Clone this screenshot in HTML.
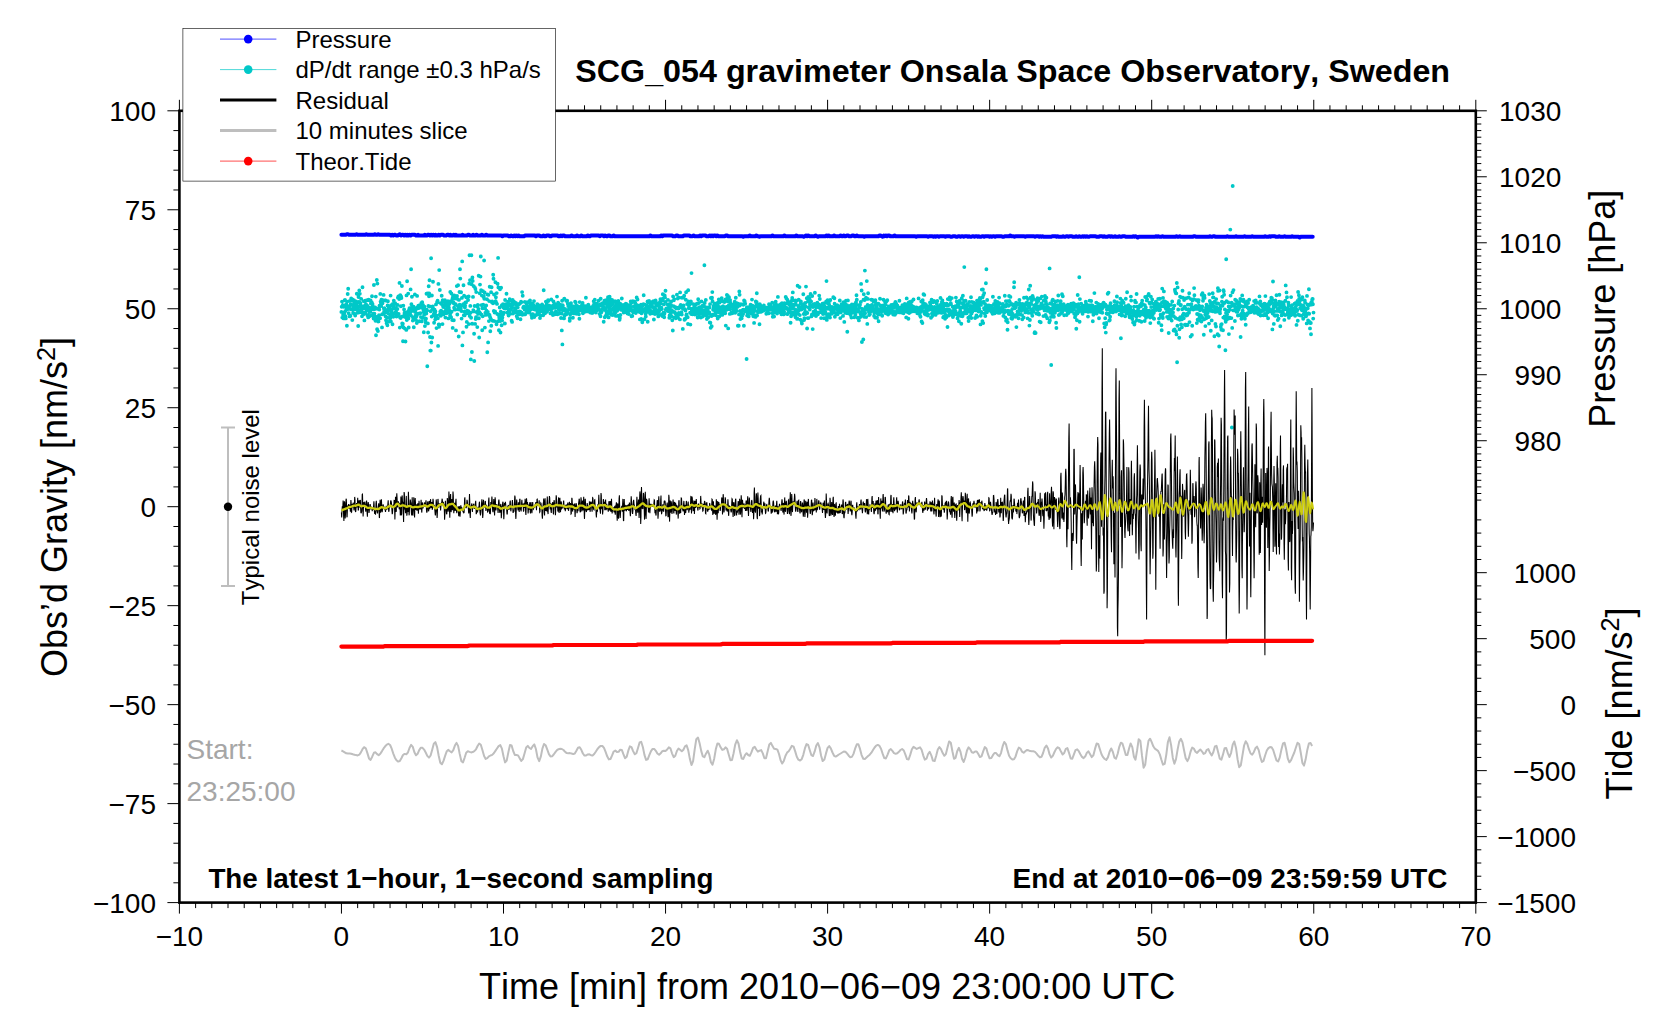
<!DOCTYPE html>
<html lang="en"><head><meta charset="utf-8">
<title>SCG_054 gravimeter Onsala Space Observatory, Sweden</title>
<style>
html,body{margin:0;padding:0;background:#fff;}
body{width:1676px;height:1020px;overflow:hidden;}
svg{display:block;}
text{font-family:"Liberation Sans", Arial, Helvetica, sans-serif;fill:#000;font-kerning:none;}
.an{font-size:28px;}
.lb{font-size:36px;}
.lg{font-size:24px;}
.b{font-weight:bold;}
.tk{stroke:#000;stroke-width:1;fill:none;}
</style></head><body>
<svg width="1676" height="1020" viewBox="0 0 1676 1020">
<rect x="0" y="0" width="1676" height="1020" fill="#fff"/>
<g id="data" fill="none" stroke-linejoin="round">
<path d="M341.4 311.9h0M341.7 306.8h0M342 301.6h0M342.3 317.6h0M342.5 306.5h0M342.8 305.1h0M343.1 315h0M343.3 306.8h0M343.6 318.4h0M343.9 312.9h0M344.2 313.5h0M344.4 317.3h0M344.7 300.2h0M345 299.9h0M345.2 311.3h0M345.5 316.1h0M345.8 318.4h0M346 307.3h0M346.3 304.1h0M346.6 308.9h0M346.9 325.8h0M347.1 301.6h0M347.4 309.3h0M347.7 294h0M347.9 307.7h0M348.2 288.7h0M348.5 308.9h0M348.7 313.3h0M349 306.2h0M349.3 306.1h0M349.6 316.4h0M349.8 300.9h0M350.1 308.7h0M350.4 315.9h0M350.6 304.5h0M350.9 309.2h0M351.2 298.5h0M351.4 308.9h0M351.7 300.6h0M352 309.5h0M352.3 320.1h0M352.5 299.4h0M352.8 305.6h0M353.1 313.1h0M353.3 309.6h0M353.6 309.1h0M353.9 300.2h0M354.1 303.3h0M354.4 313.7h0M354.7 306.6h0M355 302.5h0M355.2 315.6h0M355.5 304.5h0M355.8 309.4h0M356 301.5h0M356.3 307.2h0M356.6 304.3h0M356.8 293.8h0M357.1 305.7h0M357.4 309h0M357.7 312.7h0M357.9 308.7h0M358.2 326h0M358.5 297h0M358.7 302h0M359 311h0M359.3 290.4h0M359.5 312.2h0M359.8 293.7h0M360.1 306.9h0M360.4 302.9h0M360.6 305.3h0M360.9 311.1h0M361.2 298.9h0M361.4 311.2h0M361.7 309.4h0M362 316.3h0M362.2 312.2h0M362.5 287.2h0M362.8 313.2h0M363.1 307.1h0M363.3 314.5h0M363.6 306.3h0M363.9 301.2h0M364.1 308.4h0M364.4 320.4h0M364.7 306.6h0M364.9 312.8h0M365.2 300.8h0M365.5 313.4h0M365.8 307.6h0M366 304.2h0M366.3 309.3h0M366.6 310.5h0M366.8 307h0M367.1 300.1h0M367.4 315.2h0M367.6 305.9h0M367.9 315h0M368.2 317.4h0M368.5 307.5h0M368.7 299.7h0M369 300.2h0M369.3 311h0M369.5 312.1h0M369.8 308.1h0M370.1 316h0M370.3 311.3h0M370.6 300.5h0M370.9 303.6h0M371.2 308.7h0M371.4 307.8h0M371.7 302.2h0M372 296.2h0M372.2 315h0M372.5 303.9h0M372.8 306h0M373 309.2h0M373.3 313.7h0M373.6 318.5h0M373.9 285h0M374.1 308.3h0M374.4 313.7h0M374.7 316.5h0M374.9 309h0M375.2 307.5h0M375.5 320.7h0M375.8 296.6h0M376 335.3h0M376.3 316.9h0M376.6 320.4h0M376.8 280h0M377.1 329.3h0M377.4 283.6h0M377.6 308.7h0M377.9 331.1h0M378.2 321.5h0M378.5 321.4h0M378.7 318.1h0M379 315.3h0M379.3 309.6h0M379.5 305.7h0M379.8 306.6h0M380.1 318.2h0M380.3 293.9h0M380.6 301.6h0M380.9 303.7h0M381.2 306.1h0M381.4 299.8h0M381.7 300h0M382 327.4h0M382.2 314.2h0M382.5 303.3h0M382.8 300.2h0M383 300.3h0M383.3 313.9h0M383.6 294.9h0M383.9 308.4h0M384.1 311.3h0M384.4 308.2h0M384.7 312.3h0M384.9 312.6h0M385.2 300.4h0M385.5 316.2h0M385.7 300.5h0M386 320.2h0M386.3 312h0M386.6 323.3h0M386.8 310.1h0M387.1 317.8h0M387.4 325.3h0M387.6 305.4h0M387.9 301.2h0M388.2 310.6h0M388.4 308.4h0M388.7 313.8h0M389 306.4h0M389.3 321.6h0M389.5 309.3h0M389.8 308.5h0M390.1 318.5h0M390.3 316.6h0M390.6 295.6h0M390.9 321.4h0M391.1 305.2h0M391.4 314.8h0M391.7 311.7h0M392 315.6h0M392.2 309.1h0M392.5 324.2h0M392.8 303.9h0M393 316.3h0M393.3 316.8h0M393.6 307.9h0M393.8 300.6h0M394.1 304.5h0M394.4 308h0M394.7 313.4h0M394.9 304h0M395.2 303.2h0M395.5 308.2h0M395.7 311.8h0M396 307.9h0M396.3 312.5h0M396.5 316.6h0M396.8 308.6h0M397.1 315h0M397.4 309h0M397.6 304.9h0M397.9 297.7h0M398.2 297.1h0M398.4 296.4h0M398.7 314h0M399 296.8h0M399.2 299.1h0M399.5 282.9h0M399.8 327.6h0M400.1 317.4h0M400.3 295.1h0M400.6 318h0M400.9 306.2h0M401.1 296.4h0M401.4 298h0M401.7 316.7h0M401.9 286h0M402.2 323.4h0M402.5 325.4h0M402.8 323.8h0M403 341.2h0M403.3 305.6h0M403.6 327.5h0M403.8 316.3h0M404.1 309.4h0M404.4 314.1h0M404.6 312.5h0M404.9 328.6h0M405.2 317h0M405.5 341.5h0M405.7 316.7h0M406 317h0M406.3 329.9h0M406.5 295.4h0M406.8 320.1h0M407.1 281.2h0M407.4 317.7h0M407.6 312h0M407.9 314.7h0M408.2 293.6h0M408.4 318.5h0M408.7 327.5h0M409 309.9h0M409.2 312.1h0M409.5 308.3h0M409.8 310.9h0M410.1 312h0M410.3 312.5h0M410.6 289.4h0M410.9 315.5h0M411.1 269.2h0M411.4 304.3h0M411.7 307.6h0M411.9 296.7h0M412.2 306.3h0M412.5 310.9h0M412.8 320.6h0M413 317.5h0M413.3 307.5h0M413.6 306.8h0M413.8 327.2h0M414.1 308.4h0M414.4 310.6h0M414.6 317.3h0M414.9 294.4h0M415.2 312h0M415.5 315.6h0M415.7 309.6h0M416 320h0M416.3 308.2h0M416.5 316.2h0M416.8 323.1h0M417.1 295.9h0M417.3 313.8h0M417.6 307.3h0M417.9 308.3h0M418.2 313.9h0M418.4 305.6h0M418.7 313.6h0M419 308.1h0M419.2 307.6h0M419.5 321.3h0M419.8 306.2h0M420 305.1h0M420.3 313.3h0M420.6 307.3h0M420.9 317.1h0M421.1 306.3h0M421.4 303h0M421.7 321.4h0M421.9 307.2h0M422.2 302.2h0M422.5 317.7h0M422.7 305.6h0M423 305h0M423.3 309.5h0M423.6 311.7h0M423.8 332.2h0M424.1 314.9h0M424.4 306.7h0M424.6 310.3h0M424.9 326.1h0M425.2 318.8h0M425.4 320.1h0M425.7 322.4h0M426 318.8h0M426.3 313.5h0M426.5 293.8h0M426.8 309.6h0M427.1 310.5h0M427.3 366.2h0M427.6 293.4h0M427.9 323.4h0M428.1 332.5h0M428.4 306h0M428.7 286.2h0M429 296.3h0M429.2 293.5h0M429.5 280.3h0M429.8 306.5h0M430 337h0M430.3 350.6h0M430.6 311.2h0M430.8 350.6h0M431.1 258.2h0M431.4 342.5h0M431.7 316.6h0M431.9 295.5h0M432.2 337.5h0M432.5 309.6h0M432.7 306.4h0M433 281.7h0M433.3 308.6h0M433.5 315.2h0M433.8 314.1h0M434.1 322.7h0M434.4 313h0M434.6 309.8h0M434.9 313h0M435.2 319.6h0M435.4 311.5h0M435.7 316.9h0M436 304.4h0M436.2 317.7h0M436.5 328.1h0M436.8 315.8h0M437.1 302h0M437.3 302.5h0M437.6 300.8h0M437.9 318.3h0M438.1 345.9h0M438.4 283.9h0M438.7 324.4h0M439 326.7h0M439.2 270.1h0M439.5 324.8h0M439.8 290h0M440 314.1h0M440.3 311.6h0M440.6 303.1h0M440.8 315.8h0M441.1 310.6h0M441.4 303.9h0M441.7 295.7h0M441.9 311.7h0M442.2 302.2h0M442.5 324.1h0M442.7 300.3h0M443 306h0M443.3 307.1h0M443.5 314.4h0M443.8 312.8h0M444.1 305.4h0M444.4 300.7h0M444.6 305.2h0M444.9 300.2h0M445.2 311.3h0M445.4 317.6h0M445.7 303.2h0M446 309.1h0M446.2 304.6h0M446.5 313.3h0M446.8 311.5h0M447.1 307h0M447.3 303h0M447.6 312.2h0M447.9 301.2h0M448.1 307h0M448.4 318.4h0M448.7 305.2h0M448.9 307.8h0M449.2 310.1h0M449.5 303.6h0M449.8 312.5h0M450 314.9h0M450.3 291.9h0M450.6 312.7h0M450.8 301.1h0M451.1 317.3h0M451.4 293.5h0M451.6 311.7h0M451.9 300.7h0M452.2 320.1h0M452.5 298.5h0M452.7 327.9h0M453 296.3h0M453.3 303h0M453.5 302.5h0M453.8 320.2h0M454.1 307.7h0M454.3 295.4h0M454.6 309.5h0M454.9 298.5h0M455.2 304.7h0M455.4 309.6h0M455.7 304.2h0M456 330.4h0M456.2 297.6h0M456.5 297.6h0M456.8 286.1h0M457 296h0M457.3 314.5h0M457.6 299.1h0M457.9 306.3h0M458.1 285.2h0M458.4 309.4h0M458.7 336.5h0M458.9 299.9h0M459.2 306.2h0M459.5 292h0M459.7 304.6h0M460 269.2h0M460.3 278.6h0M460.6 306.9h0M460.8 308.7h0M461.1 292.2h0M461.4 311.1h0M461.6 318.6h0M461.9 297.9h0M462.2 261.4h0M462.4 345.4h0M462.7 305.5h0M463 332.4h0M463.3 304.1h0M463.5 285.2h0M463.8 315.2h0M464.1 295.6h0M464.3 311.6h0M464.6 315.4h0M464.9 307.5h0M465.1 305.7h0M465.4 302.4h0M465.7 302.6h0M466 302.4h0M466.2 297.2h0M466.5 326.7h0M466.8 321.9h0M467 313.3h0M467.3 310.6h0M467.6 313.1h0M467.8 297.3h0M468.1 300h0M468.4 311.3h0M468.7 296.5h0M468.9 324.1h0M469.2 283.5h0M469.5 255.3h0M469.7 316.1h0M470 280.1h0M470.3 305.9h0M470.5 312.8h0M470.8 359.4h0M471.1 317.7h0M471.4 255.3h0M471.6 284.2h0M471.9 352h0M472.2 323.7h0M472.4 277.5h0M472.7 280.9h0M473 296.9h0M473.3 310.1h0M473.5 311.4h0M473.8 286.3h0M474.1 333.8h0M474.3 361h0M474.6 306h0M474.9 287.6h0M475.1 323.9h0M475.4 289.1h0M475.7 319h0M476 317.2h0M476.2 292.1h0M476.5 312h0M476.8 306h0M477 318.3h0M477.3 327.1h0M477.6 306.6h0M477.8 305h0M478.1 313.9h0M478.4 308.9h0M478.7 275.8h0M478.9 318.2h0M479.2 337.5h0M479.5 312.1h0M479.7 293.3h0M480 284.6h0M480.3 313.5h0M480.5 276.6h0M480.8 256.5h0M481.1 290.1h0M481.4 305.1h0M481.6 314.8h0M481.9 295.6h0M482.2 330.3h0M482.4 308.3h0M482.7 316.3h0M483 291.3h0M483.2 304.7h0M483.5 296.8h0M483.8 296h0M484.1 260.5h0M484.3 298.7h0M484.6 292.4h0M484.9 327.6h0M485.1 308.2h0M485.4 312.8h0M485.7 305.7h0M485.9 314.9h0M486.2 305.4h0M486.5 310.7h0M486.8 313.3h0M487 299.2h0M487.3 352.3h0M487.6 294.4h0M487.8 312h0M488.1 342.4h0M488.4 294.9h0M488.6 314.7h0M488.9 321.1h0M489.2 301.1h0M489.5 314.9h0M489.7 286.7h0M490 317h0M490.3 331.3h0M490.5 318.2h0M490.8 319.1h0M491.1 292.2h0M491.3 325.8h0M491.6 287.3h0M491.9 302.3h0M492.2 301.4h0M492.4 302.6h0M492.7 320.7h0M493 303.3h0M493.2 274.8h0M493.5 278.8h0M493.8 310.9h0M494 294.5h0M494.3 321.1h0M494.6 312.5h0M494.9 302.2h0M495.1 311.4h0M495.4 282.2h0M495.7 301.3h0M495.9 297.3h0M496.2 302.7h0M496.5 324.2h0M496.7 293.1h0M497 303.9h0M497.3 314h0M497.6 283.7h0M497.8 321.4h0M498.1 257.9h0M498.4 287.4h0M498.6 314.7h0M498.9 330.2h0M499.2 317h0M499.4 318.8h0M499.7 307.5h0M500 289.3h0M500.3 321.1h0M500.5 332.5h0M500.8 311.6h0M501.1 287.8h0M501.3 314.4h0M501.6 325.3h0M501.9 305.1h0M502.1 320.4h0M502.4 317.5h0M502.7 314.6h0M503 304.3h0M503.2 314.2h0M503.5 307.5h0M503.8 312.8h0M504 306.7h0M504.3 308.3h0M504.6 307.2h0M504.9 323.5h0M505.1 300h0M505.4 308.5h0M505.7 304.2h0M505.9 307.3h0M506.2 305.4h0M506.5 293.8h0M506.7 304.6h0M507 305.1h0M507.3 312.4h0M507.6 307.9h0M507.8 306h0M508.1 301.6h0M508.4 314.7h0M508.6 315.6h0M508.9 310.2h0M509.2 312.7h0M509.4 304h0M509.7 299.2h0M510 313.9h0M510.3 305.3h0M510.5 304.8h0M510.8 310h0M511.1 308.5h0M511.3 300.3h0M511.6 320.7h0M511.9 306.4h0M512.1 321.9h0M512.4 302.5h0M512.7 299.9h0M513 313.5h0M513.2 304.2h0M513.5 303.5h0M513.8 311.3h0M514 301.6h0M514.3 310.6h0M514.6 303.5h0M514.8 308h0M515.1 310.8h0M515.4 312.3h0M515.7 310.2h0M515.9 303h0M516.2 304.4h0M516.5 312.3h0M516.7 316.2h0M517 303.9h0M517.3 307.4h0M517.5 318.3h0M517.8 307.2h0M518.1 304.9h0M518.4 304.6h0M518.6 312.7h0M518.9 312.5h0M519.2 311.5h0M519.4 314.4h0M519.7 303.7h0M520 314h0M520.2 311.6h0M520.5 319.3h0M520.8 302.7h0M521.1 301.6h0M521.3 302.2h0M521.6 313.4h0M521.9 312.7h0M522.1 292.1h0M522.4 314.8h0M522.7 295.8h0M522.9 314.1h0M523.2 307.7h0M523.5 307h0M523.8 306.6h0M524 306.7h0M524.3 308.6h0M524.6 309.4h0M524.8 301.9h0M525.1 314.4h0M525.4 308.3h0M525.6 308.7h0M525.9 308.1h0M526.2 312.3h0M526.5 303.7h0M526.7 307.1h0M527 311h0M527.3 302.2h0M527.5 309.8h0M527.8 308.4h0M528.1 312.5h0M528.3 311.7h0M528.6 306.2h0M528.9 307.9h0M529.2 309.4h0M529.4 311.6h0M529.7 305.7h0M530 300.4h0M530.2 302.5h0M530.5 305.3h0M530.8 309.6h0M531 303.5h0M531.3 314.8h0M531.6 315.5h0M531.9 317.7h0M532.1 314.1h0M532.4 304.9h0M532.7 308.3h0M532.9 314.2h0M533.2 304.6h0M533.5 309.1h0M533.7 315.6h0M534 301.1h0M534.3 317h0M534.6 306.5h0M534.8 309.5h0M535.1 307.6h0M535.4 308h0M535.6 306.5h0M535.9 309.4h0M536.2 315h0M536.5 307h0M536.7 310.1h0M537 309.2h0M537.3 304.1h0M537.5 312.3h0M537.8 306.5h0M538.1 310.4h0M538.3 310.9h0M538.6 305.3h0M538.9 313h0M539.2 314.1h0M539.4 314.4h0M539.7 308.2h0M540 318h0M540.2 311.3h0M540.5 308.6h0M540.8 307.5h0M541 315.5h0M541.3 308.4h0M541.6 309.2h0M541.9 311.1h0M542.1 304.5h0M542.4 308.8h0M542.7 305.9h0M542.9 306.4h0M543.2 315.3h0M543.5 306.9h0M543.7 290.3h0M544 313.2h0M544.3 312.1h0M544.6 307.7h0M544.8 309.8h0M545.1 313.3h0M545.4 306.2h0M545.6 311.7h0M545.9 301.6h0M546.2 309.4h0M546.4 307.2h0M546.7 303.9h0M547 311.8h0M547.3 308.9h0M547.5 309.3h0M547.8 310h0M548.1 300.3h0M548.3 301h0M548.6 308h0M548.9 305.8h0M549.1 308.1h0M549.4 305.6h0M549.7 306.6h0M550 308.3h0M550.2 307.3h0M550.5 313.4h0M550.8 309.3h0M551 306.8h0M551.3 299.5h0M551.6 311.3h0M551.8 308.4h0M552.1 307.3h0M552.4 305.9h0M552.7 313.1h0M552.9 315h0M553.2 305.5h0M553.5 301.5h0M553.7 307.6h0M554 307.7h0M554.3 307.8h0M554.5 303.7h0M554.8 314.3h0M555.1 304.5h0M555.4 307.5h0M555.6 312.1h0M555.9 311.5h0M556.2 312h0M556.4 304.8h0M556.7 314h0M557 296.6h0M557.2 307.3h0M557.5 314.3h0M557.8 313.6h0M558.1 302.8h0M558.3 305.3h0M558.6 308.6h0M558.9 313.7h0M559.1 305.1h0M559.4 309.7h0M559.7 312.4h0M559.9 309.4h0M560.2 304.8h0M560.5 307.1h0M560.8 305.3h0M561 318h0M561.3 307.4h0M561.6 313.5h0M561.8 330.4h0M562.1 300.8h0M562.4 344.4h0M562.6 305.1h0M562.9 305.7h0M563.2 310.3h0M563.5 309.8h0M563.7 308.5h0M564 318.4h0M564.3 298.6h0M564.5 315.7h0M564.8 310.6h0M565.1 309h0M565.3 314.5h0M565.6 310.9h0M565.9 310h0M566.2 300.8h0M566.4 314.2h0M566.7 310.2h0M567 311.2h0M567.2 300.8h0M567.5 311.9h0M567.8 303.7h0M568 312.7h0M568.3 305.9h0M568.6 305.9h0M568.9 309.8h0M569.1 307.9h0M569.4 306h0M569.7 320.7h0M569.9 318.3h0M570.2 314.5h0M570.5 307.1h0M570.8 309.7h0M571 303.1h0M571.3 305.8h0M571.6 310.3h0M571.8 312.4h0M572.1 307.6h0M572.4 308.2h0M572.6 306.1h0M572.9 317.7h0M573.2 308.3h0M573.5 310.3h0M573.7 313.4h0M574 312.6h0M574.3 310.6h0M574.5 307.9h0M574.8 312.4h0M575.1 301.7h0M575.3 308.2h0M575.6 302.2h0M575.9 312.6h0M576.2 305.2h0M576.4 313.8h0M576.7 310.7h0M577 306.2h0M577.2 313h0M577.5 313.1h0M577.8 309.3h0M578 306.8h0M578.3 306.5h0M578.6 309.4h0M578.9 314.3h0M579.1 310.5h0M579.4 318.8h0M579.7 302.1h0M579.9 307.9h0M580.2 308.2h0M580.5 308.8h0M580.7 308.2h0M581 310.3h0M581.3 307.5h0M581.6 310.5h0M581.8 305.5h0M582.1 309.6h0M582.4 305.4h0M582.6 302.9h0M582.9 313.2h0M583.2 305.6h0M583.4 306.1h0M583.7 306.3h0M584 307.1h0M584.3 312h0M584.5 310.9h0M584.8 308.4h0M585.1 310.9h0M585.3 308.3h0M585.6 306.3h0M585.9 297.8h0M586.1 309.9h0M586.4 308.6h0M586.7 310.2h0M587 311.4h0M587.2 308.1h0M587.5 309.3h0M587.8 307.9h0M588 309.1h0M588.3 304.7h0M588.6 308.6h0M588.8 307.4h0M589.1 308.9h0M589.4 307.2h0M589.7 308.4h0M589.9 311.1h0M590.2 312.6h0M590.5 312h0M590.7 308.6h0M591 310.8h0M591.3 309.4h0M591.5 307.2h0M591.8 307.2h0M592.1 313.1h0M592.4 312.9h0M592.6 307.9h0M592.9 306.6h0M593.2 306h0M593.4 310.1h0M593.7 301.3h0M594 304.4h0M594.2 308.1h0M594.5 308.1h0M594.8 299.8h0M595.1 304.1h0M595.3 311.1h0M595.6 305.5h0M595.9 312.6h0M596.1 311.7h0M596.4 303.8h0M596.7 310.4h0M596.9 303.9h0M597.2 306.5h0M597.5 309h0M597.8 307.9h0M598 307h0M598.3 309.6h0M598.6 300.7h0M598.8 309.4h0M599.1 309.3h0M599.4 309.6h0M599.6 313.9h0M599.9 304.6h0M600.2 310.6h0M600.5 316.2h0M600.7 298.7h0M601 305.6h0M601.3 312.6h0M601.5 312.1h0M601.8 303.6h0M602.1 305.3h0M602.4 304.2h0M602.6 303.3h0M602.9 308.6h0M603.2 306.6h0M603.4 307.7h0M603.7 321.8h0M604 309.7h0M604.2 301.8h0M604.5 300.8h0M604.8 317.2h0M605.1 303.6h0M605.3 308.9h0M605.6 316h0M605.9 309h0M606.1 300.1h0M606.4 311.6h0M606.7 313.5h0M606.9 306.9h0M607.2 304.4h0M607.5 301.7h0M607.8 313.7h0M608 297.3h0M608.3 299.7h0M608.6 317.4h0M608.8 311h0M609.1 304h0M609.4 306.7h0M609.6 296.8h0M609.9 309.1h0M610.2 301.6h0M610.5 299.4h0M610.7 313.3h0M611 306h0M611.3 314.8h0M611.5 309.9h0M611.8 303h0M612.1 300h0M612.3 309.6h0M612.6 315h0M612.9 303.7h0M613.2 309.3h0M613.4 309.7h0M613.7 308.1h0M614 314.8h0M614.2 313.1h0M614.5 308.6h0M614.8 306.7h0M615 301.1h0M615.3 308.5h0M615.6 312.3h0M615.9 315.9h0M616.1 310.2h0M616.4 304.3h0M616.7 305.7h0M616.9 301.4h0M617.2 310.8h0M617.5 305.9h0M617.7 303.6h0M618 315.8h0M618.3 301h0M618.6 306.8h0M618.8 308.5h0M619.1 307h0M619.4 308.5h0M619.6 319.8h0M619.9 318.1h0M620.2 303.6h0M620.4 314.9h0M620.7 307.9h0M621 309.7h0M621.3 307.3h0M621.5 308.5h0M621.8 298.5h0M622.1 306h0M622.3 308.7h0M622.6 305.3h0M622.9 310.2h0M623.1 305h0M623.4 308.5h0M623.7 312.6h0M624 307h0M624.2 312.4h0M624.5 305.7h0M624.8 307h0M625 311.1h0M625.3 307.3h0M625.6 308.2h0M625.8 303.7h0M626.1 309.1h0M626.4 308.4h0M626.7 304.2h0M626.9 306h0M627.2 306.4h0M627.5 313.6h0M627.7 309.8h0M628 312.3h0M628.3 310.5h0M628.5 309.6h0M628.8 314.1h0M629.1 305.5h0M629.4 308.7h0M629.6 308.5h0M629.9 308.1h0M630.2 304.7h0M630.4 307.1h0M630.7 301.5h0M631 309.4h0M631.2 310.5h0M631.5 316.2h0M631.8 302.6h0M632.1 310.5h0M632.3 316h0M632.6 301.4h0M632.9 301.1h0M633.1 312.2h0M633.4 310.5h0M633.7 306.4h0M634 310.1h0M634.2 306.9h0M634.5 301.8h0M634.8 311.8h0M635 307.4h0M635.3 303h0M635.6 306.7h0M635.8 313.1h0M636.1 307h0M636.4 305.4h0M636.7 297.5h0M636.9 308.4h0M637.2 305.1h0M637.5 299.5h0M637.7 311.1h0M638 310.7h0M638.3 306.8h0M638.5 311.6h0M638.8 307.2h0M639.1 307.6h0M639.4 305.7h0M639.6 312.1h0M639.9 319.4h0M640.2 308.6h0M640.4 311.5h0M640.7 307.6h0M641 304.7h0M641.2 319h0M641.5 313.3h0M641.8 306.6h0M642.1 308.2h0M642.3 322.2h0M642.6 305.4h0M642.9 311.4h0M643.1 310.5h0M643.4 304.1h0M643.7 295.2h0M643.9 309.6h0M644.2 309.6h0M644.5 319.3h0M644.8 310h0M645 304.7h0M645.3 308.6h0M645.6 314h0M645.8 316.5h0M646.1 309.2h0M646.4 304.9h0M646.6 311.9h0M646.9 311.8h0M647.2 307.5h0M647.5 301.4h0M647.7 321.8h0M648 302.3h0M648.3 311.8h0M648.5 301.3h0M648.8 310.5h0M649.1 300.9h0M649.3 309.2h0M649.6 306.2h0M649.9 309.9h0M650.2 313.8h0M650.4 304.7h0M650.7 312.6h0M651 311h0M651.2 311.8h0M651.5 302.3h0M651.8 305h0M652 303h0M652.3 312h0M652.6 307.1h0M652.9 313.3h0M653.1 303.1h0M653.4 301.3h0M653.7 307.7h0M653.9 319.5h0M654.2 307.2h0M654.5 313.1h0M654.7 310.1h0M655 314.1h0M655.3 309.1h0M655.6 300.4h0M655.8 301.5h0M656.1 303.6h0M656.4 305.8h0M656.6 311h0M656.9 311.5h0M657.2 313.7h0M657.4 305h0M657.7 303.9h0M658 304.3h0M658.3 316.4h0M658.5 310h0M658.8 314.3h0M659.1 311.4h0M659.3 306.7h0M659.6 307.3h0M659.9 302h0M660.1 309.4h0M660.4 299.1h0M660.7 303.2h0M661 309h0M661.2 307.4h0M661.5 314.7h0M661.8 309h0M662 315.1h0M662.3 316.1h0M662.6 300.2h0M662.8 294.3h0M663.1 298.5h0M663.4 312.6h0M663.7 315.1h0M663.9 304.4h0M664.2 317.3h0M664.5 313.6h0M664.7 295.5h0M665 297.4h0M665.3 301.9h0M665.5 290.8h0M665.8 309.7h0M666.1 309h0M666.4 308.5h0M666.6 310.2h0M666.9 309h0M667.2 310.7h0M667.4 309.5h0M667.7 304.5h0M668 299.9h0M668.3 309.1h0M668.5 311.3h0M668.8 306.9h0M669.1 304.2h0M669.3 317.8h0M669.6 315.5h0M669.9 307.3h0M670.1 305.5h0M670.4 306.6h0M670.7 313.1h0M671 305h0M671.2 301.5h0M671.5 316.2h0M671.8 310.1h0M672 311.7h0M672.3 320.2h0M672.6 311.9h0M672.8 330.5h0M673.1 296.4h0M673.4 311.7h0M673.7 306.2h0M673.9 300.3h0M674.2 299.1h0M674.5 317.4h0M674.7 312.2h0M675 307.3h0M675.3 313.2h0M675.5 307.2h0M675.8 318.3h0M676.1 308.4h0M676.4 316.2h0M676.6 307.7h0M676.9 294.8h0M677.2 314.3h0M677.4 316.7h0M677.7 298.6h0M678 317.5h0M678.2 307.6h0M678.5 308.5h0M678.8 313h0M679.1 297.6h0M679.3 313.3h0M679.6 314.2h0M679.9 319.4h0M680.1 292.4h0M680.4 305.6h0M680.7 305h0M680.9 306.2h0M681.2 307.6h0M681.5 312.2h0M681.8 314.6h0M682 297.8h0M682.3 307.4h0M682.6 308.2h0M682.8 328.9h0M683.1 308.2h0M683.4 297.5h0M683.6 305.4h0M683.9 309h0M684.2 295.7h0M684.5 319.8h0M684.7 319h0M685 309.3h0M685.3 318.9h0M685.5 310.5h0M685.8 299.7h0M686.1 292.3h0M686.3 315.3h0M686.6 314.5h0M686.9 317.1h0M687.2 303.9h0M687.4 304.2h0M687.7 317.3h0M688 324h0M688.2 290.3h0M688.5 301.5h0M688.8 308.3h0M689 307.1h0M689.3 308.1h0M689.6 303h0M689.9 304.2h0M690.1 312.6h0M690.4 324.6h0M690.7 303.3h0M690.9 301.5h0M691.2 314.1h0M691.5 273.1h0M691.7 311.3h0M692 312.9h0M692.3 308.7h0M692.6 314.2h0M692.8 310.7h0M693.1 309h0M693.4 304.1h0M693.6 310.7h0M693.9 313.2h0M694.2 311.9h0M694.4 306.3h0M694.7 311.3h0M695 314.6h0M695.3 310.7h0M695.5 309h0M695.8 314h0M696.1 304.3h0M696.3 308.6h0M696.6 308.5h0M696.9 303.6h0M697.1 308.5h0M697.4 309.3h0M697.7 317.5h0M698 311.5h0M698.2 299.3h0M698.5 310.2h0M698.8 303h0M699 314.8h0M699.3 307.3h0M699.6 313.2h0M699.9 310.1h0M700.1 313.3h0M700.4 311.9h0M700.7 308.6h0M700.9 317.5h0M701.2 307.7h0M701.5 301.4h0M701.7 306.7h0M702 312.5h0M702.3 310h0M702.6 305.8h0M702.8 316.5h0M703.1 314.4h0M703.4 312.1h0M703.6 314.8h0M703.9 312.7h0M704.2 306.4h0M704.4 265.2h0M704.7 303h0M705 311.2h0M705.3 310.4h0M705.5 307.1h0M705.8 299.9h0M706.1 312.1h0M706.3 315.6h0M706.6 313.9h0M706.9 319h0M707.1 312.7h0M707.4 307.8h0M707.7 311.6h0M708 311.2h0M708.2 317.5h0M708.5 307.4h0M708.8 307.5h0M709 313.8h0M709.3 312.4h0M709.6 307.6h0M709.8 322.5h0M710.1 304.1h0M710.4 322.8h0M710.7 327.7h0M710.9 298h0M711.2 315h0M711.5 316h0M711.7 326.2h0M712 297.7h0M712.3 292.1h0M712.5 301.3h0M712.8 315.2h0M713.1 309.7h0M713.4 314.5h0M713.6 306.1h0M713.9 307.7h0M714.2 304.8h0M714.4 303.7h0M714.7 314.2h0M715 310.5h0M715.2 307.4h0M715.5 311.3h0M715.8 315.2h0M716.1 308.5h0M716.3 303.4h0M716.6 308.7h0M716.9 310.7h0M717.1 311.7h0M717.4 306h0M717.7 318.5h0M717.9 306h0M718.2 302.4h0M718.5 306.7h0M718.8 299.4h0M719 312.4h0M719.3 316.5h0M719.6 302.6h0M719.8 309.7h0M720.1 312.1h0M720.4 312.1h0M720.6 313.1h0M720.9 310.3h0M721.2 307.3h0M721.5 300.5h0M721.7 298.1h0M722 312.1h0M722.3 314.9h0M722.5 301.3h0M722.8 308.5h0M723.1 306.2h0M723.3 308.6h0M723.6 307.6h0M723.9 310.6h0M724.2 308.9h0M724.4 302.1h0M724.7 310.9h0M725 309h0M725.2 313.3h0M725.5 299.4h0M725.8 325.6h0M726 308.7h0M726.3 307h0M726.6 309.7h0M726.9 294.9h0M727.1 301.1h0M727.4 296.6h0M727.7 295.6h0M727.9 301.5h0M728.2 328.4h0M728.5 305.7h0M728.7 299.2h0M729 297.2h0M729.3 309.1h0M729.6 309.2h0M729.8 313.9h0M730.1 300.1h0M730.4 302.8h0M730.6 307h0M730.9 306.4h0M731.2 305.6h0M731.5 312.5h0M731.7 306.3h0M732 313.2h0M732.3 305.3h0M732.5 312.7h0M732.8 313.1h0M733.1 307.6h0M733.3 309.5h0M733.6 305.7h0M733.9 309.2h0M734.2 308.4h0M734.4 303.5h0M734.7 301.8h0M735 311.3h0M735.2 312.8h0M735.5 310.3h0M735.8 297.8h0M736 306.1h0M736.3 310.4h0M736.6 311.1h0M736.9 303.1h0M737.1 304.6h0M737.4 307h0M737.7 306.4h0M737.9 325.7h0M738.2 303.9h0M738.5 304h0M738.7 325.7h0M739 314.4h0M739.3 291.4h0M739.6 294.7h0M739.8 305.5h0M740.1 310.9h0M740.4 319h0M740.6 314.1h0M740.9 304.3h0M741.2 314.9h0M741.4 316.6h0M741.7 318.3h0M742 311.2h0M742.3 313.6h0M742.5 315.3h0M742.8 309.9h0M743.1 313.9h0M743.3 304.8h0M743.6 309.7h0M743.9 325.8h0M744.1 300.4h0M744.4 302.7h0M744.7 301.2h0M745 303.2h0M745.2 303.7h0M745.5 311.1h0M745.8 309.8h0M746 311.5h0M746.3 309.7h0M746.6 359h0M746.8 307.4h0M747.1 315.6h0M747.4 309.9h0M747.7 313.5h0M747.9 308.4h0M748.2 307.3h0M748.5 310h0M748.7 316.4h0M749 310h0M749.3 312.6h0M749.5 310.6h0M749.8 310.7h0M750.1 306.9h0M750.4 311.4h0M750.6 304.6h0M750.9 309.5h0M751.2 313.6h0M751.4 309.1h0M751.7 307.9h0M752 299.6h0M752.2 308.9h0M752.5 305.7h0M752.8 312.7h0M753.1 307.8h0M753.3 316.2h0M753.6 310h0M753.9 311.7h0M754.1 322.9h0M754.4 306.9h0M754.7 309.9h0M754.9 307.6h0M755.2 315.4h0M755.5 316.9h0M755.8 301.4h0M756 306.8h0M756.3 303.8h0M756.6 301.9h0M756.8 293.2h0M757.1 315.6h0M757.4 311.1h0M757.6 306.2h0M757.9 312.6h0M758.2 311.8h0M758.5 310.8h0M758.7 308.2h0M759 310.6h0M759.3 311.5h0M759.5 324.2h0M759.8 304.2h0M760.1 311.2h0M760.3 305.3h0M760.6 308.1h0M760.9 311.9h0M761.2 309.1h0M761.4 307h0M761.7 311.3h0M762 311.3h0M762.2 309.9h0M762.5 309.2h0M762.8 308.3h0M763.1 306.7h0M763.3 308.5h0M763.6 310.5h0M763.9 305.5h0M764.1 307h0M764.4 309.6h0M764.7 308.7h0M764.9 310h0M765.2 309.6h0M765.5 309.5h0M765.8 308.4h0M766 309.4h0M766.3 313.7h0M766.6 307.7h0M766.8 308.5h0M767.1 307.6h0M767.4 310.4h0M767.6 309.9h0M767.9 309.6h0M768.2 307.7h0M768.5 313.4h0M768.7 308.8h0M769 304.2h0M769.3 309.8h0M769.5 306.4h0M769.8 305.4h0M770.1 309.2h0M770.3 306.8h0M770.6 309.5h0M770.9 306h0M771.2 308.6h0M771.4 308.4h0M771.7 306.9h0M772 313.1h0M772.2 302.8h0M772.5 309.9h0M772.8 316.8h0M773 307.3h0M773.3 312.7h0M773.6 313.1h0M773.9 311.9h0M774.1 316.6h0M774.4 306.6h0M774.7 307.1h0M774.9 305h0M775.2 310.8h0M775.5 309h0M775.7 301.7h0M776 308.5h0M776.3 306.8h0M776.6 310.4h0M776.8 304.9h0M777.1 313.6h0M777.4 308.9h0M777.6 312.3h0M777.9 296.9h0M778.2 310.8h0M778.4 310.9h0M778.7 308.7h0M779 310.1h0M779.3 305.1h0M779.5 308.1h0M779.8 310.3h0M780.1 305.1h0M780.3 306.3h0M780.6 312.6h0M780.9 305.5h0M781.1 304h0M781.4 314.2h0M781.7 309.5h0M782 303.2h0M782.2 304h0M782.5 305.5h0M782.8 309.1h0M783 305.4h0M783.3 308.8h0M783.6 314.4h0M783.8 305.3h0M784.1 311.6h0M784.4 303.3h0M784.7 306.1h0M784.9 308.5h0M785.2 307.1h0M785.5 307.5h0M785.7 296.9h0M786 307.5h0M786.3 298.2h0M786.5 308.2h0M786.8 303.1h0M787.1 314h0M787.4 299.8h0M787.6 314h0M787.9 309.6h0M788.2 309.8h0M788.4 310.8h0M788.7 312.1h0M789 303.7h0M789.2 304.8h0M789.5 309.5h0M789.8 302.1h0M790.1 307.8h0M790.3 312.5h0M790.6 322.8h0M790.9 303.4h0M791.1 316.3h0M791.4 308.9h0M791.7 300.6h0M791.9 312.7h0M792.2 297.9h0M792.5 305.4h0M792.8 292.4h0M793 304.8h0M793.3 306h0M793.6 314.6h0M793.8 312.7h0M794.1 305.3h0M794.4 309.1h0M794.6 304.9h0M794.9 300.7h0M795.2 300.4h0M795.5 317.3h0M795.7 304h0M796 314.7h0M796.3 300.7h0M796.5 310h0M796.8 313.2h0M797.1 318.9h0M797.4 318.7h0M797.6 285.8h0M797.9 312.8h0M798.2 306h0M798.4 306.4h0M798.7 299.7h0M799 310.3h0M799.2 307.9h0M799.5 287.1h0M799.8 315.1h0M800.1 307.7h0M800.3 319.6h0M800.6 303.5h0M800.9 301.5h0M801.1 303.8h0M801.4 309.5h0M801.7 321.8h0M801.9 323.6h0M802.2 306.2h0M802.5 304.3h0M802.8 307.5h0M803 305.4h0M803.3 294.2h0M803.6 306h0M803.8 314h0M804.1 320h0M804.4 318.3h0M804.6 308.9h0M804.9 312.4h0M805.2 302.9h0M805.5 314h0M805.7 306.4h0M806 286.6h0M806.3 312.7h0M806.5 312.1h0M806.8 298.3h0M807.1 328.5h0M807.3 313h0M807.6 318.1h0M807.9 301.4h0M808.2 296.9h0M808.4 318.1h0M808.7 307.5h0M809 301.6h0M809.2 302h0M809.5 298.1h0M809.8 309.5h0M810 304.7h0M810.3 300.6h0M810.6 294h0M810.9 306.3h0M811.1 301.5h0M811.4 316.4h0M811.7 305.6h0M811.9 314.5h0M812.2 296h0M812.5 306.6h0M812.7 329.1h0M813 307.1h0M813.3 304.8h0M813.6 311.6h0M813.8 314.7h0M814.1 305.4h0M814.4 304h0M814.6 304.6h0M814.9 292.8h0M815.2 310.6h0M815.4 313.3h0M815.7 311.5h0M816 316.1h0M816.3 307.4h0M816.5 305.9h0M816.8 303.7h0M817.1 305.7h0M817.3 302.7h0M817.6 304.9h0M817.9 314.3h0M818.1 305.6h0M818.4 304.2h0M818.7 312.8h0M819 307.1h0M819.2 295.6h0M819.5 307.8h0M819.8 299h0M820 311.9h0M820.3 308.3h0M820.6 312.1h0M820.8 305.4h0M821.1 318.1h0M821.4 305h0M821.7 310.7h0M821.9 306h0M822.2 310.1h0M822.5 303.8h0M822.7 306.5h0M823 314h0M823.3 307.1h0M823.5 307h0M823.8 307.4h0M824.1 318.3h0M824.4 303.1h0M824.6 306.2h0M824.9 312.1h0M825.2 308.8h0M825.4 312.2h0M825.7 313.7h0M826 307.8h0M826.2 301.4h0M826.5 281.1h0M826.8 319.9h0M827.1 316.8h0M827.3 308.2h0M827.6 300.1h0M827.9 303.4h0M828.1 308.7h0M828.4 314.3h0M828.7 307.1h0M829 304.3h0M829.2 315.5h0M829.5 306h0M829.8 300.7h0M830 317.6h0M830.3 300h0M830.6 309.1h0M830.8 309.7h0M831.1 307.4h0M831.4 311.9h0M831.7 313.8h0M831.9 307h0M832.2 310.5h0M832.5 307.4h0M832.7 307.9h0M833 310.3h0M833.3 297.3h0M833.5 310.5h0M833.8 309.8h0M834.1 312.5h0M834.4 298.2h0M834.6 303.8h0M834.9 316.7h0M835.2 313h0M835.4 306.9h0M835.7 308.9h0M836 306.9h0M836.2 309.1h0M836.5 308h0M836.8 307.9h0M837.1 305.1h0M837.3 306.6h0M837.6 314.2h0M837.9 309h0M838.1 310.7h0M838.4 306.6h0M838.7 310.9h0M838.9 306.5h0M839.2 312h0M839.5 308h0M839.8 300.5h0M840 309.9h0M840.3 318.1h0M840.6 309.3h0M840.8 312.4h0M841.1 305.9h0M841.4 310.8h0M841.6 304.2h0M841.9 307h0M842.2 306.2h0M842.5 308.3h0M842.7 310.5h0M843 315.9h0M843.3 309.2h0M843.5 302.2h0M843.8 308.1h0M844.1 310.6h0M844.3 321.9h0M844.6 309.4h0M844.9 303.2h0M845.2 312.8h0M845.4 306.5h0M845.7 312.1h0M846 300.8h0M846.2 306.1h0M846.5 313.1h0M846.8 308.1h0M847 305.3h0M847.3 331.8h0M847.6 310.1h0M847.9 300.4h0M848.1 313.2h0M848.4 306.4h0M848.7 309.3h0M848.9 307.3h0M849.2 311.2h0M849.5 306.1h0M849.7 310.1h0M850 308.9h0M850.3 313h0M850.6 315.1h0M850.8 307.7h0M851.1 305.4h0M851.4 317.6h0M851.6 308.9h0M851.9 304.4h0M852.2 307.9h0M852.4 309.7h0M852.7 312.5h0M853 310.5h0M853.3 308.3h0M853.5 311.9h0M853.8 309.8h0M854.1 305.9h0M854.3 317.2h0M854.6 308.5h0M854.9 308.5h0M855.1 303.9h0M855.4 314.4h0M855.7 307.9h0M856 302.3h0M856.2 311.9h0M856.5 295.3h0M856.8 299.7h0M857 305h0M857.3 309.7h0M857.6 317.8h0M857.8 310.3h0M858.1 308.9h0M858.4 310.1h0M858.7 311.5h0M858.9 320.4h0M859.2 311.6h0M859.5 307.8h0M859.7 307.5h0M860 304.8h0M860.3 317.1h0M860.6 313.7h0M860.8 301.9h0M861.1 283.9h0M861.4 314.9h0M861.6 290.5h0M861.9 342h0M862.2 315.6h0M862.4 308.9h0M862.7 310.9h0M863 309.2h0M863.3 339.4h0M863.5 299.7h0M863.8 294.3h0M864.1 316.8h0M864.3 313.1h0M864.6 300h0M864.9 270.6h0M865.1 313.2h0M865.4 309.7h0M865.7 307h0M866 297.7h0M866.2 317.1h0M866.5 307.1h0M866.8 281.1h0M867 309.6h0M867.3 323.9h0M867.6 304.9h0M867.8 298.9h0M868.1 293.2h0M868.4 310h0M868.7 307.2h0M868.9 312h0M869.2 315h0M869.5 307.5h0M869.7 311.8h0M870 314.1h0M870.3 311.9h0M870.5 305.6h0M870.8 307.6h0M871.1 310.2h0M871.4 299.7h0M871.6 308.4h0M871.9 304.9h0M872.2 309.2h0M872.4 299.9h0M872.7 308.9h0M873 306.2h0M873.2 309.2h0M873.5 301.6h0M873.8 311.5h0M874.1 315.9h0M874.3 313h0M874.6 310.6h0M874.9 312.6h0M875.1 317.6h0M875.4 300.3h0M875.7 304.7h0M875.9 308.6h0M876.2 303.2h0M876.5 305.6h0M876.8 307h0M877 317.8h0M877.3 309.5h0M877.6 311.6h0M877.8 314.1h0M878.1 312h0M878.4 303.7h0M878.6 321.3h0M878.9 314.4h0M879.2 310h0M879.5 310.7h0M879.7 309.7h0M880 298.7h0M880.3 308.6h0M880.5 305.4h0M880.8 310.2h0M881.1 311.6h0M881.3 311.7h0M881.6 309.6h0M881.9 315.1h0M882.2 315.8h0M882.4 309.9h0M882.7 310.5h0M883 307.9h0M883.2 305.4h0M883.5 299.8h0M883.8 311h0M884 310.1h0M884.3 309.9h0M884.6 308.6h0M884.9 305.3h0M885.1 302h0M885.4 313h0M885.7 304.4h0M885.9 313.3h0M886.2 308.8h0M886.5 301.2h0M886.7 311.4h0M887 310h0M887.3 300.3h0M887.6 310h0M887.8 309.5h0M888.1 314.5h0M888.4 307.8h0M888.6 310.7h0M888.9 306.4h0M889.2 312.2h0M889.4 308.9h0M889.7 313.1h0M890 307.9h0M890.3 312.5h0M890.5 307.3h0M890.8 310.7h0M891.1 309.5h0M891.3 304.9h0M891.6 312.2h0M891.9 307.6h0M892.1 308.1h0M892.4 305.2h0M892.7 306.4h0M893 311.9h0M893.2 314.5h0M893.5 306.3h0M893.8 311.6h0M894 307.9h0M894.3 304h0M894.6 313h0M894.9 314.7h0M895.1 313.2h0M895.4 301.9h0M895.7 313.5h0M895.9 306.1h0M896.2 303.7h0M896.5 306h0M896.7 311.4h0M897 310.7h0M897.3 305.5h0M897.6 308.2h0M897.8 306.7h0M898.1 309.1h0M898.4 310.5h0M898.6 308.9h0M898.9 309.2h0M899.2 312.4h0M899.4 300.8h0M899.7 308h0M900 309.7h0M900.3 307.8h0M900.5 307.9h0M900.8 308.3h0M901.1 312.4h0M901.3 308.8h0M901.6 311.8h0M901.9 310.9h0M902.1 307.2h0M902.4 305.2h0M902.7 312.9h0M903 305.7h0M903.2 306.5h0M903.5 313.3h0M903.8 306.9h0M904 308.9h0M904.3 306.9h0M904.6 307h0M904.8 303.9h0M905.1 310.3h0M905.4 310.9h0M905.7 311.3h0M905.9 309.1h0M906.2 317.4h0M906.5 305.5h0M906.7 298.4h0M907 307.1h0M907.3 304.1h0M907.5 312h0M907.8 304.4h0M908.1 309.4h0M908.4 318.8h0M908.6 302.7h0M908.9 309.8h0M909.2 313h0M909.4 312.6h0M909.7 301.9h0M910 306.4h0M910.2 307.8h0M910.5 306.5h0M910.8 303.7h0M911.1 311.8h0M911.3 307.8h0M911.6 306.3h0M911.9 301.3h0M912.1 309.7h0M912.4 306.9h0M912.7 306.4h0M912.9 306.4h0M913.2 309.3h0M913.5 299.5h0M913.8 308.3h0M914 311.2h0M914.3 311.3h0M914.6 307.4h0M914.8 309.4h0M915.1 307.8h0M915.4 310.9h0M915.6 309.3h0M915.9 309.3h0M916.2 308.9h0M916.5 307.5h0M916.7 309.2h0M917 309.5h0M917.3 313.3h0M917.5 309.7h0M917.8 308.2h0M918.1 310.6h0M918.3 311h0M918.6 298.4h0M918.9 312.6h0M919.2 311.5h0M919.4 313.9h0M919.7 307.7h0M920 315.6h0M920.2 307.7h0M920.5 316.7h0M920.8 311.9h0M921 307h0M921.3 301.5h0M921.6 321.5h0M921.9 309.3h0M922.1 306.2h0M922.4 323h0M922.7 300.3h0M922.9 307.4h0M923.2 303.9h0M923.5 294.2h0M923.7 303.5h0M924 310.9h0M924.3 294.9h0M924.6 313.8h0M924.8 311.5h0M925.1 304h0M925.4 306.8h0M925.6 314.5h0M925.9 304.7h0M926.2 308h0M926.5 307.2h0M926.7 310.5h0M927 311h0M927.3 306.3h0M927.5 307.2h0M927.8 315.6h0M928.1 314.5h0M928.3 308h0M928.6 309.9h0M928.9 308.5h0M929.2 306.3h0M929.4 308h0M929.7 309.4h0M930 302.5h0M930.2 307.2h0M930.5 303.2h0M930.8 306.2h0M931 317.8h0M931.3 306.5h0M931.6 299.7h0M931.9 313.6h0M932.1 316.2h0M932.4 309.8h0M932.7 308.1h0M932.9 311.3h0M933.2 302.3h0M933.5 308h0M933.7 313.9h0M934 300.9h0M934.3 309.1h0M934.6 307h0M934.8 310.1h0M935.1 310.1h0M935.4 311.5h0M935.6 314.9h0M935.9 309.6h0M936.2 307.6h0M936.4 308.7h0M936.7 303.5h0M937 309.9h0M937.3 300.9h0M937.5 306.9h0M937.8 310.1h0M938.1 312.7h0M938.3 311.8h0M938.6 306.5h0M938.9 310.4h0M939.1 312.6h0M939.4 308.8h0M939.7 306.6h0M940 309.6h0M940.2 305.2h0M940.5 297.9h0M940.8 309.4h0M941 304.5h0M941.3 310.8h0M941.6 312.9h0M941.8 302.1h0M942.1 308.9h0M942.4 300.5h0M942.7 306.9h0M942.9 308.1h0M943.2 317.4h0M943.5 308.5h0M943.7 316.6h0M944 303.6h0M944.3 305.4h0M944.5 312.5h0M944.8 310.8h0M945.1 318.7h0M945.4 314.8h0M945.6 309.7h0M945.9 310.2h0M946.2 305.1h0M946.4 317.3h0M946.7 303.8h0M947 309.2h0M947.2 310.8h0M947.5 327h0M947.8 299.1h0M948.1 305h0M948.3 305.2h0M948.6 299.2h0M948.9 315.5h0M949.1 309.5h0M949.4 312.9h0M949.7 297.4h0M949.9 313.2h0M950.2 299.5h0M950.5 298h0M950.8 303.3h0M951 304.2h0M951.3 311.3h0M951.6 313.5h0M951.8 298.1h0M952.1 314.7h0M952.4 312.1h0M952.6 306.7h0M952.9 317.1h0M953.2 313.7h0M953.5 311.1h0M953.7 315.1h0M954 308.8h0M954.3 307.4h0M954.5 313h0M954.8 310h0M955.1 313h0M955.3 306.3h0M955.6 311.2h0M955.9 297.6h0M956.2 307.3h0M956.4 307.3h0M956.7 301.5h0M957 314.6h0M957.2 313.8h0M957.5 318.3h0M957.8 303.9h0M958.1 303.5h0M958.3 305.1h0M958.6 315.7h0M958.9 321.2h0M959.1 306.6h0M959.4 312.8h0M959.7 300.8h0M959.9 308.1h0M960.2 310.8h0M960.5 302.9h0M960.8 312.2h0M961 316.1h0M961.3 323.8h0M961.6 312.7h0M961.8 298.2h0M962.1 307.6h0M962.4 316.3h0M962.6 316h0M962.9 295.8h0M963.2 305h0M963.5 313.5h0M963.7 302.9h0M964 301h0M964.3 267.1h0M964.5 307.9h0M964.8 311.9h0M965.1 305.2h0M965.3 308.9h0M965.6 300.7h0M965.9 309.6h0M966.2 310.3h0M966.4 313.4h0M966.7 311.6h0M967 311.2h0M967.2 308.7h0M967.5 305.5h0M967.8 303.9h0M968 311h0M968.3 317.8h0M968.6 321.1h0M968.9 308.9h0M969.1 308.9h0M969.4 302h0M969.7 311.7h0M969.9 316.2h0M970.2 315.9h0M970.5 308.4h0M970.7 305.9h0M971 297.3h0M971.3 318h0M971.6 313.6h0M971.8 301.9h0M972.1 308h0M972.4 311.5h0M972.6 307h0M972.9 309.8h0M973.2 305.6h0M973.4 302.4h0M973.7 306h0M974 306.7h0M974.3 309.5h0M974.5 304.1h0M974.8 309.8h0M975.1 318h0M975.3 310.3h0M975.6 306.4h0M975.9 308.1h0M976.1 303.8h0M976.4 315.5h0M976.7 309.8h0M977 300.7h0M977.2 316.7h0M977.5 300.7h0M977.8 309.8h0M978 304.4h0M978.3 311.3h0M978.6 311.5h0M978.8 306h0M979.1 302.2h0M979.4 308.8h0M979.7 299.1h0M979.9 298h0M980.2 299.4h0M980.5 324.4h0M980.7 315.7h0M981 304.9h0M981.3 312h0M981.5 312.9h0M981.8 289.6h0M982.1 302.8h0M982.4 321.1h0M982.6 297.3h0M982.9 289.5h0M983.2 323.1h0M983.4 295.1h0M983.7 301.6h0M984 308.3h0M984.2 293.1h0M984.5 309.6h0M984.8 313.4h0M985.1 303.9h0M985.3 316.1h0M985.6 305.8h0M985.9 283.3h0M986.1 310.8h0M986.4 269.2h0M986.7 305.5h0M986.9 312.3h0M987.2 300h0M987.5 311.1h0M987.8 307.9h0M988 305.8h0M988.3 309.4h0M988.6 305.5h0M988.8 308.1h0M989.1 307.4h0M989.4 307.3h0M989.6 305.6h0M989.9 308.3h0M990.2 307.9h0M990.5 306.3h0M990.7 310.7h0M991 310.5h0M991.3 311.8h0M991.5 308.2h0M991.8 306h0M992.1 308h0M992.4 309.6h0M992.6 313.8h0M992.9 296.8h0M993.2 308.6h0M993.4 311.3h0M993.7 311.5h0M994 304h0M994.2 307.9h0M994.5 310.4h0M994.8 313.2h0M995.1 308.7h0M995.3 301h0M995.6 307.3h0M995.9 310.1h0M996.1 302.6h0M996.4 308.1h0M996.7 312.1h0M996.9 305h0M997.2 305.2h0M997.5 302h0M997.8 306.3h0M998 311.3h0M998.3 305.4h0M998.6 312.9h0M998.8 307.7h0M999.1 297.6h0M999.4 312.9h0M999.6 303.2h0M999.9 303.6h0M1000.2 309.1h0M1000.5 311.3h0M1000.7 308.2h0M1001 311.8h0M1001.3 308.1h0M1001.5 310.4h0M1001.8 311.4h0M1002.1 306.9h0M1002.3 307.3h0M1002.6 307.7h0M1002.9 304h0M1003.2 310.9h0M1003.4 315.9h0M1003.7 310.8h0M1004 305.8h0M1004.2 312.7h0M1004.5 310.4h0M1004.8 295.8h0M1005 306.4h0M1005.3 317.5h0M1005.6 306.6h0M1005.9 301.1h0M1006.1 320.7h0M1006.4 311.2h0M1006.7 304.5h0M1006.9 319.5h0M1007.2 301.1h0M1007.5 329.7h0M1007.7 322.2h0M1008 310.6h0M1008.3 311.5h0M1008.6 305.8h0M1008.8 314.1h0M1009.1 296h0M1009.4 301h0M1009.6 311.2h0M1009.9 302.1h0M1010.2 312.4h0M1010.4 296.9h0M1010.7 314.5h0M1011 304.5h0M1011.3 318.3h0M1011.5 312.3h0M1011.8 303.9h0M1012.1 318.8h0M1012.3 308.9h0M1012.6 313.6h0M1012.9 304.5h0M1013.1 316.1h0M1013.4 305.4h0M1013.7 315.2h0M1014 287.3h0M1014.2 282.3h0M1014.5 306.3h0M1014.8 308.3h0M1015 305.9h0M1015.3 316.8h0M1015.6 305.6h0M1015.8 307.3h0M1016.1 302.6h0M1016.4 327.1h0M1016.7 314.8h0M1016.9 316.5h0M1017.2 304.8h0M1017.5 311.5h0M1017.7 304h0M1018 314.3h0M1018.3 312.2h0M1018.5 318.2h0M1018.8 303.7h0M1019.1 310.4h0M1019.4 299.9h0M1019.6 308.5h0M1019.9 303.4h0M1020.2 307.3h0M1020.4 308.4h0M1020.7 314.6h0M1021 305.7h0M1021.2 311h0M1021.5 310.1h0M1021.8 309.2h0M1022.1 315.1h0M1022.3 319.3h0M1022.6 304h0M1022.9 308.1h0M1023.1 308.4h0M1023.4 309.3h0M1023.7 317.5h0M1024 297.8h0M1024.2 307.6h0M1024.5 305.7h0M1024.8 310.6h0M1025 309.1h0M1025.3 312.4h0M1025.6 305.1h0M1025.8 304.7h0M1026.1 303.2h0M1026.4 297.5h0M1026.7 309h0M1026.9 302.5h0M1027.2 303.3h0M1027.5 310.7h0M1027.7 318.4h0M1028 299.1h0M1028.3 312.7h0M1028.5 305.6h0M1028.8 289.5h0M1029.1 303.5h0M1029.4 325.6h0M1029.6 307.3h0M1029.9 320h0M1030.2 285.7h0M1030.4 297.7h0M1030.7 312.9h0M1031 309.4h0M1031.2 304h0M1031.5 310.5h0M1031.8 300.8h0M1032.1 312.3h0M1032.3 315.7h0M1032.6 296h0M1032.9 296.9h0M1033.1 310.7h0M1033.4 298.9h0M1033.7 311.7h0M1033.9 307.9h0M1034.2 305.5h0M1034.5 333h0M1034.8 332.1h0M1035 304.9h0M1035.3 306.5h0M1035.6 333h0M1035.8 307.7h0M1036.1 300h0M1036.4 313.6h0M1036.6 308.9h0M1036.9 302.8h0M1037.2 309.1h0M1037.5 298.2h0M1037.7 310h0M1038 306.5h0M1038.3 301.1h0M1038.5 314.3h0M1038.8 313.8h0M1039.1 314.6h0M1039.3 307.4h0M1039.6 321.6h0M1039.9 308h0M1040.2 308.6h0M1040.4 298.4h0M1040.7 322.2h0M1041 305.8h0M1041.2 304.3h0M1041.5 303.4h0M1041.8 296.6h0M1042 307.7h0M1042.3 305.3h0M1042.6 305.2h0M1042.9 306.6h0M1043.1 305.3h0M1043.4 316.1h0M1043.7 300.6h0M1043.9 308.4h0M1044.2 307.7h0M1044.5 310.4h0M1044.7 307.6h0M1045 296h0M1045.3 298.8h0M1045.6 314.9h0M1045.8 301.5h0M1046.1 303.3h0M1046.4 297.7h0M1046.6 316.9h0M1046.9 305.1h0M1047.2 318.2h0M1047.4 310.9h0M1047.7 309.4h0M1048 309.1h0M1048.3 307.8h0M1048.5 309.5h0M1048.8 308.8h0M1049.1 308.9h0M1049.3 322.3h0M1049.6 268.4h0M1049.9 320.5h0M1050.1 303.5h0M1050.4 312.8h0M1050.7 308.7h0M1051 316.9h0M1051.2 365h0M1051.5 309.9h0M1051.8 303.9h0M1052 308.4h0M1052.3 300.8h0M1052.6 314.6h0M1052.8 299.6h0M1053.1 305.6h0M1053.4 312.5h0M1053.7 309.3h0M1053.9 316.7h0M1054.2 308.4h0M1054.5 304.8h0M1054.7 305h0M1055 312.8h0M1055.3 307.1h0M1055.6 301.4h0M1055.8 307.9h0M1056.1 322.7h0M1056.4 328h0M1056.6 309.3h0M1056.9 306.4h0M1057.2 305.3h0M1057.4 308h0M1057.7 300.9h0M1058 310.3h0M1058.3 295.5h0M1058.5 307.3h0M1058.8 315.1h0M1059.1 306.8h0M1059.3 314.7h0M1059.6 305.2h0M1059.9 308.8h0M1060.1 313.9h0M1060.4 304.3h0M1060.7 301.3h0M1061 310h0M1061.2 307.3h0M1061.5 309.7h0M1061.8 312.7h0M1062 294.3h0M1062.3 311.7h0M1062.6 309h0M1062.8 296.2h0M1063.1 309.3h0M1063.4 305.7h0M1063.7 304.3h0M1063.9 305.6h0M1064.2 315.2h0M1064.5 309.7h0M1064.7 308.3h0M1065 307h0M1065.3 306.7h0M1065.5 306.4h0M1065.8 310h0M1066.1 306.2h0M1066.4 309.2h0M1066.6 315h0M1066.9 309.2h0M1067.2 307.8h0M1067.4 306.9h0M1067.7 312.6h0M1068 304.6h0M1068.2 312h0M1068.5 313h0M1068.8 306h0M1069.1 306.7h0M1069.3 311.6h0M1069.6 306.5h0M1069.9 311h0M1070.1 308.3h0M1070.4 306.9h0M1070.7 309.3h0M1070.9 308.3h0M1071.2 303.6h0M1071.5 311.4h0M1071.8 308.2h0M1072 310.8h0M1072.3 307.7h0M1072.6 308.5h0M1072.8 305.9h0M1073.1 308.1h0M1073.4 303.2h0M1073.6 306.7h0M1073.9 309.7h0M1074.2 313.8h0M1074.5 307.2h0M1074.7 306.5h0M1075 317.2h0M1075.3 304.5h0M1075.5 315h0M1075.8 315h0M1076.1 305.5h0M1076.3 328.7h0M1076.6 311.3h0M1076.9 320.3h0M1077.2 304.8h0M1077.4 313.4h0M1077.7 295h0M1078 308.2h0M1078.2 311.6h0M1078.5 304.3h0M1078.8 310.5h0M1079 311.7h0M1079.3 277.3h0M1079.6 321.7h0M1079.9 299.1h0M1080.1 307.1h0M1080.4 309.3h0M1080.7 307.8h0M1080.9 309.2h0M1081.2 303.6h0M1081.5 310.9h0M1081.7 308.4h0M1082 306.9h0M1082.3 306.8h0M1082.6 313.7h0M1082.8 309.4h0M1083.1 309.6h0M1083.4 309.3h0M1083.6 310h0M1083.9 305.8h0M1084.2 309.6h0M1084.4 307.3h0M1084.7 307h0M1085 305.9h0M1085.3 311.2h0M1085.5 308.6h0M1085.8 301.7h0M1086.1 303.7h0M1086.3 307.3h0M1086.6 304.6h0M1086.9 309.8h0M1087.2 308h0M1087.4 307.7h0M1087.7 310h0M1088 316.6h0M1088.2 311.9h0M1088.5 305.4h0M1088.8 306.8h0M1089 309.9h0M1089.3 309.8h0M1089.6 300.6h0M1089.9 307.4h0M1090.1 305.5h0M1090.4 310h0M1090.7 311.5h0M1090.9 306h0M1091.2 301h0M1091.5 311.6h0M1091.7 305.1h0M1092 311.3h0M1092.3 308.6h0M1092.6 305.7h0M1092.8 321.2h0M1093.1 308.8h0M1093.4 314.7h0M1093.6 310.5h0M1093.9 311.6h0M1094.2 308h0M1094.4 293.1h0M1094.7 309.5h0M1095 312.5h0M1095.3 307h0M1095.5 307.1h0M1095.8 307.5h0M1096.1 307h0M1096.3 302.6h0M1096.6 313.6h0M1096.9 307.9h0M1097.1 307.6h0M1097.4 310.5h0M1097.7 311.6h0M1098 310.5h0M1098.2 304h0M1098.5 308.8h0M1098.8 308.6h0M1099 318.2h0M1099.3 308.3h0M1099.6 310.3h0M1099.8 305.4h0M1100.1 312h0M1100.4 305.7h0M1100.7 307.8h0M1100.9 311.9h0M1101.2 304.6h0M1101.5 312.5h0M1101.7 308.7h0M1102 309.1h0M1102.3 312.8h0M1102.5 308.3h0M1102.8 307.4h0M1103.1 306.5h0M1103.4 302.9h0M1103.6 302.8h0M1103.9 305.6h0M1104.2 323.4h0M1104.4 303.9h0M1104.7 327.2h0M1105 306.3h0M1105.2 318.3h0M1105.5 304.8h0M1105.8 332.6h0M1106.1 324.6h0M1106.3 322.9h0M1106.6 313.4h0M1106.9 309.6h0M1107.1 308.6h0M1107.4 314.1h0M1107.7 293.7h0M1107.9 306.5h0M1108.2 309.2h0M1108.5 292.6h0M1108.8 313.8h0M1109 306.1h0M1109.3 320.5h0M1109.6 307.3h0M1109.8 320h0M1110.1 316.8h0M1110.4 311.9h0M1110.6 303.3h0M1110.9 307.4h0M1111.2 308h0M1111.5 310.4h0M1111.7 307.5h0M1112 306.8h0M1112.3 309.9h0M1112.5 309.7h0M1112.8 312.4h0M1113.1 308.2h0M1113.3 311.7h0M1113.6 309.7h0M1113.9 307.3h0M1114.2 310.9h0M1114.4 301.2h0M1114.7 305.1h0M1115 310.1h0M1115.2 311.4h0M1115.5 306.6h0M1115.8 309.9h0M1116 311.6h0M1116.3 307h0M1116.6 305.1h0M1116.9 296.5h0M1117.1 302.2h0M1117.4 308.6h0M1117.7 306.9h0M1117.9 306.3h0M1118.2 310.3h0M1118.5 307.9h0M1118.7 308h0M1119 309.1h0M1119.3 308.6h0M1119.6 314.4h0M1119.8 308.7h0M1120.1 307.9h0M1120.4 298.6h0M1120.6 302.9h0M1120.9 338.3h0M1121.2 305.7h0M1121.5 311.5h0M1121.7 315.6h0M1122 314.5h0M1122.3 300.7h0M1122.5 311.2h0M1122.8 308.4h0M1123.1 302.9h0M1123.3 309.6h0M1123.6 302.8h0M1123.9 308.8h0M1124.2 309h0M1124.4 307.5h0M1124.7 310.7h0M1125 311.5h0M1125.2 316.3h0M1125.5 306.1h0M1125.8 298.7h0M1126 306.4h0M1126.3 313.3h0M1126.6 311.6h0M1126.9 309.1h0M1127.1 292.3h0M1127.4 311.4h0M1127.7 306h0M1127.9 311.7h0M1128.2 308h0M1128.5 305.3h0M1128.7 312.4h0M1129 308.5h0M1129.3 315.6h0M1129.6 317.2h0M1129.8 312.6h0M1130.1 308.3h0M1130.4 307h0M1130.6 310.8h0M1130.9 296.6h0M1131.2 300.6h0M1131.4 317.1h0M1131.7 310.8h0M1132 313.1h0M1132.3 319h0M1132.5 310.8h0M1132.8 315.8h0M1133.1 322.5h0M1133.3 310.3h0M1133.6 313.8h0M1133.9 314.1h0M1134.1 306.6h0M1134.4 324.6h0M1134.7 322.3h0M1135 300.7h0M1135.2 302.1h0M1135.5 311.7h0M1135.8 313.8h0M1136 302.4h0M1136.3 316.8h0M1136.6 294h0M1136.8 320.1h0M1137.1 306.7h0M1137.4 313.9h0M1137.7 313.5h0M1137.9 310.2h0M1138.2 314.5h0M1138.5 310.4h0M1138.7 307.4h0M1139 311.4h0M1139.3 320.9h0M1139.5 320.9h0M1139.8 315.8h0M1140.1 304.9h0M1140.4 314.6h0M1140.6 304.8h0M1140.9 306.4h0M1141.2 305.9h0M1141.4 321.8h0M1141.7 303.3h0M1142 311.5h0M1142.2 300.6h0M1142.5 313.1h0M1142.8 304.2h0M1143.1 314.1h0M1143.3 314.3h0M1143.6 313.4h0M1143.9 309.5h0M1144.1 315h0M1144.4 312.6h0M1144.7 321h0M1144.9 305.3h0M1145.2 297h0M1145.5 316h0M1145.8 307.4h0M1146 317.7h0M1146.3 296.9h0M1146.6 310.4h0M1146.8 300.4h0M1147.1 299.5h0M1147.4 316.5h0M1147.6 313.5h0M1147.9 312.9h0M1148.2 295.4h0M1148.5 311.1h0M1148.7 293.9h0M1149 314.6h0M1149.3 310.8h0M1149.5 302.7h0M1149.8 303.6h0M1150.1 317.5h0M1150.3 323.1h0M1150.6 313.7h0M1150.9 296.8h0M1151.2 307.1h0M1151.4 302.4h0M1151.7 313.4h0M1152 315.8h0M1152.2 299.4h0M1152.5 310.8h0M1152.8 314.3h0M1153.1 303.6h0M1153.3 312.6h0M1153.6 318.2h0M1153.9 312.8h0M1154.1 318.7h0M1154.4 306.5h0M1154.7 308h0M1154.9 309.7h0M1155.2 308h0M1155.5 302.9h0M1155.8 301.6h0M1156 307.6h0M1156.3 310.1h0M1156.6 303.4h0M1156.8 308.6h0M1157.1 303.3h0M1157.4 306.5h0M1157.6 309.1h0M1157.9 304.6h0M1158.2 298.9h0M1158.5 308.5h0M1158.7 322.8h0M1159 318.6h0M1159.3 307.5h0M1159.5 310.4h0M1159.8 298.8h0M1160.1 309.8h0M1160.3 304.3h0M1160.6 314.6h0M1160.9 316.6h0M1161.2 306.3h0M1161.4 325.3h0M1161.7 330.2h0M1162 302.5h0M1162.2 288.6h0M1162.5 316.5h0M1162.8 318h0M1163 297.9h0M1163.3 313.2h0M1163.6 301.6h0M1163.9 291.4h0M1164.1 306.2h0M1164.4 304.1h0M1164.7 303.2h0M1164.9 301.5h0M1165.2 306.5h0M1165.5 308.1h0M1165.7 304.9h0M1166 308.7h0M1166.3 304h0M1166.6 302.5h0M1166.8 311.9h0M1167.1 316.9h0M1167.4 302.9h0M1167.6 308.8h0M1167.9 306.2h0M1168.2 308.1h0M1168.4 318.5h0M1168.7 333h0M1169 309.7h0M1169.3 310.3h0M1169.5 316.4h0M1169.8 305h0M1170.1 313.5h0M1170.3 309.8h0M1170.6 318.6h0M1170.9 304.9h0M1171.1 311.4h0M1171.4 310h0M1171.7 320.6h0M1172 313h0M1172.2 301.5h0M1172.5 312.6h0M1172.8 315.4h0M1173 312.4h0M1173.3 308.5h0M1173.6 330.6h0M1173.8 316.2h0M1174.1 329.6h0M1174.4 305.6h0M1174.7 329.4h0M1174.9 289.8h0M1175.2 291.6h0M1175.5 317.9h0M1175.7 293.1h0M1176 331.6h0M1176.3 293.4h0M1176.5 334.4h0M1176.8 283h0M1177.1 362.2h0M1177.4 325.8h0M1177.6 287.4h0M1177.9 318.9h0M1178.2 309.5h0M1178.4 303.6h0M1178.7 302.8h0M1179 300.9h0M1179.2 337.7h0M1179.5 329.2h0M1179.8 319.7h0M1180.1 296.8h0M1180.3 317.1h0M1180.6 305.2h0M1180.9 305h0M1181.1 324.4h0M1181.4 297.4h0M1181.7 319.4h0M1181.9 327.2h0M1182.2 309.2h0M1182.5 290.7h0M1182.8 315.1h0M1183 297.7h0M1183.3 314.6h0M1183.6 313.6h0M1183.8 318.3h0M1184.1 300h0M1184.4 307.2h0M1184.7 306.8h0M1184.9 324.6h0M1185.2 308h0M1185.5 324.7h0M1185.7 325.2h0M1186 309.1h0M1186.3 298.3h0M1186.5 315.5h0M1186.8 313.9h0M1187.1 324.7h0M1187.4 315.1h0M1187.6 325.1h0M1187.9 304.6h0M1188.2 309.8h0M1188.4 309.3h0M1188.7 297.5h0M1189 312.8h0M1189.2 293.3h0M1189.5 322.1h0M1189.8 309.9h0M1190.1 304.6h0M1190.3 304.8h0M1190.6 336.6h0M1190.9 299.1h0M1191.1 304.6h0M1191.4 304.1h0M1191.7 308.1h0M1191.9 334.9h0M1192.2 325.8h0M1192.5 300.4h0M1192.8 299.9h0M1193 307.5h0M1193.3 309.5h0M1193.6 309.2h0M1193.8 299.1h0M1194.1 288.1h0M1194.4 295.3h0M1194.6 308.5h0M1194.9 308.9h0M1195.2 308.3h0M1195.5 306.3h0M1195.7 307.6h0M1196 306h0M1196.3 300.1h0M1196.5 307.6h0M1196.8 323.1h0M1197.1 314h0M1197.3 308.9h0M1197.6 319.6h0M1197.9 300.2h0M1198.2 314.3h0M1198.4 302.1h0M1198.7 300.1h0M1199 305.6h0M1199.2 319.4h0M1199.5 317.1h0M1199.8 320.5h0M1200 310.3h0M1200.3 309h0M1200.6 315.3h0M1200.9 315.5h0M1201.1 315.8h0M1201.4 321.6h0M1201.7 294.8h0M1201.9 308.1h0M1202.2 306.5h0M1202.5 293.2h0M1202.7 317.9h0M1203 300.7h0M1203.3 298h0M1203.6 311h0M1203.8 334.8h0M1204.1 319.4h0M1204.4 295.7h0M1204.6 297.9h0M1204.9 310.4h0M1205.2 314.7h0M1205.4 326.1h0M1205.7 313.3h0M1206 307.7h0M1206.3 318.3h0M1206.5 304.6h0M1206.8 306.4h0M1207.1 313.6h0M1207.3 317.2h0M1207.6 313h0M1207.9 308.2h0M1208.1 307.8h0M1208.4 310.8h0M1208.7 317h0M1209 323.6h0M1209.2 294.1h0M1209.5 306.3h0M1209.8 300.9h0M1210 306.7h0M1210.3 302.6h0M1210.6 310.8h0M1210.8 330.7h0M1211.1 310.2h0M1211.4 309.9h0M1211.7 320.4h0M1211.9 304.2h0M1212.2 306.5h0M1212.5 311.3h0M1212.7 293.2h0M1213 297.4h0M1213.3 302.7h0M1213.5 297.4h0M1213.8 306.6h0M1214.1 306.2h0M1214.4 336.2h0M1214.6 301.7h0M1214.9 308.2h0M1215.2 311.9h0M1215.4 324h0M1215.7 309.2h0M1216 326.5h0M1216.2 299.1h0M1216.5 307.2h0M1216.8 303.3h0M1217.1 311.5h0M1217.3 311.3h0M1217.6 334.3h0M1217.9 288.3h0M1218.1 290.9h0M1218.4 303.6h0M1218.7 335.5h0M1219 308.5h0M1219.2 346.5h0M1219.5 290.5h0M1219.8 311.2h0M1220 313.3h0M1220.3 309h0M1220.6 305.7h0M1220.8 327h0M1221.1 324.7h0M1221.4 329.8h0M1221.7 324.1h0M1221.9 301.6h0M1222.2 296.8h0M1222.5 305.7h0M1222.7 304.8h0M1223 330.3h0M1223.3 317.6h0M1223.5 290.2h0M1223.8 291.3h0M1224.1 294.8h0M1224.4 303h0M1224.6 316.5h0M1224.9 309.4h0M1225.2 319.1h0M1225.4 350.3h0M1225.7 321.8h0M1226 312.9h0M1226.2 259.3h0M1226.5 301.1h0M1226.8 319.4h0M1227.1 314.6h0M1227.3 310.8h0M1227.6 318.7h0M1227.9 317.4h0M1228.1 302.3h0M1228.4 311.6h0M1228.7 306.5h0M1228.9 334.1h0M1229.2 317.7h0M1229.5 318.2h0M1229.8 309.8h0M1230 317.8h0M1230.3 229.6h0M1230.6 295.6h0M1230.8 306.6h0M1231.1 303h0M1231.4 318.1h0M1231.6 302.6h0M1231.9 427.5h0M1232.2 327.9h0M1232.5 292.2h0M1232.7 186h0M1233 304.1h0M1233.3 310.4h0M1233.5 290.1h0M1233.8 305.6h0M1234.1 306h0M1234.3 305.9h0M1234.6 310.4h0M1234.9 321h0M1235.2 299.7h0M1235.4 307.4h0M1235.7 304h0M1236 308.7h0M1236.2 300.4h0M1236.5 311.7h0M1236.8 309.2h0M1237 311.5h0M1237.3 308.5h0M1237.6 311.5h0M1237.9 315.5h0M1238.1 302.3h0M1238.4 306.1h0M1238.7 309.2h0M1238.9 306.2h0M1239.2 303.9h0M1239.5 307h0M1239.7 307.2h0M1240 315h0M1240.3 298.9h0M1240.6 337h0M1240.8 300.8h0M1241.1 306h0M1241.4 318.7h0M1241.6 316.4h0M1241.9 313.1h0M1242.2 295.4h0M1242.4 300.7h0M1242.7 310.7h0M1243 315.8h0M1243.3 306.9h0M1243.5 299.7h0M1243.8 301.6h0M1244.1 306.4h0M1244.3 301.9h0M1244.6 313.9h0M1244.9 318.7h0M1245.1 314.6h0M1245.4 314.8h0M1245.7 324.7h0M1246 303.9h0M1246.2 301.9h0M1246.5 315.2h0M1246.8 304.1h0M1247 301.5h0M1247.3 307.3h0M1247.6 313.2h0M1247.8 313.8h0M1248.1 303.1h0M1248.4 307.9h0M1248.7 309.1h0M1248.9 307.6h0M1249.2 299.7h0M1249.5 310.6h0M1249.7 309.2h0M1250 309.8h0M1250.3 310.6h0M1250.6 312.3h0M1250.8 310.1h0M1251.1 309.2h0M1251.4 309.1h0M1251.6 306.9h0M1251.9 306.9h0M1252.2 310h0M1252.4 309.4h0M1252.7 307.1h0M1253 305.7h0M1253.3 306.3h0M1253.5 309.3h0M1253.8 307.2h0M1254.1 301.1h0M1254.3 312.7h0M1254.6 307.5h0M1254.9 308.1h0M1255.1 309.2h0M1255.4 302.8h0M1255.7 300.4h0M1256 309.9h0M1256.2 309.9h0M1256.5 307.1h0M1256.8 302.7h0M1257 312.9h0M1257.3 309.6h0M1257.6 309.2h0M1257.8 308.5h0M1258.1 309.1h0M1258.4 314.1h0M1258.7 309.3h0M1258.9 313.3h0M1259.2 311.2h0M1259.5 296.4h0M1259.7 310.3h0M1260 304.1h0M1260.3 301.4h0M1260.5 315.5h0M1260.8 312.1h0M1261.1 305.5h0M1261.4 305.2h0M1261.6 304.8h0M1261.9 304.9h0M1262.2 311.1h0M1262.4 304.6h0M1262.7 307h0M1263 309.5h0M1263.2 310.6h0M1263.5 315.3h0M1263.8 307h0M1264.1 305.2h0M1264.3 303.6h0M1264.6 309.1h0M1264.9 313.9h0M1265.1 303.9h0M1265.4 296.1h0M1265.7 309.2h0M1265.9 309.9h0M1266.2 315.3h0M1266.5 308.5h0M1266.8 307.4h0M1267 305.4h0M1267.3 309.9h0M1267.6 312.4h0M1267.8 308.1h0M1268.1 318.2h0M1268.4 306.9h0M1268.6 303.8h0M1268.9 310.4h0M1269.2 304.9h0M1269.5 309.1h0M1269.7 301.8h0M1270 311.1h0M1270.3 310.1h0M1270.5 303.2h0M1270.8 311.4h0M1271.1 300.3h0M1271.3 297.7h0M1271.6 302.3h0M1271.9 298.1h0M1272.2 299.7h0M1272.4 329.4h0M1272.7 313.5h0M1273 281.5h0M1273.2 308.6h0M1273.5 305.8h0M1273.8 323.9h0M1274 311.2h0M1274.3 315h0M1274.6 303h0M1274.9 305h0M1275.1 315.7h0M1275.4 300.5h0M1275.7 303.2h0M1275.9 306.8h0M1276.2 303.8h0M1276.5 295.2h0M1276.7 315.4h0M1277 310.9h0M1277.3 315.5h0M1277.6 309.9h0M1277.8 320.1h0M1278.1 308.9h0M1278.4 304.4h0M1278.6 318.6h0M1278.9 311h0M1279.2 301.7h0M1279.4 294.8h0M1279.7 307.8h0M1280 307.7h0M1280.3 326.3h0M1280.5 311.8h0M1280.8 304.3h0M1281.1 302.1h0M1281.3 304h0M1281.6 315.4h0M1281.9 312h0M1282.2 307.2h0M1282.4 306.8h0M1282.7 302.9h0M1283 310.5h0M1283.2 305.6h0M1283.5 313.6h0M1283.8 305.2h0M1284 302.1h0M1284.3 319.9h0M1284.6 307.5h0M1284.9 309.1h0M1285.1 315.1h0M1285.4 300.8h0M1285.7 285.4h0M1285.9 308.1h0M1286.2 309.1h0M1286.5 292.4h0M1286.7 314.6h0M1287 297.2h0M1287.3 308.1h0M1287.6 313.6h0M1287.8 312h0M1288.1 314.8h0M1288.4 302.7h0M1288.6 305h0M1288.9 317.7h0M1289.2 305.9h0M1289.4 309.9h0M1289.7 315.5h0M1290 310.2h0M1290.3 311.7h0M1290.5 309.9h0M1290.8 315.2h0M1291.1 297.1h0M1291.3 310.3h0M1291.6 308.6h0M1291.9 311.3h0M1292.1 305.2h0M1292.4 310.4h0M1292.7 308.8h0M1293 310.3h0M1293.2 313.9h0M1293.5 314.4h0M1293.8 308.9h0M1294 308.6h0M1294.3 311.4h0M1294.6 303.6h0M1294.8 313h0M1295.1 315.7h0M1295.4 311.6h0M1295.7 303h0M1295.9 306.6h0M1296.2 305.2h0M1296.5 324.9h0M1296.7 309.7h0M1297 311h0M1297.3 310.3h0M1297.5 300.9h0M1297.8 320.7h0M1298.1 292h0M1298.4 314.8h0M1298.6 304.1h0M1298.9 295.2h0M1299.2 298.6h0M1299.4 302.9h0M1299.7 315.3h0M1300 304.3h0M1300.2 307.8h0M1300.5 299.4h0M1300.8 308.4h0M1301.1 307.3h0M1301.3 299.7h0M1301.6 309.8h0M1301.9 315.8h0M1302.1 310.2h0M1302.4 297.2h0M1302.7 305.5h0M1302.9 310h0M1303.2 318.8h0M1303.5 306h0M1303.8 314.2h0M1304 307.2h0M1304.3 311.9h0M1304.6 310h0M1304.8 300.5h0M1305.1 302.5h0M1305.4 312.2h0M1305.6 309.9h0M1305.9 316.4h0M1306.2 308.7h0M1306.5 315.2h0M1306.7 323.4h0M1307 295.9h0M1307.3 308.6h0M1307.5 304.5h0M1307.8 308.2h0M1308.1 320.5h0M1308.3 322.4h0M1308.6 313.5h0M1308.9 289.2h0M1309.2 313.8h0M1309.4 305h0M1309.7 322h0M1310 328.4h0M1310.2 323.1h0M1310.5 304h0M1310.8 323h0M1311 334.2h0M1311.3 302.4h0M1311.6 304.6h0M1311.9 302.2h0M1312.1 300h0M1312.4 298.9h0M1312.7 298.9h0M1312.9 304.3h0M1313.2 318.6h0M1313.5 312.6h0" stroke="#00c8c8" stroke-width="3.9" stroke-linecap="round"/>
<path d="M341.4 234.8L342.5 234.8L343.6 234.8L344.7 234.8L345.8 234.8L346.9 234.2L347.9 234.2L349 234.8L350.1 234.8L351.2 234.8L352.3 234.8L353.3 234.8L354.4 234.8L355.5 234.8L356.6 234.2L357.7 234.8L358.7 234.8L359.8 234.8L360.9 234.8L362 234.8L363.1 234.8L364.1 234.8L365.2 234.8L366.3 234.2L367.4 234.8L368.5 234.8L369.5 234.8L370.6 234.8L371.7 234.8L372.8 234.8L373.9 234.8L374.9 234.2L376 234.8L377.1 234.8L378.2 234.2L379.3 234.8L380.3 234.8L381.4 234.8L382.5 234.8L383.6 234.8L384.7 234.8L385.7 234.8L386.8 234.8L387.9 234.8L389 234.8L390.1 234.8L391.1 235.5L392.2 234.8L393.3 235.5L394.4 234.8L395.5 234.8L396.5 235.5L397.6 235.5L398.7 234.8L399.8 234.2L400.9 235.5L401.9 234.8L403 234.8L404.1 235.5L405.2 234.8L406.3 235.5L407.4 234.8L408.4 235.5L409.5 234.8L410.6 235.5L411.7 234.8L412.8 234.8L413.8 234.8L414.9 234.8L416 235.5L417.1 235.5L418.2 234.8L419.2 235.5L420.3 235.5L421.4 235.5L422.5 235.5L423.6 235.5L424.6 234.8L425.7 235.5L426.8 235.5L427.9 234.8L429 234.8L430 235.5L431.1 234.8L432.2 235.5L433.3 234.8L434.4 235.5L435.4 234.8L436.5 235.5L437.6 235.5L438.7 234.8L439.8 235.5L440.8 234.8L441.9 234.8L443 234.8L444.1 235.5L445.2 235.5L446.2 235.5L447.3 234.8L448.4 234.8L449.5 235.5L450.6 234.8L451.6 235.5L452.7 235.5L453.8 234.8L454.9 235.5L456 234.8L457 235.5L458.1 235.5L459.2 235.5L460.3 235.5L461.4 235.5L462.4 234.8L463.5 235.5L464.6 235.5L465.7 235.5L466.8 235.5L467.8 234.8L468.9 234.8L470 235.5L471.1 235.5L472.2 235.5L473.3 234.8L474.3 235.5L475.4 235.5L476.5 234.8L477.6 235.5L478.7 235.5L479.7 235.5L480.8 235.5L481.9 234.8L483 235.5L484.1 235.5L485.1 235.5L486.2 234.8L487.3 235.5L488.4 235.5L489.5 235.5L490.5 235.5L491.6 235.5L492.7 235.5L493.8 235.5L494.9 235.5L495.9 235.5L497 235.5L498.1 235.5L499.2 235.5L500.3 235.5L501.3 235.5L502.4 236.2L503.5 235.5L504.6 235.5L505.7 235.5L506.7 235.5L507.8 235.5L508.9 236.2L510 236.2L511.1 235.5L512.1 236.2L513.2 236.2L514.3 235.5L515.4 236.2L516.5 235.5L517.5 236.2L518.6 235.5L519.7 236.2L520.8 236.2L521.9 236.2L522.9 236.2L524 236.2L525.1 235.5L526.2 235.5L527.3 235.5L528.3 235.5L529.4 235.5L530.5 235.5L531.6 235.5L532.7 235.5L533.7 235.5L534.8 235.5L535.9 236.2L537 235.5L538.1 235.5L539.2 235.5L540.2 236.2L541.3 236.2L542.4 236.2L543.5 235.5L544.6 236.2L545.6 236.2L546.7 235.5L547.8 235.5L548.9 235.5L550 236.2L551 236.2L552.1 235.5L553.2 235.5L554.3 235.5L555.4 235.5L556.4 235.5L557.5 235.5L558.6 236.2L559.7 236.2L560.8 235.5L561.8 236.2L562.9 235.5L564 235.5L565.1 236.2L566.2 236.2L567.2 236.2L568.3 236.2L569.4 236.2L570.5 236.2L571.6 235.5L572.6 236.2L573.7 236.2L574.8 236.2L575.9 236.2L577 235.5L578 236.2L579.1 236.2L580.2 236.2L581.3 235.5L582.4 236.2L583.4 236.2L584.5 236.2L585.6 236.2L586.7 236.2L587.8 235.5L588.8 236.2L589.9 236.2L591 235.5L592.1 235.5L593.2 235.5L594.2 235.5L595.3 235.5L596.4 235.5L597.5 235.5L598.6 235.5L599.6 236.2L600.7 235.5L601.8 235.5L602.9 235.5L604 236.2L605.1 235.5L606.1 236.2L607.2 236.2L608.3 235.5L609.4 235.5L610.5 236.2L611.5 236.2L612.6 236.2L613.7 235.5L614.8 236.2L615.9 236.2L616.9 236.2L618 236.2L619.1 236.2L620.2 236.2L621.3 236.2L622.3 236.2L623.4 236.2L624.5 236.2L625.6 236.2L626.7 236.2L627.7 236.2L628.8 236.2L629.9 236.2L631 236.2L632.1 236.2L633.1 236.2L634.2 236.2L635.3 236.2L636.4 236.2L637.5 236.2L638.5 236.2L639.6 236.2L640.7 236.2L641.8 236.2L642.9 236.2L643.9 236.2L645 236.2L646.1 236.2L647.2 236.2L648.3 236.2L649.3 236.2L650.4 235.5L651.5 236.2L652.6 236.2L653.7 236.2L654.7 236.2L655.8 236.2L656.9 236.2L658 236.2L659.1 236.2L660.1 236.2L661.2 235.5L662.3 236.2L663.4 235.5L664.5 235.5L665.5 235.5L666.6 235.5L667.7 235.5L668.8 235.5L669.9 235.5L671 235.5L672 235.5L673.1 236.2L674.2 236.2L675.3 236.2L676.4 235.5L677.4 235.5L678.5 236.2L679.6 236.2L680.7 236.2L681.8 236.2L682.8 236.2L683.9 235.5L685 235.5L686.1 235.5L687.2 235.5L688.2 235.5L689.3 235.5L690.4 236.2L691.5 236.2L692.6 236.2L693.6 235.5L694.7 236.2L695.8 236.2L696.9 236.2L698 236.2L699 236.2L700.1 235.5L701.2 236.2L702.3 235.5L703.4 235.5L704.4 235.5L705.5 235.5L706.6 236.2L707.7 236.2L708.8 236.2L709.8 235.5L710.9 236.2L712 235.5L713.1 236.2L714.2 235.5L715.2 235.5L716.3 236.2L717.4 235.5L718.5 236.2L719.6 236.2L720.6 236.2L721.7 236.2L722.8 236.2L723.9 236.2L725 236.2L726 235.5L727.1 235.5L728.2 236.2L729.3 236.2L730.4 236.2L731.5 236.2L732.5 236.2L733.6 236.2L734.7 236.2L735.8 236.2L736.9 236.2L737.9 236.2L739 236.2L740.1 236.2L741.2 236.2L742.3 236.2L743.3 236.8L744.4 236.2L745.5 236.2L746.6 236.2L747.7 236.2L748.7 236.2L749.8 235.5L750.9 236.2L752 236.2L753.1 236.2L754.1 236.2L755.2 236.2L756.3 235.5L757.4 236.2L758.5 236.2L759.5 236.8L760.6 236.2L761.7 236.2L762.8 236.2L763.9 236.2L764.9 236.2L766 236.2L767.1 236.2L768.2 236.2L769.3 236.2L770.3 236.2L771.4 236.2L772.5 235.5L773.6 236.2L774.7 236.2L775.7 236.2L776.8 236.2L777.9 236.2L779 236.2L780.1 236.2L781.1 236.2L782.2 236.2L783.3 236.2L784.4 235.5L785.5 236.2L786.5 236.2L787.6 236.2L788.7 236.2L789.8 236.2L790.9 236.2L791.9 236.2L793 236.2L794.1 236.2L795.2 236.2L796.3 235.5L797.4 236.2L798.4 236.2L799.5 236.2L800.6 236.2L801.7 236.2L802.8 236.2L803.8 236.8L804.9 236.2L806 235.5L807.1 236.2L808.2 235.5L809.2 236.2L810.3 236.2L811.4 236.2L812.5 236.2L813.6 236.2L814.6 236.2L815.7 235.5L816.8 236.2L817.9 236.8L819 236.2L820 236.2L821.1 236.2L822.2 236.2L823.3 236.2L824.4 236.2L825.4 236.2L826.5 235.5L827.6 236.2L828.7 235.5L829.8 236.2L830.8 236.2L831.9 236.2L833 236.2L834.1 235.5L835.2 236.2L836.2 236.2L837.3 236.2L838.4 236.2L839.5 236.2L840.6 235.5L841.6 236.2L842.7 236.2L843.8 235.5L844.9 236.2L846 236.2L847 235.5L848.1 235.5L849.2 236.2L850.3 236.2L851.4 236.2L852.4 235.5L853.5 235.5L854.6 236.2L855.7 236.2L856.8 235.5L857.8 236.2L858.9 236.2L860 236.2L861.1 236.2L862.2 236.2L863.3 236.2L864.3 236.8L865.4 236.2L866.5 236.2L867.6 236.2L868.7 236.2L869.7 236.2L870.8 236.2L871.9 236.2L873 236.2L874.1 236.2L875.1 236.2L876.2 236.2L877.3 236.2L878.4 236.2L879.5 235.5L880.5 235.5L881.6 236.2L882.7 236.8L883.8 235.5L884.9 236.2L885.9 235.5L887 236.2L888.1 235.5L889.2 235.5L890.3 236.2L891.3 236.2L892.4 236.2L893.5 236.2L894.6 235.5L895.7 236.2L896.7 236.2L897.8 236.2L898.9 236.2L900 236.2L901.1 236.2L902.1 236.2L903.2 236.2L904.3 236.2L905.4 236.2L906.5 236.2L907.5 236.2L908.6 236.2L909.7 236.2L910.8 236.2L911.9 236.2L912.9 236.2L914 236.2L915.1 236.2L916.2 236.8L917.3 236.2L918.3 236.2L919.4 236.2L920.5 236.2L921.6 236.2L922.7 236.2L923.7 236.2L924.8 236.2L925.9 236.2L927 236.2L928.1 236.8L929.2 236.2L930.2 236.2L931.3 236.2L932.4 236.2L933.5 236.8L934.6 236.2L935.6 236.8L936.7 236.2L937.8 236.2L938.9 236.8L940 236.2L941 236.2L942.1 236.2L943.2 236.2L944.3 236.2L945.4 236.8L946.4 236.2L947.5 236.2L948.6 236.2L949.7 236.2L950.8 236.8L951.8 236.8L952.9 236.2L954 236.2L955.1 236.2L956.2 236.8L957.2 236.8L958.3 236.2L959.4 236.2L960.5 236.8L961.6 236.2L962.6 236.2L963.7 236.8L964.8 236.2L965.9 236.2L967 236.2L968 236.8L969.1 236.2L970.2 236.8L971.3 236.8L972.4 236.2L973.4 236.2L974.5 236.8L975.6 236.2L976.7 236.2L977.8 236.8L978.8 236.2L979.9 236.8L981 236.8L982.1 236.2L983.2 236.2L984.2 236.8L985.3 236.2L986.4 236.2L987.5 236.2L988.6 236.2L989.6 236.8L990.7 236.2L991.8 236.8L992.9 236.2L994 236.2L995.1 236.8L996.1 236.2L997.2 236.2L998.3 236.2L999.4 236.2L1000.5 236.2L1001.5 236.2L1002.6 236.8L1003.7 236.8L1004.8 236.2L1005.9 236.2L1006.9 236.2L1008 236.2L1009.1 236.2L1010.2 235.5L1011.3 236.2L1012.3 236.2L1013.4 236.2L1014.5 236.8L1015.6 236.2L1016.7 236.2L1017.7 236.2L1018.8 236.2L1019.9 236.2L1021 236.2L1022.1 236.2L1023.1 236.2L1024.2 236.2L1025.3 236.8L1026.4 236.2L1027.5 236.2L1028.5 236.2L1029.6 236.2L1030.7 236.2L1031.8 236.2L1032.9 236.2L1033.9 236.2L1035 236.8L1036.1 236.2L1037.2 236.2L1038.3 236.2L1039.3 236.8L1040.4 236.2L1041.5 236.8L1042.6 236.2L1043.7 236.8L1044.7 236.8L1045.8 236.8L1046.9 236.8L1048 236.8L1049.1 236.8L1050.1 236.8L1051.2 236.8L1052.3 236.2L1053.4 236.2L1054.5 236.2L1055.6 236.2L1056.6 236.8L1057.7 236.2L1058.8 236.8L1059.9 236.8L1061 236.8L1062 236.8L1063.1 236.2L1064.2 236.8L1065.3 236.8L1066.4 236.2L1067.4 236.2L1068.5 236.8L1069.6 236.2L1070.7 236.2L1071.8 236.2L1072.8 236.8L1073.9 236.8L1075 236.8L1076.1 236.2L1077.2 236.8L1078.2 236.8L1079.3 236.2L1080.4 236.8L1081.5 236.8L1082.6 236.2L1083.6 236.8L1084.7 236.2L1085.8 236.8L1086.9 236.2L1088 236.8L1089 236.8L1090.1 236.2L1091.2 236.2L1092.3 236.2L1093.4 236.2L1094.4 236.2L1095.5 236.2L1096.6 236.8L1097.7 236.8L1098.8 236.8L1099.8 236.2L1100.9 236.2L1102 236.2L1103.1 236.8L1104.2 236.2L1105.2 236.8L1106.3 236.8L1107.4 236.8L1108.5 236.2L1109.6 236.2L1110.6 236.8L1111.7 236.2L1112.8 236.8L1113.9 236.8L1115 236.2L1116 236.8L1117.1 236.8L1118.2 236.8L1119.3 236.2L1120.4 236.8L1121.5 236.8L1122.5 236.2L1123.6 236.2L1124.7 236.2L1125.8 236.8L1126.9 236.8L1127.9 236.8L1129 236.8L1130.1 236.8L1131.2 236.8L1132.3 236.8L1133.3 236.2L1134.4 236.8L1135.5 236.2L1136.6 236.8L1137.7 237.5L1138.7 236.8L1139.8 236.8L1140.9 236.8L1142 236.8L1143.1 236.8L1144.1 236.8L1145.2 236.8L1146.3 236.8L1147.4 236.8L1148.5 236.8L1149.5 236.8L1150.6 236.8L1151.7 236.8L1152.8 236.8L1153.9 236.8L1154.9 236.8L1156 236.2L1157.1 236.8L1158.2 236.2L1159.3 236.8L1160.3 236.8L1161.4 236.8L1162.5 236.2L1163.6 236.8L1164.7 236.8L1165.7 236.8L1166.8 236.8L1167.9 236.8L1169 236.8L1170.1 236.8L1171.1 236.8L1172.2 236.8L1173.3 236.8L1174.4 236.8L1175.5 236.8L1176.5 236.2L1177.6 236.8L1178.7 236.8L1179.8 236.2L1180.9 236.8L1181.9 236.8L1183 236.8L1184.1 236.8L1185.2 236.8L1186.3 236.8L1187.4 236.8L1188.4 236.8L1189.5 236.8L1190.6 236.8L1191.7 236.8L1192.8 236.8L1193.8 236.2L1194.9 236.2L1196 236.8L1197.1 236.8L1198.2 236.8L1199.2 236.8L1200.3 236.8L1201.4 236.8L1202.5 236.8L1203.6 236.8L1204.6 236.8L1205.7 236.8L1206.8 236.8L1207.9 236.8L1209 236.8L1210 236.2L1211.1 236.8L1212.2 236.8L1213.3 236.2L1214.4 236.2L1215.4 236.8L1216.5 236.8L1217.6 236.8L1218.7 236.8L1219.8 236.8L1220.8 236.8L1221.9 236.8L1223 236.8L1224.1 236.8L1225.2 236.8L1226.2 236.8L1227.3 236.2L1228.4 236.8L1229.5 236.8L1230.6 236.8L1231.6 236.8L1232.7 236.8L1233.8 236.8L1234.9 236.8L1236 236.2L1237 236.8L1238.1 236.8L1239.2 236.8L1240.3 236.8L1241.4 236.8L1242.4 236.8L1243.5 236.8L1244.6 236.2L1245.7 236.8L1246.8 236.8L1247.8 236.8L1248.9 236.8L1250 236.8L1251.1 236.8L1252.2 236.2L1253.3 236.8L1254.3 236.8L1255.4 236.8L1256.5 236.8L1257.6 236.8L1258.7 236.8L1259.7 236.8L1260.8 236.8L1261.9 236.8L1263 236.8L1264.1 236.8L1265.1 236.2L1266.2 236.8L1267.3 236.8L1268.4 236.8L1269.5 236.2L1270.5 236.8L1271.6 236.2L1272.7 236.2L1273.8 236.2L1274.9 236.2L1275.9 236.8L1277 236.8L1278.1 236.8L1279.2 236.2L1280.3 236.8L1281.3 236.8L1282.4 236.8L1283.5 236.8L1284.6 236.2L1285.7 236.8L1286.7 236.8L1287.8 236.8L1288.9 236.8L1290 236.8L1291.1 236.8L1292.1 236.2L1293.2 236.8L1294.3 236.8L1295.4 236.8L1296.5 236.8L1297.5 236.8L1298.6 236.8L1299.7 237.5L1300.8 236.8L1301.9 236.8L1302.9 236.8L1304 236.8L1305.1 236.8L1306.2 236.8L1307.3 236.8L1308.3 236.8L1309.4 236.8L1310.5 236.8L1311.6 236.8L1312.7 236.8" stroke="#0000ff" stroke-width="4.0" stroke-linecap="round"/>
<path d="M341.4 750.5L343.1 751.3L344.7 752.3L346.3 753.3L347.9 753.6L349.6 753.4L351.2 753.7L352.8 754.3L354.4 754.7L356 755.1L357.7 755.4L359.3 754.7L360.9 752.4L362.5 749.2L364.1 747.2L365.8 748.3L367.4 753.1L369 758.4L370.6 759.9L372.2 756.7L373.9 752.8L375.5 752.3L377.1 754.2L378.7 755.2L380.3 753.8L382 751.1L383.6 748.4L385.2 746.3L386.8 744.6L388.4 743.8L390.1 745L391.7 748.7L393.3 753.6L394.9 757.7L396.5 760.3L398.2 761.6L399.8 761.1L401.4 758.3L403 755L404.6 753.9L406.3 754.3L407.9 752.5L409.5 748L411.1 744.9L412.8 746.9L414.4 752.2L416 755.3L417.6 753.8L419.2 750.1L420.9 747.7L422.5 747.8L424.1 749.6L425.7 752.5L427.3 755.9L429 757.6L430.6 755.5L432.2 749.7L433.8 743.7L435.4 742.1L437.1 747.1L438.7 755.8L440.3 762.7L441.9 764.3L443.5 760.9L445.2 755.6L446.8 751.2L448.4 749.9L450 751.3L451.6 752.4L453.3 750.2L454.9 745.6L456.5 742.9L458.1 745.9L459.7 753.9L461.4 761.3L463 762.4L464.6 757.8L466.2 752.7L467.8 751.2L469.5 751.9L471.1 752.4L472.7 752.1L474.3 751.2L476 749.3L477.6 746L479.2 743.5L480.8 744.7L482.4 750L484.1 756L485.7 758.9L487.3 758.2L488.9 756.4L490.5 755.5L492.2 754.9L493.8 753.3L495.4 750.9L497 748.5L498.6 746.1L500.3 745.1L501.9 748.6L503.5 756.3L505.1 762.4L506.7 760.6L508.4 752.1L510 745L511.6 745.4L513.2 751L514.8 754.9L516.5 755.1L518.1 755.4L519.7 758.4L521.3 760.9L522.9 759.1L524.6 753.2L526.2 747.5L527.8 745.9L529.4 748L531 748.9L532.7 746.2L534.3 744.4L535.9 749L537.5 757.4L539.2 761.2L540.8 756.7L542.4 748.6L544 744L545.6 745.2L547.3 749.7L548.9 754.1L550.5 756.4L552.1 756.3L553.7 754.5L555.4 752.2L557 750.2L558.6 749.2L560.2 748.8L561.8 749L563.5 750L565.1 751.8L566.7 753.1L568.3 753.3L569.9 753.1L571.6 753.5L573.2 754.1L574.8 753.5L576.4 750.8L578 747.8L579.7 747.2L581.3 749.8L582.9 753.5L584.5 755.6L586.1 755.5L587.8 754.4L589.4 754.3L591 755.2L592.6 755.5L594.2 754L595.9 751.5L597.5 749L599.1 747.1L600.7 745.9L602.4 746L604 747.9L605.6 751.8L607.2 756.3L608.8 759.4L610.5 759L612.1 755.4L613.7 751.5L615.3 750.6L616.9 751.9L618.6 751.8L620.2 749.7L621.8 749.9L623.4 754.2L625 758.2L626.7 756.7L628.3 750.7L629.9 746.4L631.5 747.1L633.1 751.1L634.8 754.3L636.4 753.2L638 748L639.6 742.5L641.2 741.8L642.9 747.2L644.5 755.1L646.1 759.9L647.7 759.3L649.3 755.2L651 751.1L652.6 748.9L654.2 748.9L655.8 750.8L657.4 753.5L659.1 754.8L660.7 753.3L662.3 751.2L663.9 750.7L665.5 751L667.2 749.5L668.8 747.3L670.4 748.3L672 753.3L673.7 757.2L675.3 755.7L676.9 751L678.5 748.5L680.1 749.7L681.8 751.2L683.4 749.7L685 746.4L686.6 745.4L688.2 750.1L689.9 759.1L691.5 765L693.1 761.2L694.7 749.4L696.3 739.2L698 737.6L699.6 743.3L701.2 750.9L702.8 756.4L704.4 757.2L706.1 753.4L707.7 750.7L709.3 754.7L710.9 762.2L712.5 764.7L714.2 758.7L715.8 749.3L717.4 743.6L719 743.8L720.6 747.3L722.3 749.9L723.9 749.3L725.5 747.4L727.1 748.7L728.7 754.4L730.4 760.2L732 760.1L733.6 753.3L735.2 744.6L736.9 740.3L738.5 743.5L740.1 751.7L741.7 758.6L743.3 758.9L745 755.1L746.6 753.2L748.2 755L749.8 755.8L751.4 752.4L753.1 747.8L754.7 746.8L756.3 749.5L757.9 751.6L759.5 750.7L761.2 750.1L762.8 753.4L764.4 758.3L766 758.3L767.6 751.6L769.3 744.4L770.9 742.9L772.5 746.1L774.1 748.7L775.7 749L777.4 749.7L779 754L780.6 760.3L782.2 763.5L783.8 760.9L785.5 755.7L787.1 752.6L788.7 751.2L790.3 748.7L791.9 745.8L793.6 746.6L795.2 751.4L796.8 756.8L798.4 759.7L800.1 760.5L801.7 759.2L803.3 754.8L804.9 748.4L806.5 744.1L808.2 745L809.8 750.2L811.4 755.2L813 756L814.6 751.7L816.3 745.5L817.9 743L819.5 747.3L821.1 755.7L822.7 761.1L824.4 759.6L826 753.4L827.6 747.9L829.2 746.1L830.8 748.3L832.5 752.5L834.1 755.8L835.7 756.6L837.3 755.6L838.9 754.5L840.6 753.5L842.2 752.5L843.8 751.5L845.4 751.7L847 753.4L848.7 755.7L850.3 757.3L851.9 756.9L853.5 753.9L855.1 748.7L856.8 744.3L858.4 744.2L860 748.9L861.6 755.1L863.3 758.7L864.9 758.9L866.5 757.5L868.1 756.1L869.7 754.7L871.4 752.7L873 750.1L874.6 747.5L876.2 745.6L877.8 744.9L879.5 745.9L881.1 749L882.7 753.9L884.3 758.1L885.9 758.4L887.6 754.6L889.2 750.3L890.8 749.1L892.4 750.9L894 753.1L895.7 753.8L897.3 753.3L898.9 751.8L900.5 750L902.1 749L903.8 750.5L905.4 754.7L907 759.1L908.6 759.5L910.2 754.9L911.9 749.2L913.5 746.9L915.1 747.9L916.7 749L918.3 748.1L920 747.3L921.6 749.7L923.2 755.3L924.8 759.6L926.5 758.7L928.1 754L929.7 751.8L931.3 755.3L932.9 760.6L934.6 761.1L936.2 755.7L937.8 749.5L939.4 747.1L941 749.1L942.7 753.1L944.3 755.8L945.9 754.1L947.5 747.6L949.1 741.4L950.8 742.7L952.4 751.3L954 758.8L955.6 757.8L957.2 751.2L958.9 747.8L960.5 751.9L962.1 759.1L963.7 761.9L965.3 757.5L967 750.5L968.6 747.3L970.2 749.1L971.8 752.2L973.4 752.8L975.1 751.5L976.7 751.4L978.3 754L979.9 757L981.5 756.3L983.2 751.4L984.8 747.1L986.4 748.5L988 754.2L989.6 758.3L991.3 758L992.9 755.2L994.5 753L996.1 753.1L997.8 755.1L999.4 756.3L1001 753.1L1002.6 746.4L1004.2 742L1005.9 744.1L1007.5 750.4L1009.1 755.8L1010.7 758.3L1012.3 759.4L1014 759.3L1015.6 756.4L1017.2 751.1L1018.8 747.6L1020.4 748.5L1022.1 751.7L1023.7 752.8L1025.3 751.3L1026.9 750L1028.5 750.3L1030.2 751.1L1031.8 751.3L1033.4 751.3L1035 751.9L1036.6 753.6L1038.3 755.8L1039.9 757.4L1041.5 756.8L1043.1 753L1044.7 747.8L1046.4 745.5L1048 748.5L1049.6 754.4L1051.2 757.5L1052.8 755.9L1054.5 752L1056.1 748.9L1057.7 747.3L1059.3 748.2L1061 751.6L1062.6 754.5L1064.2 753L1065.8 748.8L1067.4 748.1L1069.1 753.1L1070.7 758.5L1072.3 758.7L1073.9 754.4L1075.5 750.2L1077.2 749.3L1078.8 751.2L1080.4 754.2L1082 756.9L1083.6 758.1L1085.3 756.3L1086.9 752.7L1088.5 751.4L1090.1 754.2L1091.7 757.1L1093.4 755.3L1095 748.9L1096.6 743.6L1098.2 743.9L1099.8 749L1101.5 754.2L1103.1 757.2L1104.7 759L1106.3 759.9L1107.9 757.4L1109.6 751.8L1111.2 748.5L1112.8 751.8L1114.4 757.6L1116 758.8L1117.7 753.7L1119.3 746.8L1120.9 742.7L1122.5 743.7L1124.2 749.3L1125.8 755L1127.4 755L1129 748.7L1130.6 743.5L1132.3 747.2L1133.9 756.7L1135.5 759.7L1137.1 750.4L1138.7 739.2L1140.4 741L1142 755.7L1143.6 767.7L1145.2 764.8L1146.8 751.7L1148.5 740.9L1150.1 738.7L1151.7 742.2L1153.3 746.3L1154.9 748.7L1156.6 749.8L1158.2 751.1L1159.8 754.4L1161.4 759.8L1163 764.7L1164.7 763.9L1166.3 754.6L1167.9 742L1169.5 737.3L1171.1 745.1L1172.8 757.9L1174.4 763.7L1176 759.2L1177.6 749.6L1179.2 741.6L1180.9 738.9L1182.5 742.4L1184.1 750.5L1185.7 758.3L1187.4 761.1L1189 757.7L1190.6 751.5L1192.2 747.6L1193.8 748.5L1195.5 751.7L1197.1 752.9L1198.7 751L1200.3 749.5L1201.9 751.3L1203.6 753.9L1205.2 753.1L1206.8 749.8L1208.4 749.1L1210 752.8L1211.7 755.5L1213.3 752.3L1214.9 746.5L1216.5 745.8L1218.1 751.9L1219.8 758.7L1221.4 759.8L1223 754.4L1224.6 748.3L1226.2 748L1227.9 753.4L1229.5 757L1231.1 752.8L1232.7 744.6L1234.3 741.5L1236 747.9L1237.6 759.4L1239.2 767.2L1240.8 765.3L1242.4 755.6L1244.1 745.5L1245.7 741.3L1247.3 743.8L1248.9 749.2L1250.6 753.5L1252.2 754.6L1253.8 752.2L1255.4 748.3L1257 746.6L1258.7 750.1L1260.3 757.1L1261.9 762L1263.5 760.9L1265.1 755.5L1266.8 750.5L1268.4 748.1L1270 747.1L1271.6 747.2L1273.2 750L1274.9 755.5L1276.5 760.5L1278.1 761.5L1279.7 757.6L1281.3 750.1L1283 743.4L1284.6 742.8L1286.2 749.6L1287.8 758.5L1289.4 762.3L1291.1 760.1L1292.7 756.2L1294.3 752.5L1295.9 747.5L1297.5 742.8L1299.2 744.1L1300.8 753L1302.4 762.9L1304 765.6L1305.6 759.6L1307.3 749.9L1308.9 743.4L1310.5 742.9L1312.1 746" stroke="#bebebe" stroke-width="2" stroke-linecap="butt"/>
<path d="M341.4 512.5L341.7 517.4L342 511.4L342.3 506.4L342.5 509.4L342.8 508.1L343.1 500.6L343.3 503L343.6 516L343.9 521L344.2 511.4L344.4 501.3L344.7 502.6L345 512.3L345.2 518.5L345.5 514.1L345.8 505.5L346 499.9L346.3 498.7L346.6 506.1L346.9 516.7L347.1 517.3L347.4 509.7L347.7 505.6L347.9 507.2L348.2 507.6L348.5 504.9L348.7 504L349 506.2L349.3 508.7L349.6 507.6L349.8 504.8L350.1 507.6L350.4 511.7L350.6 507.2L350.9 500.1L351.2 503.5L351.4 512.3L351.7 512L352 504.8L352.3 504.2L352.5 507.5L352.8 505.7L353.1 502.7L353.3 503.7L353.6 506.3L353.9 509.5L354.1 510.4L354.4 503.8L354.7 496.9L355 499.7L355.2 507.6L355.5 511.9L355.8 511.3L356 508.5L356.3 505.3L356.6 503L356.8 504.5L357.1 507.4L357.4 503.7L357.7 497.8L357.9 501.8L358.2 510L358.5 510L358.7 503.8L359 500.2L359.3 502.3L359.5 506.7L359.8 506.3L360.1 500.6L360.4 500L360.6 508L360.9 513.2L361.2 512.2L361.4 512.5L361.7 511.5L362 503.8L362.2 494.5L362.5 494.2L362.8 505.9L363.1 516.4L363.3 512.8L363.6 503.4L363.9 502.2L364.1 506.5L364.4 506.5L364.7 502.7L364.9 501.5L365.2 504.8L365.5 509.7L365.8 511.6L366 509.1L366.3 504.4L366.6 500.6L366.8 503.5L367.1 512.7L367.4 516.8L367.6 511.5L367.9 504.7L368.2 502.1L368.5 504L368.7 509.3L369 512.9L369.3 510.9L369.5 507.8L369.8 506.1L370.1 504.2L370.3 504.8L370.6 507.7L370.9 508.8L371.2 508.4L371.4 507.6L371.7 506.8L372 508.7L372.2 511.1L372.5 509.7L372.8 508L373 509.1L373.3 509.8L373.6 505.9L373.9 501.3L374.1 504L374.4 511.4L374.7 513.9L374.9 511.4L375.2 511.8L375.5 514.7L375.8 511.6L376 503.3L376.3 500.7L376.6 505.3L376.8 509.4L377.1 511L377.4 512.8L377.6 512.9L377.9 510.2L378.2 507.5L378.5 505.1L378.7 503.4L379 508.2L379.3 517.4L379.5 517.5L379.8 506.2L380.1 499.8L380.3 505.8L380.6 512.8L380.9 510.2L381.2 502L381.4 499.2L381.7 505L382 511.5L382.2 512.1L382.5 509.8L382.8 507.2L383 504.5L383.3 505L383.6 508.3L383.9 508.6L384.1 506.7L384.4 507.6L384.7 508.3L384.9 508.2L385.2 510.1L385.5 511.9L385.7 510.6L386 507.6L386.3 505.8L386.6 507.2L386.8 509.5L387.1 508.6L387.4 507.3L387.6 507.2L387.9 503.5L388.2 500.3L388.4 505.3L388.7 511.7L389 510.9L389.3 507.2L389.5 505.9L389.8 506.6L390.1 507.3L390.3 505.1L390.6 501.2L390.9 500.4L391.1 501.5L391.4 502.7L391.7 506.2L392 511.2L392.2 514.1L392.5 513.1L392.8 508.7L393 505.1L393.3 505L393.6 507.1L393.8 506.2L394.1 500.4L394.4 500.5L394.7 512.2L394.9 519.6L395.2 509.8L395.5 496.8L395.7 499.6L396 511.4L396.3 511.8L396.5 499.7L396.8 493.3L397.1 498.5L397.4 505.2L397.6 507.4L397.9 505.4L398.2 502L398.4 501.3L398.7 502.5L399 505L399.2 509.3L399.5 507.9L399.8 503.4L400.1 508.8L400.3 515.5L400.6 507.1L400.9 496.4L401.1 502.4L401.4 515.3L401.7 513.6L401.9 499.7L402.2 495.4L402.5 502.2L402.8 502.8L403 501.8L403.3 513.5L403.6 522L403.8 509.1L404.1 492.1L404.4 493.7L404.6 505.4L404.9 508.8L405.2 508.6L405.5 513.3L405.7 511.7L406 500.2L406.3 495.9L406.5 505.3L406.8 515.7L407.1 513.9L407.4 506.2L407.6 508.3L407.9 512L408.2 502.1L408.4 491.8L408.7 499.6L409 514.1L409.2 515.3L409.5 509.1L409.8 506.5L410.1 502.8L410.3 499.6L410.6 502.2L410.9 504.1L411.1 505.5L411.4 513.1L411.7 515.4L411.9 503.9L412.2 497.3L412.5 506.9L412.8 515.6L413 513.1L413.3 509.1L413.6 504.2L413.8 497.3L414.1 501.6L414.4 515.3L414.6 517.5L414.9 505.8L415.2 498.1L415.5 503.2L415.7 509.9L416 508.9L416.3 504.8L416.5 504.9L416.8 508.9L417.1 510.8L417.3 508L417.6 504L417.9 503.4L418.2 508.7L418.4 513.7L418.7 508.8L419 500.8L419.2 503L419.5 509.4L419.8 508.1L420 505.3L420.3 508.3L420.6 509.4L420.9 503.5L421.1 499.7L421.4 505.1L421.7 512.6L421.9 511.1L422.2 504L422.5 502.4L422.7 506.6L423 508.4L423.3 506.4L423.6 506.1L423.8 506.9L424.1 504.9L424.4 502.5L424.6 502.9L424.9 504.4L425.2 506.5L425.4 506.8L425.7 502.7L426 500.2L426.3 505.1L426.5 510.8L426.8 512.6L427.1 511.7L427.3 507.3L427.6 502.1L427.9 501.5L428.1 505.5L428.4 510.4L428.7 511.3L429 506.1L429.2 501.1L429.5 504.1L429.8 509.3L430 507L430.3 500.9L430.6 499.2L430.8 503.6L431.1 508L431.4 505.7L431.7 502.1L431.9 504.7L432.2 509.3L432.5 509.3L432.7 503.9L433 498.9L433.3 501.1L433.5 506.5L433.8 507.1L434.1 505.2L434.4 505.3L434.6 507.4L434.9 510.9L435.2 514.5L435.4 515.5L435.7 511.8L436 504.7L436.2 499.4L436.5 502.3L436.8 511.8L437.1 517.9L437.3 515.2L437.6 506.5L437.9 499L438.1 499.3L438.4 505.1L438.7 507.7L439 505.2L439.2 503.6L439.5 504.5L439.8 504.3L440 503.3L440.3 506.7L440.6 510.5L440.8 507.9L441.1 503.4L441.4 502.9L441.7 503L441.9 500.4L442.2 498.7L442.5 501.5L442.7 505.2L443 504.3L443.3 501.8L443.5 503L443.8 504.5L444.1 505.2L444.4 512.3L444.6 519.8L444.9 514.9L445.2 503.9L445.4 500.9L445.7 505.8L446 509.4L446.2 510.6L446.5 513.6L446.8 514.2L447.1 506.3L447.3 498L447.6 500.1L447.9 507.7L448.1 511.7L448.4 509.6L448.7 500.3L448.9 491.6L449.2 496.5L449.5 510.9L449.8 517.7L450 510.1L450.3 497.5L450.6 494.1L450.8 502.9L451.1 512.1L451.4 509.5L451.6 500.7L451.9 499L452.2 506.2L452.5 510.2L452.7 501.6L453 491.6L453.3 495.5L453.5 507.3L453.8 513.2L454.1 510.2L454.3 504.6L454.6 502.9L454.9 506.3L455.2 510.9L455.4 509.8L455.7 502.3L456 498.7L456.2 504.3L456.5 511.4L456.8 513.1L457 511L457.3 509.7L457.6 509.1L457.9 506.9L458.1 506.5L458.4 511.5L458.7 516.3L458.9 513.3L459.2 506.6L459.5 506.7L459.7 513.4L460 516.8L460.3 513.3L460.6 507.6L460.8 505.4L461.1 507.2L461.4 509.2L461.6 508.8L461.9 508.2L462.2 509.4L462.4 510.2L462.7 510.5L463 511.6L463.3 512.2L463.5 512.5L463.8 512.9L464.1 512.6L464.3 507.6L464.6 498.7L464.9 497.3L465.1 504.9L465.4 508L465.7 505.6L466 506.6L466.2 508.3L466.5 506.1L466.8 502.5L467 499.9L467.3 501.2L467.6 504.4L467.8 504.4L468.1 504.9L468.4 509.4L468.7 513.5L468.9 512.5L469.2 503.5L469.5 494L469.7 499.5L470 514.2L470.3 518L470.5 511L470.8 505.7L471.1 506.8L471.4 508.3L471.6 504.4L471.9 503.4L472.2 509.8L472.4 512L472.7 507.3L473 505.1L473.3 506.1L473.5 504.7L473.8 503.7L474.1 507.1L474.3 509L474.6 507L474.9 506.9L475.1 507.2L475.4 503.2L475.7 500.7L476 506.8L476.2 514.2L476.5 513.1L476.8 508.6L477 508.9L477.3 511.6L477.6 511.9L477.8 509.4L478.1 506.8L478.4 507.7L478.7 510.3L478.9 508.9L479.2 503.3L479.5 501.7L479.7 507.5L480 512.4L480.3 514.2L480.5 515.5L480.8 512.6L481.1 508.1L481.4 506.2L481.6 502.6L481.9 499.3L482.2 503L482.4 511.9L482.7 518L483 514.6L483.2 504.2L483.5 499.9L483.8 505.3L484.1 507.6L484.3 504.5L484.6 505.3L484.9 506.1L485.1 501.6L485.4 500.9L485.7 507.7L485.9 511L486.2 507L486.5 504.9L486.8 506.1L487 506.9L487.3 509.4L487.6 511.7L487.8 511.4L488.1 511.2L488.4 508.6L488.6 500.9L488.9 497.6L489.2 505.9L489.5 513.8L489.7 511L490 509.2L490.3 514.2L490.5 511.2L490.8 502L491.1 502.5L491.3 506.6L491.6 501.7L491.9 496.6L492.2 500.3L492.4 507L492.7 511L493 512.2L493.2 509.1L493.5 503.1L493.8 499L494 501.6L494.3 510.6L494.6 515.4L494.9 507.2L495.1 497.3L495.4 500.4L495.7 509L495.9 510.5L496.2 507.7L496.5 506L496.7 504.6L497 504.7L497.3 505.9L497.6 506.7L497.8 510L498.1 513L498.4 508.1L498.6 501L498.9 499.6L499.2 502.7L499.4 508.5L499.7 512.8L500 512.3L500.3 509.7L500.5 505.9L500.8 503.9L501.1 510.9L501.3 518.2L501.6 513.9L501.9 507.2L502.1 506.8L502.4 505.7L502.7 502.6L503 501.7L503.2 503.8L503.5 511.4L503.8 519.2L504 516.2L504.3 506.2L504.6 503L504.9 505L505.1 503.6L505.4 501.9L505.7 504.4L505.9 507.5L506.2 508.6L506.5 508.6L506.7 510.3L507 514L507.3 514L507.6 509.3L507.8 506.5L508.1 505.7L508.4 505.1L508.6 507.8L508.9 509.9L509.2 508.4L509.4 507.8L509.7 506.7L510 501.8L510.3 500.5L510.5 506.5L510.8 511.3L511.1 509.6L511.3 505.9L511.6 505.8L511.9 506.9L512.1 503.6L512.4 500L512.7 504.7L513 512.4L513.2 512.9L513.5 510L513.8 511.1L514 511.7L514.3 506.5L514.6 499.5L514.8 495.6L515.1 497L515.4 505.9L515.7 516.7L515.9 518.9L516.2 511.2L516.5 502L516.7 499.6L517 502.7L517.3 504.7L517.5 505.8L517.8 508.5L518.1 510.3L518.4 507.1L518.6 502.3L518.9 505.4L519.2 511.9L519.4 508.2L519.7 499.2L520 499.2L520.2 505.8L520.5 509.2L520.8 510L521.1 511.5L521.3 509.4L521.6 502.9L521.9 499.9L522.1 503L522.4 506.1L522.7 505.3L522.9 503.7L523.2 506.4L523.5 511.7L523.8 510.7L524 503.7L524.3 503.1L524.6 507.9L524.8 505.2L525.1 498.7L525.4 501.7L525.6 511.7L525.9 515L526.2 506.9L526.5 498.3L526.7 500.2L527 506.6L527.3 505.6L527.5 502L527.8 506.3L528.1 513.5L528.3 511.7L528.6 504.9L528.9 505L529.2 509.7L529.4 508.4L529.7 502.4L530 503.8L530.2 512L530.5 513.4L530.8 506.5L531 502.1L531.3 504.8L531.6 510.5L531.9 513.2L532.1 511.1L532.4 505.4L532.7 502.1L532.9 504.8L533.2 508.5L533.5 509L533.7 508L534 506.9L534.3 506.8L534.6 507.6L534.8 506.5L535.1 505L535.4 505.4L535.6 503.7L535.9 502L536.2 506.3L536.5 510.2L536.7 505.8L537 499.4L537.3 499.2L537.5 503.2L537.8 505.5L538.1 504.7L538.3 504.7L538.6 505.6L538.9 502.9L539.2 500.2L539.4 505.2L539.7 512.2L540 511.8L540.2 507.7L540.5 505.2L540.8 503L541 503.3L541.3 506.4L541.6 507.7L541.9 509.8L542.1 515.7L542.4 518.6L542.7 513.7L542.9 506.8L543.2 503.9L543.5 501.9L543.7 498.6L544 501.8L544.3 512.8L544.6 515.5L544.8 504.2L545.1 498.2L545.4 506L545.6 511L545.9 506.2L546.2 504.9L546.4 510.5L546.7 510.8L547 502.8L547.3 496.6L547.5 501.5L547.8 512L548.1 514.1L548.3 507.6L548.6 504.5L548.9 505.3L549.1 501.8L549.4 496L549.7 497.6L550 506.4L550.2 509.4L550.5 504L550.8 503.9L551 511.2L551.3 513L551.6 507.5L551.8 503.7L552.1 504.4L552.4 504.2L552.7 502L552.9 504.8L553.2 512.4L553.5 514.4L553.7 507.1L554 500.2L554.3 500.8L554.5 503.5L554.8 504.2L555.1 508.5L555.4 515.3L555.6 512.7L555.9 501.5L556.2 495.3L556.4 497.1L556.7 502.1L557 506.7L557.2 506.5L557.5 505.7L557.8 510.7L558.1 511.7L558.3 502.4L558.6 497.4L558.9 505.4L559.1 512.9L559.4 508.2L559.7 498.5L559.9 497.8L560.2 506.7L560.5 512.3L560.8 508.3L561 502.2L561.3 501.5L561.6 505.3L561.8 508.6L562.1 508.2L562.4 506L562.6 505.8L562.9 507.3L563.2 505.9L563.5 501.4L563.7 500.6L564 505.7L564.3 509.5L564.5 507.4L564.8 505.3L565.1 508.6L565.3 511.1L565.6 508.1L565.9 505.3L566.2 504.9L566.4 505.2L566.7 507.2L567 509.2L567.2 508.4L567.5 505L567.8 502.6L568 505.3L568.3 510L568.6 510.8L568.9 507.9L569.1 503.7L569.4 501.8L569.7 505.5L569.9 508.3L570.2 504.7L570.5 503L570.8 508.2L571 514L571.3 513.7L571.6 505.7L571.8 497.8L572.1 498.9L572.4 507.3L572.6 511.6L572.9 508.1L573.2 504.7L573.5 505.1L573.7 507.5L574 509.8L574.3 506.6L574.5 503.6L574.8 510.5L575.1 517L575.3 512.9L575.6 506L575.9 503.7L576.2 503.6L576.4 504.4L576.7 508.4L577 513.1L577.2 512.6L577.5 508.7L577.8 509L578 511.1L578.3 507.4L578.6 503.1L578.9 501.7L579.1 498.7L579.4 499.7L579.7 506.9L579.9 510.8L580.2 511.8L580.5 511.6L580.7 504.5L581 497.3L581.3 500.1L581.6 507.2L581.8 511.4L582.1 509.5L582.4 502.2L582.6 500.6L582.9 507.7L583.2 510.4L583.4 503L583.7 496.8L584 502.9L584.3 515.7L584.5 518.9L584.8 509.5L585.1 499.4L585.3 498.8L585.6 505.6L585.9 510.2L586.1 511.2L586.4 512L586.7 510.2L587 505.7L587.2 503L587.5 505.2L587.8 509.9L588 510.3L588.3 506.4L588.6 506.3L588.8 510L589.1 508.4L589.4 502L589.7 502.4L589.9 510L590.2 511.8L590.5 505.8L590.7 501.9L591 501.9L591.3 502.1L591.5 504.2L591.8 509.2L592.1 511.6L592.4 505.8L592.6 497.8L592.9 498.1L593.2 504.2L593.4 508L593.7 509.5L594 509.8L594.2 505.9L594.5 500L594.8 499.8L595.1 505.3L595.3 507.9L595.6 506.1L595.9 507.6L596.1 514.3L596.4 517.4L596.7 512.4L596.9 509.2L597.2 512L597.5 510.4L597.8 504.4L598 505.5L598.3 507.9L598.6 500.6L598.8 494.7L599.1 501.3L599.4 509.3L599.6 508.4L599.9 506.7L600.2 511.5L600.5 513.8L600.7 504.4L601 493.1L601.3 495.4L601.5 506.4L601.8 509.2L602.1 504.7L602.4 507.2L602.6 514.5L602.9 511.2L603.2 500.9L603.4 499.1L603.7 504.2L604 504.9L604.2 501.8L604.5 503.9L604.8 510.1L605.1 508.7L605.3 500.9L605.6 499.5L605.9 506L606.1 510.2L606.4 507.7L606.7 503.9L606.9 505L607.2 508.6L607.5 508.8L607.8 508L608 510.1L608.3 511.6L608.6 507.9L608.8 502.3L609.1 501.2L609.4 506.4L609.6 510.6L609.9 506.5L610.2 501L610.5 504.1L610.7 511.6L611 511.2L611.3 502.4L611.5 498.8L611.8 506.4L612.1 513.4L612.3 512.2L612.6 509.3L612.9 508.7L613.2 508.4L613.4 508.1L613.7 509.6L614 512.3L614.2 511.4L614.5 507L614.8 506.6L615 512.1L615.3 514.6L615.6 510.3L615.9 506.4L616.1 504.9L616.4 502.2L616.7 504.4L616.9 514.7L617.2 520.8L617.5 513.7L617.7 503.4L618 506.1L618.3 517.2L618.6 518.7L618.8 508.8L619.1 498.2L619.4 495.3L619.6 503.7L619.9 514.5L620.2 517.9L620.4 515.3L620.7 510.1L621 507.8L621.3 509.6L621.5 508.1L621.8 505.7L622.1 509.9L622.3 511.8L622.6 504.4L622.9 498.9L623.1 506.4L623.4 520.4L623.7 521.1L624 506.4L624.2 499L624.5 505.7L624.8 510.6L625 508.3L625.3 505.9L625.6 505.6L625.8 507.2L626.1 510.4L626.4 511.2L626.7 507.3L626.9 505L627.2 507.2L627.5 509.8L627.7 509.3L628 505.9L628.3 504.4L628.5 507.9L628.8 510.9L629.1 507.6L629.4 502.5L629.6 503.4L629.9 509.1L630.2 514.1L630.4 516.1L630.7 511.7L631 501.1L631.2 496.3L631.5 500.8L631.8 504.5L632.1 506.7L632.3 511.7L632.6 514L632.9 510.8L633.1 506L633.4 501L633.7 499.9L634 504.1L634.2 506.5L634.5 506L634.8 507.4L635 509.6L635.3 509.9L635.6 510.6L635.8 513.9L636.1 516L636.4 511.4L636.7 501.1L636.9 496.7L637.2 503L637.5 510.2L637.7 512.8L638 510.7L638.3 502.6L638.5 499.6L638.8 509.9L639.1 518L639.4 511.1L639.6 498.5L639.9 491.4L640.2 495.3L640.4 511L640.7 524.1L641 516.6L641.2 495.3L641.5 486.9L641.8 498.7L642.1 508.7L642.3 507.7L642.6 508.1L642.9 509L643.1 500.9L643.4 493L643.7 494.1L643.9 499L644.2 509.1L644.5 519.6L644.8 514.5L645 499L645.3 491.8L645.6 499.7L645.8 514.5L646.1 518.9L646.4 508L646.6 498.8L646.9 501.1L647.2 505.8L647.5 507.2L647.7 506.5L648 505.6L648.3 509L648.5 512.4L648.8 506.4L649.1 498.2L649.3 501.8L649.6 511.2L649.9 513.1L650.2 508.3L650.4 504.5L650.7 504.8L651 506.1L651.2 505.7L651.5 504.6L651.8 504L652 505.2L652.3 506.6L652.6 505.4L652.9 504.7L653.1 506.2L653.4 506.4L653.7 505.4L653.9 503.3L654.2 499.8L654.5 500.2L654.7 507.4L655 513.3L655.3 511.4L655.6 510L655.8 514.7L656.1 515.5L656.4 509.3L656.6 505.9L656.9 505L657.2 500.6L657.4 500.1L657.7 510L658 518.7L658.3 514L658.5 501.4L658.8 496.2L659.1 502.7L659.3 510.6L659.6 511.6L659.9 510.3L660.1 511.5L660.4 509.4L660.7 499.9L661 495.5L661.2 504.5L661.5 513.5L661.8 513.2L662 511L662.3 510.2L662.6 506.9L662.8 504.3L663.1 506.9L663.4 511.3L663.7 511.3L663.9 505.9L664.2 501.2L664.5 501.1L664.7 501.5L665 500.7L665.3 503.5L665.5 510.4L665.8 515.8L666.1 515.7L666.4 510.9L666.6 506.8L666.9 504.8L667.2 502.6L667.4 504.3L667.7 511.6L668 517.1L668.3 516.4L668.5 507.4L668.8 494.8L669.1 497.3L669.3 515.5L669.6 521.6L669.9 508.7L670.1 500.4L670.4 506.4L670.7 512.6L671 508.3L671.2 501.3L671.5 503.5L671.8 511.5L672 513.9L672.3 510.4L672.6 506.7L672.8 502.7L673.1 499.5L673.4 503.6L673.7 512.8L673.9 513.4L674.2 504.7L674.5 501.9L674.7 507.5L675 511L675.3 507.7L675.5 502.7L675.8 504.3L676.1 511.8L676.4 514.6L676.6 509.8L676.9 505.8L677.2 506.1L677.4 507.5L677.7 510.1L678 515.8L678.2 518.6L678.5 511.1L678.8 501.1L679.1 500.3L679.3 507.6L679.6 513.6L679.9 510.8L680.1 505.7L680.4 509L680.7 513.1L680.9 506.5L681.2 498L681.5 498.1L681.8 503.1L682 507.2L682.3 509L682.6 509.2L682.8 510L683.1 511.5L683.4 509.7L683.6 503.7L683.9 500.9L684.2 507.6L684.5 514.9L684.7 511.8L685 504.8L685.3 506.3L685.5 512.6L685.8 512.4L686.1 505.8L686.3 500.9L686.6 502.6L686.9 508.1L687.2 510.3L687.4 508.9L687.7 507.4L688 504L688.2 501.5L688.5 506.4L688.8 512.8L689 511.1L689.3 506.5L689.6 507.2L689.9 509.6L690.1 509.5L690.4 506.5L690.7 499.2L690.9 495.9L691.2 505.3L691.5 513.5L691.7 506.3L692 496.6L692.3 498.1L692.6 503.5L692.8 507L693.1 510.6L693.4 510.4L693.6 504.2L693.9 500.6L694.2 506.8L694.4 513.9L694.7 509.5L695 501L695.3 501.9L695.5 507.8L695.8 507.1L696.1 500.9L696.3 499L696.6 503.7L696.9 507.2L697.1 506L697.4 505.7L697.7 509.3L698 510.5L698.2 505.6L698.5 503.5L698.8 507L699 507.5L699.3 505.9L699.6 506.8L699.9 508.9L700.1 508.6L700.4 502.4L700.7 495.9L700.9 498.8L701.2 505.9L701.5 507.1L701.7 504L702 503.4L702.3 506.7L702.6 509.7L702.8 511.1L703.1 510.8L703.4 506.9L703.6 503.9L703.9 505.4L704.2 505.4L704.4 501.9L704.7 501L705 503.2L705.3 507.3L705.5 513.4L705.8 513.7L706.1 507L706.3 502.9L706.6 502.7L706.9 502.7L707.1 505.7L707.4 510.7L707.7 511.6L708 510.3L708.2 508.6L708.5 506.4L708.8 507.9L709 510L709.3 507.1L709.6 503.6L709.8 503.7L710.1 506.3L710.4 507.6L710.7 506.2L710.9 506.5L711.2 509.6L711.5 510L711.7 505.1L712 499.3L712.3 499.7L712.5 508.7L712.8 514.9L713.1 508.5L713.4 501.2L713.6 505.2L713.9 512.9L714.2 513.8L714.4 509.1L714.7 505.5L715 506.6L715.2 510.3L715.5 514.2L715.8 514.1L716.1 506.6L716.3 499.2L716.6 502.8L716.9 514.6L717.1 519.8L717.4 510.8L717.7 501L717.9 505.6L718.2 513.1L718.5 508.4L718.8 502L719 503.3L719.3 504.9L719.6 504.3L719.8 507.1L720.1 510.9L720.4 509.8L720.6 506.1L720.9 505.1L721.2 505.8L721.5 502.6L721.7 497.5L722 498.4L722.3 507.2L722.5 514.5L722.8 508.1L723.1 495.2L723.3 494.2L723.6 504.8L723.9 512.5L724.2 511L724.4 506.1L724.7 504L725 501.5L725.2 497.4L725.5 499L725.8 506.8L726 510.4L726.3 506.8L726.6 504.5L726.9 507.7L727.1 511.5L727.4 510.9L727.7 504.9L727.9 499.2L728.2 503.9L728.5 514.5L728.7 515.8L729 509L729.3 505.6L729.6 506.6L729.8 507.6L730.1 506.8L730.4 507.1L730.6 509.2L730.9 511.1L731.2 512.5L731.5 511L731.7 504L732 498.8L732.3 499.2L732.5 502.7L732.8 511.1L733.1 516.9L733.3 510.7L733.6 502.7L733.9 502.2L734.2 507L734.4 513.9L734.7 516L735 510.3L735.2 503.9L735.5 499.7L735.8 498.7L736 505.2L736.3 514.4L736.6 515.4L736.9 511.6L737.1 511.6L737.4 512.7L737.7 510.2L737.9 505.4L738.2 501.1L738.5 502.2L738.7 510L739 514.7L739.3 508.5L739.6 499.6L739.8 499.8L740.1 508L740.4 514.6L740.6 512.4L740.9 503.3L741.2 495.2L741.4 498L741.7 511.5L742 517.2L742.3 506.9L742.5 499.7L742.8 503.8L743.1 507.7L743.3 506.9L743.6 504.2L743.9 503.9L744.1 507.5L744.4 508.8L744.7 505.8L745 504.6L745.2 507.5L745.5 511L745.8 509.2L746 501.8L746.3 500.4L746.6 507.6L746.8 510.9L747.1 507.8L747.4 501.9L747.7 496.3L747.9 499.8L748.2 510.8L748.5 515.9L748.7 511.8L749 503.8L749.3 497.5L749.5 499.3L749.8 505.8L750.1 507.7L750.4 507L750.6 509.9L750.9 512L751.2 507.8L751.4 502.2L751.7 500L752 501.1L752.2 507L752.5 513L752.8 510.1L753.1 505.2L753.3 510.3L753.6 519.2L753.9 512.6L754.1 493.1L754.4 487.6L754.7 500.1L754.9 509.6L755.2 511.8L755.5 512.1L755.8 506.4L756 497L756.3 493.4L756.6 495.4L756.8 503.6L757.1 517.4L757.4 519.2L757.6 503.4L757.9 492.4L758.2 498.8L758.5 508.6L758.7 508.2L759 503L759.3 507L759.5 516.1L759.8 514.4L760.1 504.8L760.3 499.2L760.6 496L760.9 495.6L761.2 503.9L761.4 511.9L761.7 511.8L762 512L762.2 514.4L762.5 511.2L762.8 506.4L763.1 507L763.3 507.5L763.6 503.1L763.9 501.7L764.1 506.8L764.4 508.4L764.7 503.7L764.9 503.3L765.2 509.2L765.5 513.3L765.8 513L766 510.8L766.3 507.6L766.6 504.7L766.8 504.5L767.1 505.7L767.4 506.2L767.6 507L767.9 509.3L768.2 511.5L768.5 510.5L768.7 505.8L769 500.7L769.3 497.9L769.5 499.6L769.8 504.8L770.1 508.1L770.3 507.1L770.6 506.3L770.9 509.2L771.2 513.6L771.4 512.5L771.7 507L772 507.3L772.2 512.6L772.5 511L772.8 505L773 501.8L773.3 500.5L773.6 502.9L773.9 507.7L774.1 510.4L774.4 511.7L774.7 511.9L774.9 509.2L775.2 506.1L775.5 506L775.7 509.2L776 511.9L776.3 509.3L776.6 502.9L776.8 500.7L777.1 507.3L777.4 514.3L777.6 511.8L777.9 506.4L778.2 508.9L778.4 514.3L778.7 513L779 508.3L779.3 505.3L779.5 503.8L779.8 504.9L780.1 508.3L780.3 509.1L780.6 507.2L780.9 508.4L781.1 510.9L781.4 508.1L781.7 502.2L782 499.4L782.2 500.8L782.5 506.2L782.8 512.4L783 511.2L783.3 503.4L783.6 502.9L783.8 512L784.1 514.6L784.4 505.1L784.7 497.4L784.9 501.5L785.2 510L785.5 511.8L785.7 507.2L786 502.5L786.3 500.8L786.5 502.3L786.8 505.5L787.1 509.8L787.4 513.4L787.6 513.4L787.9 510.6L788.2 505.4L788.4 500.1L788.7 499.7L789 505.2L789.2 511.7L789.5 514.1L789.8 509.2L790.1 498.4L790.3 492.2L790.6 501.4L790.9 515.3L791.1 515.8L791.4 503.9L791.7 494L791.9 496.7L792.2 507.9L792.5 512.1L792.8 505.7L793 501.4L793.3 503.3L793.6 504.8L793.8 504L794.1 501.8L794.4 497.6L794.6 493.7L794.9 496.6L795.2 505.1L795.5 510.9L795.7 511.6L796 509.8L796.3 508.1L796.5 506.5L796.8 503L797.1 500.9L797.4 505L797.6 511.2L797.9 511.9L798.2 506.4L798.4 500.6L798.7 500.3L799 504.9L799.2 508L799.5 509L799.8 512.1L800.1 513.4L800.3 507.3L800.6 501L800.9 502.5L801.1 508.3L801.4 511.7L801.7 511.5L801.9 508.8L802.2 504.9L802.5 502.6L802.8 505.8L803 512.6L803.3 516.6L803.6 513.8L803.8 505.9L804.1 499.4L804.4 500.8L804.6 509.9L804.9 516.9L805.2 512.9L805.5 503.9L805.7 500.9L806 503.5L806.3 508.9L806.5 512.7L806.8 507.7L807.1 501.7L807.3 508.3L807.6 517.8L807.9 513.1L808.2 501.1L808.4 498.9L808.7 505.3L809 508.2L809.2 506.7L809.5 506.5L809.8 508.4L810 511.9L810.3 513.9L810.6 511.8L810.9 509.3L811.1 505.8L811.4 500.3L811.7 499.7L811.9 507.5L812.2 515.2L812.5 513.7L812.7 506.2L813 502.5L813.3 505.8L813.6 510.6L813.8 510.4L814.1 509.2L814.4 510.6L814.6 506L814.9 498L815.2 501.3L815.4 510L815.7 509.1L816 507.5L816.3 512.4L816.5 508.3L816.8 498.9L817.1 502.7L817.3 510.1L817.6 507.1L817.9 504.2L818.1 506.2L818.4 504.4L818.7 500.3L819 501.3L819.2 506.2L819.5 509.6L819.8 509.1L820 506.2L820.3 503.8L820.6 502.9L820.8 502.6L821.1 503.5L821.4 505.7L821.7 506.5L821.9 506.6L822.2 509.8L822.5 513L822.7 509.9L823 503.5L823.3 502.7L823.5 508.1L823.8 509.9L824.1 504.1L824.4 500.5L824.6 504.6L824.9 510.7L825.2 515L825.4 518L825.7 514.8L826 502.4L826.2 493.6L826.5 500.6L826.8 512.2L827.1 513.4L827.3 508.8L827.6 505.7L827.9 503.8L828.1 503.4L828.4 504.4L828.7 506L829 509.8L829.2 515.4L829.5 515.5L829.8 506.2L830 497.8L830.3 500.9L830.6 510.5L830.8 515.8L831.1 513.6L831.4 506.4L831.7 502L831.9 506.5L832.2 513.6L832.5 515L832.7 508.5L833 498.9L833.3 496.7L833.5 505.1L833.8 515L834.1 516.9L834.4 510L834.6 503.9L834.9 507.4L835.2 514.8L835.4 515.6L835.7 509.5L836 503L836.2 502.9L836.5 509.3L836.8 512.6L837.1 509.2L837.3 508.4L837.6 512.6L837.9 513.5L838.1 509L838.4 506.1L838.7 509.6L838.9 513.5L839.2 509.6L839.5 503.7L839.8 506.1L840 512.6L840.3 512.5L840.6 507.8L840.8 506.9L841.1 509L841.4 507.5L841.6 504.6L841.9 507.8L842.2 514L842.5 513.5L842.7 505.7L843 499.4L843.3 501.2L843.5 509.6L843.8 517.2L844.1 518.1L844.3 514.4L844.6 512.2L844.9 512.4L845.2 509.4L845.4 502.8L845.7 501.8L846 507.7L846.2 509.7L846.5 505.8L846.8 505.4L847 507.3L847.3 504.6L847.6 503.9L847.9 510.3L848.1 513.9L848.4 510.4L848.7 506.1L848.9 502.8L849.2 500.6L849.5 502.2L849.7 506.4L850 509.8L850.3 511.4L850.6 508.9L850.8 502.1L851.1 500.7L851.4 507.2L851.6 513.3L851.9 515.1L852.2 512L852.4 506.1L852.7 504.8L853 508L853.3 508.6L853.5 507.8L853.8 508.7L854.1 507.9L854.3 507.5L854.6 510.1L854.9 510.9L855.1 509.1L855.4 510.3L855.7 515.8L856 518.7L856.2 513.7L856.5 505.4L856.8 502.2L857 506.2L857.3 510.8L857.6 510.5L857.8 508.1L858.1 507.2L858.4 507.6L858.7 509L858.9 509.3L859.2 506.2L859.5 504L859.7 506.3L860 508.9L860.3 509.4L860.6 506.8L860.8 501.3L861.1 499.6L861.4 504L861.6 508.2L861.9 509.1L862.2 510.6L862.4 513.1L862.7 510.1L863 503.2L863.3 501.5L863.5 504.3L863.8 506.9L864.1 507.5L864.3 504.8L864.6 503L864.9 506.2L865.1 511L865.4 512.3L865.7 510.6L866 508.7L866.2 504.8L866.5 499.2L866.8 500.4L867 509.3L867.3 514.3L867.6 507.4L867.8 498.9L868.1 503.2L868.4 513.2L868.7 514.5L868.9 510.6L869.2 509.9L869.5 509.3L869.7 506.6L870 504.9L870.3 505.2L870.5 505.9L870.8 506.7L871.1 509.7L871.4 512L871.6 507.2L871.9 497.7L872.2 496L872.4 504.3L872.7 508L873 503L873.2 501.1L873.5 506.9L873.8 512.8L874.1 514.1L874.3 512.9L874.6 508.8L874.9 503.2L875.1 503.9L875.4 510.4L875.7 510.1L875.9 501.7L876.2 500.7L876.5 508.2L876.8 508.5L877 502.2L877.3 500.1L877.6 504.9L877.8 513.7L878.1 514.3L878.4 502.7L878.6 497.1L878.9 504.7L879.2 509.5L879.5 504.4L879.7 503.5L880 514L880.3 518.8L880.5 507.6L880.8 498.4L881.1 503.7L881.3 508.4L881.6 502.6L881.9 500.8L882.2 508.5L882.4 511.5L882.7 504L883 495.3L883.2 494L883.5 500.6L883.8 508.6L884 511.6L884.3 510.7L884.6 508.4L884.9 503L885.1 497L885.4 497.4L885.7 504.3L885.9 511.8L886.2 513.7L886.5 509.9L886.7 506.9L887 508.6L887.3 511.7L887.6 511.8L887.8 508.3L888.1 505.1L888.4 504.9L888.6 508.6L888.9 514.2L889.2 514.5L889.4 507.9L889.7 503.7L890 507.7L890.3 511.7L890.5 505.7L890.8 496L891.1 495L891.3 502.4L891.6 510.2L891.9 511.8L892.1 506.6L892.4 504L892.7 509L893 513.3L893.2 510.1L893.5 502L893.8 497.3L894 501.1L894.3 508.9L894.6 511.3L894.9 507.4L895.1 504.6L895.4 506.3L895.7 508.7L895.9 509.5L896.2 506.6L896.5 499.2L896.7 497.3L897 506.3L897.3 512.6L897.6 508.2L897.8 502L898.1 500.9L898.4 502.8L898.6 504.2L898.9 505.7L899.2 508.2L899.4 510.2L899.7 509.5L900 507.4L900.3 506.4L900.5 505.4L900.8 504.4L901.1 506.4L901.3 508.7L901.6 508.4L901.9 508.5L902.1 507.5L902.4 502.6L902.7 501.4L903 508.6L903.2 514.5L903.5 512.6L903.8 508.8L904 506.3L904.3 503.7L904.6 503.4L904.8 504.7L905.1 502.2L905.4 499.5L905.7 504.8L905.9 512.9L906.2 513.5L906.5 510.1L906.7 510.2L907 509.7L907.3 504.5L907.5 499.9L907.8 502.1L908.1 507.5L908.4 504.3L908.6 495.5L908.9 496.6L909.2 506.6L909.4 511.5L909.7 507L910 501.9L910.2 504L910.5 506.7L910.8 503.7L911.1 503L911.3 507.4L911.6 511.1L911.9 513.4L912.1 511.3L912.4 504.4L912.7 500.9L912.9 503.1L913.2 504.9L913.5 504.5L913.8 505.4L914 511.4L914.3 519.4L914.6 518.8L914.8 508.6L915.1 499L915.4 497L915.6 503L915.9 511.1L916.2 512.3L916.5 507.6L916.7 503.7L917 502.4L917.3 503.7L917.5 505.1L917.8 504.1L918.1 503.3L918.3 504L918.6 503.3L918.9 500.6L919.2 499.3L919.4 501.5L919.7 504.1L920 504.7L920.2 504.7L920.5 504.3L920.8 504L921 506L921.3 507.1L921.6 504.3L921.9 501.8L922.1 503.9L922.4 508.7L922.7 512.7L922.9 512.3L923.2 507.8L923.5 505.2L923.7 507.9L924 510.6L924.3 507.2L924.6 501.5L924.8 502.7L925.1 508.4L925.4 509.7L925.6 507.3L925.9 504.9L926.2 501.1L926.5 498L926.7 499.9L927 505.5L927.3 509.9L927.5 510.6L927.8 507.1L928.1 503.9L928.3 506.1L928.6 509.2L928.9 508L929.2 505.9L929.4 505.8L929.7 504.6L930 501.4L930.2 502.2L930.5 508.7L930.8 511.5L931 506.4L931.3 502.4L931.6 506.7L931.9 511.4L932.1 506.7L932.4 500.6L932.7 504L932.9 508.3L933.2 504.7L933.5 503.8L933.7 512.2L934 514.4L934.3 503.5L934.6 497.7L934.8 505.4L935.1 511.1L935.4 507.6L935.6 506.8L935.9 513.7L936.2 516.6L936.4 510.4L936.7 504.5L937 504.4L937.3 507.6L937.5 508L937.8 502L938.1 499.3L938.3 509.1L938.6 517L938.9 510L939.1 500.6L939.4 501.5L939.7 509.7L940 517.2L940.2 516.3L940.5 509.8L940.8 509.3L941 515.6L941.3 516.5L941.6 506.3L941.8 495.3L942.1 496.3L942.4 504.6L942.7 508L942.9 508.5L943.2 509.7L943.5 507.5L943.7 505.4L944 509.1L944.3 512.7L944.5 511.3L944.8 507.2L945.1 503.1L945.4 502.7L945.6 506.2L945.9 507.2L946.2 503.6L946.4 500.7L946.7 503.8L947 513.5L947.2 519.4L947.5 514.1L947.8 506.9L948.1 503.9L948.3 501.8L948.6 502L948.9 504.7L949.1 506.2L949.4 508.7L949.7 512.1L949.9 511.5L950.2 511.5L950.5 514.6L950.8 510.9L951 499.9L951.3 496L951.6 504L951.8 514.5L952.1 517.7L952.4 509.1L952.6 497.8L952.9 496.8L953.2 504.2L953.5 510.9L953.7 511.5L954 505.1L954.3 502.6L954.5 512.4L954.8 517.9L955.1 509.7L955.3 504.4L955.6 506L955.9 504.1L956.2 504L956.4 513.7L956.7 520.8L957 515.3L957.2 507.2L957.5 505L957.8 507L958.1 509.8L958.3 510.3L958.6 508.1L958.9 503.2L959.1 500.1L959.4 507.8L959.7 517.1L959.9 512.5L960.2 503L960.5 501.5L960.8 502.2L961 497.4L961.3 492.3L961.6 498.8L961.8 515.1L962.1 521.2L962.4 510.5L962.6 499.5L962.9 496.1L963.2 497.2L963.5 502L963.7 504.3L964 500.5L964.3 502L964.5 510.1L964.8 509.4L965.1 498.9L965.3 492.7L965.6 496.6L965.9 505.2L966.2 511.5L966.4 513.2L966.7 507.5L967 495.9L967.2 493.7L967.5 508.5L967.8 521.8L968 514.6L968.3 499.4L968.6 498.5L968.9 508L969.1 513.5L969.4 512.3L969.7 507.5L969.9 502.9L970.2 502.3L970.5 503.5L970.7 505.6L971 508L971.3 507.3L971.6 507L971.8 511.7L972.1 516.7L972.4 514.6L972.6 507.4L972.9 503.4L973.2 504.7L973.4 505.3L973.7 502.5L974 500.8L974.3 502.7L974.5 505.4L974.8 507L975.1 506.9L975.3 506.1L975.6 506.5L975.9 505.2L976.1 503.3L976.4 507.7L976.7 513.4L977 510.4L977.2 501.8L977.5 499.9L977.8 507.8L978 511.4L978.3 504.4L978.6 499.7L978.8 501.1L979.1 500.1L979.4 499.4L979.7 505.1L979.9 511.4L980.2 509.6L980.5 503.9L980.7 502.4L981 504.2L981.3 506.3L981.5 505.1L981.8 500.7L982.1 502.2L982.4 508.4L982.6 508.6L982.9 505.8L983.2 507.3L983.4 508.7L983.7 508.5L984 510.5L984.2 510.9L984.5 506.6L984.8 503L985.1 504.9L985.3 509.2L985.6 508.9L985.9 505.5L986.1 506.2L986.4 509.7L986.7 510.7L986.9 509.8L987.2 508L987.5 506.3L987.8 506L988 507.2L988.3 507.5L988.6 503.6L988.8 497.8L989.1 498L989.4 504.9L989.6 510.7L989.9 510.5L990.2 505.4L990.5 501.7L990.7 503.4L991 506.5L991.3 508.1L991.5 510.1L991.8 513.3L992.1 514.9L992.4 513.2L992.6 512.7L992.9 511.8L993.2 503.7L993.4 495.6L993.7 495.5L994 499L994.2 504.5L994.5 511.1L994.8 512.5L995.1 510.5L995.3 512.5L995.6 514.9L995.9 509.6L996.1 501.9L996.4 504.1L996.7 512.6L996.9 514L997.2 507.8L997.5 501.3L997.8 499L998 501L998.3 505.3L998.6 509.8L998.8 512.4L999.1 509.8L999.4 505.1L999.6 508.6L999.9 517.5L1000.2 515.9L1000.5 503.3L1000.7 497.7L1001 506.6L1001.3 513.2L1001.5 507.5L1001.8 502L1002.1 502.6L1002.3 502.3L1002.6 502.9L1002.9 511L1003.2 520.9L1003.4 519.8L1003.7 508.7L1004 500.7L1004.2 498.6L1004.5 495.2L1004.8 494.8L1005 502.8L1005.3 509.1L1005.6 511.6L1005.9 516.1L1006.1 517.4L1006.4 514.4L1006.7 513.5L1006.9 510.7L1007.2 500.3L1007.5 488.8L1007.7 488.5L1008 503.1L1008.3 519.3L1008.6 523.9L1008.8 521.2L1009.1 519.9L1009.4 517.9L1009.6 511.1L1009.9 502.9L1010.2 500.4L1010.4 501.8L1010.7 499.5L1011 493.8L1011.3 495.7L1011.5 508.7L1011.8 518L1012.1 518.3L1012.3 519.5L1012.6 516.2L1012.9 505.6L1013.1 505.1L1013.4 512.5L1013.7 508.6L1014 499.2L1014.2 498.8L1014.5 502.9L1014.8 506.3L1015 508.7L1015.3 507.1L1015.6 506.5L1015.8 511L1016.1 511.2L1016.4 506.3L1016.7 508.3L1016.9 514.1L1017.2 510.7L1017.5 502.7L1017.7 503.6L1018 507.8L1018.3 503.7L1018.5 499.6L1018.8 507L1019.1 516.9L1019.4 518.1L1019.6 516.5L1019.9 516.2L1020.2 511.6L1020.4 503.6L1020.7 498.7L1021 498.7L1021.2 501.2L1021.5 502.9L1021.8 505.1L1022.1 510.2L1022.3 513.3L1022.6 512.5L1022.9 509.1L1023.1 503.3L1023.4 500.6L1023.7 507.1L1024 516L1024.2 512L1024.5 497.4L1024.8 496.9L1025 513.7L1025.3 522.3L1025.6 517L1025.8 513.1L1026.1 514.3L1026.4 513.7L1026.7 510.8L1026.9 510.7L1027.2 512.3L1027.5 505.6L1027.7 491.5L1028 487.7L1028.3 501.3L1028.5 518.1L1028.8 525L1029.1 519.8L1029.4 505.6L1029.6 496.1L1029.9 501.7L1030.2 508.9L1030.4 506L1030.7 507.3L1031 519.2L1031.2 520.6L1031.5 505.9L1031.8 496.5L1032.1 496.2L1032.3 490.2L1032.6 481.4L1032.9 484.1L1033.1 499L1033.4 514.2L1033.7 520L1033.9 520.5L1034.2 525.1L1034.5 525.7L1034.8 509.1L1035 491.3L1035.3 493.1L1035.6 503L1035.8 504.3L1036.1 503L1036.4 508.1L1036.6 513.5L1036.9 510.5L1037.2 504.1L1037.5 502L1037.7 503.5L1038 502.5L1038.3 499L1038.5 502.7L1038.8 512.2L1039.1 515.8L1039.3 515.4L1039.6 513.1L1039.9 501.4L1040.2 492.7L1040.4 505.1L1040.7 522L1041 518.7L1041.2 505.6L1041.5 501.9L1041.8 501.4L1042 498.6L1042.3 502.8L1042.6 513.6L1042.9 516.2L1043.1 509.7L1043.4 510.5L1043.7 521.2L1043.9 528.8L1044.2 520.5L1044.5 499.6L1044.7 493.2L1045 505.1L1045.3 504.6L1045.6 492.3L1045.8 497.1L1046.1 511L1046.4 509.8L1046.6 504.2L1046.9 510.2L1047.2 509.8L1047.4 494.3L1047.7 491.7L1048 508.4L1048.3 516.4L1048.5 513.4L1048.8 517.1L1049.1 519.9L1049.3 506.8L1049.6 493.2L1049.9 501.5L1050.1 518.3L1050.4 517.4L1050.7 506L1051 499.6L1051.2 492.2L1051.5 486.8L1051.8 493.9L1052 508.2L1052.3 521.3L1052.6 526.6L1052.8 514L1053.1 491.3L1053.4 493L1053.7 521.2L1053.9 529.2L1054.2 507.4L1054.5 497L1054.7 502.6L1055 500.4L1055.3 499.4L1055.6 509.1L1055.8 509.9L1056.1 498.9L1056.4 499.2L1056.6 510.5L1056.9 511.7L1057.2 510L1057.4 520.2L1057.7 527L1058 518.5L1058.3 508.3L1058.5 502.6L1058.8 497.5L1059.1 501.6L1059.3 516.3L1059.6 526.1L1059.9 529.1L1060.1 524.9L1060.4 502.3L1060.7 476.9L1061 472.7L1061.2 482.9L1061.5 500.6L1061.8 518.4L1062 511.8L1062.3 492.6L1062.6 497.3L1062.8 516.1L1063.1 519.8L1063.4 512.6L1063.7 513.7L1063.9 522L1064.2 518L1064.5 503.5L1064.7 497.3L1065 494.7L1065.3 483.9L1065.5 472.8L1065.8 468.8L1066.1 476L1066.4 502L1066.6 536.2L1066.9 547.2L1067.2 525.5L1067.4 504.8L1067.7 514L1068 529.2L1068.2 514.2L1068.5 474.9L1068.8 438.9L1069.1 423.6L1069.3 441.1L1069.6 481.8L1069.9 507.8L1070.1 504L1070.4 497.2L1070.7 501.9L1070.9 507L1071.2 522.3L1071.5 555.5L1071.8 570L1072 550.1L1072.3 533.8L1072.6 533.5L1072.8 534.9L1073.1 541L1073.4 533.3L1073.6 491.4L1073.9 449L1074.2 449.5L1074.5 486.3L1074.7 514.6L1075 505.3L1075.3 484.5L1075.5 485.3L1075.8 498.2L1076.1 514.7L1076.3 537.2L1076.6 543.8L1076.9 528.2L1077.2 515.5L1077.4 509.4L1077.7 497.6L1078 492.1L1078.2 503.3L1078.5 508.4L1078.8 495.6L1079 493.3L1079.3 509.4L1079.6 507.9L1079.9 480.1L1080.1 465.1L1080.4 482.1L1080.7 515.1L1080.9 550.9L1081.2 566.1L1081.5 540.2L1081.7 513.3L1082 526.8L1082.3 539.4L1082.6 509L1082.8 473.2L1083.1 467.1L1083.4 475.6L1083.6 491L1083.9 511.5L1084.2 523.3L1084.4 521.6L1084.7 512.7L1085 507L1085.3 504.1L1085.5 500.7L1085.8 506.8L1086.1 509.5L1086.3 494.9L1086.6 495L1086.9 519.3L1087.2 525.7L1087.4 503.9L1087.7 490.4L1088 500.2L1088.2 514.8L1088.5 518.5L1088.8 513.9L1089 510.7L1089.3 505.9L1089.6 494.7L1089.9 487.8L1090.1 498.7L1090.4 514.5L1090.7 508.3L1090.9 497.5L1091.2 521.7L1091.5 549.2L1091.7 525.1L1092 487.3L1092.3 495.2L1092.6 520.9L1092.8 523L1093.1 520.6L1093.4 526.2L1093.6 516.7L1093.9 494L1094.2 478.2L1094.4 466.9L1094.7 461.2L1095 471.3L1095.3 489.7L1095.5 506.7L1095.8 527.1L1096.1 553L1096.3 571.4L1096.6 563L1096.9 526.6L1097.1 482L1097.4 450.1L1097.7 436.9L1098 445L1098.2 488L1098.5 548.9L1098.8 572L1099 547.3L1099.3 535.3L1099.6 557.8L1099.8 557.9L1100.1 518.1L1100.4 481.6L1100.7 457.8L1100.9 452.5L1101.2 489L1101.5 526.7L1101.7 487.2L1102 392.9L1102.3 348.3L1102.5 399.1L1102.8 491.2L1103.1 535.6L1103.4 527.6L1103.6 545.8L1103.9 593.8L1104.2 590.9L1104.4 532.8L1104.7 491L1105 473.8L1105.2 444.9L1105.5 412.7L1105.8 411.7L1106.1 449.3L1106.3 495L1106.6 526.2L1106.9 566.3L1107.1 608.3L1107.4 590.9L1107.7 532.6L1107.9 510.7L1108.2 517L1108.5 509.1L1108.8 488.7L1109 462.9L1109.3 433.8L1109.6 419.6L1109.8 435.2L1110.1 461.3L1110.4 480.5L1110.6 499.4L1110.9 519.3L1111.2 540.1L1111.5 552.3L1111.7 525.3L1112 474.7L1112.3 459.7L1112.5 480.4L1112.8 488.5L1113.1 476.2L1113.3 483.8L1113.6 532.8L1113.9 564.3L1114.2 535L1114.4 512.7L1114.7 546.2L1115 577.4L1115.2 547.5L1115.5 465L1115.8 385.6L1116 368.3L1116.3 408.3L1116.6 443.4L1116.9 479.8L1117.1 556.1L1117.4 627.4L1117.7 636.2L1117.9 610.7L1118.2 596.5L1118.5 571L1118.7 492.4L1119 399.7L1119.3 380.4L1119.6 441.7L1119.8 498.8L1120.1 505.5L1120.4 506.1L1120.6 526.9L1120.9 521.3L1121.2 477.3L1121.5 470.2L1121.7 528.1L1122 568.2L1122.3 549.9L1122.5 524.7L1122.8 507.8L1123.1 471.6L1123.3 439.4L1123.6 443.6L1123.9 461.5L1124.2 476.7L1124.4 503.2L1124.7 531.8L1125 538L1125.2 529.5L1125.5 524L1125.8 517.5L1126 513.8L1126.3 513.5L1126.6 491.7L1126.9 467L1127.1 485.6L1127.4 519.6L1127.7 527.5L1127.9 529.6L1128.2 531.3L1128.5 503.8L1128.7 467.2L1129 472.5L1129.3 512.4L1129.6 536.1L1129.8 520.3L1130.1 499L1130.4 508.7L1130.6 524.5L1130.9 507.3L1131.2 473.3L1131.4 460.8L1131.7 480L1132 514.6L1132.3 535.3L1132.5 528.6L1132.8 514.4L1133.1 514.3L1133.3 519L1133.6 511.2L1133.9 494.6L1134.1 478.3L1134.4 473.2L1134.7 490.6L1135 512.6L1135.2 514.2L1135.5 516.1L1135.8 541.2L1136 553.4L1136.3 524L1136.6 498.7L1136.8 495.1L1137.1 470.1L1137.4 445.3L1137.7 466.9L1137.9 501.8L1138.2 516.7L1138.5 528.5L1138.7 548.3L1139 559.6L1139.3 540.1L1139.5 499.4L1139.8 471.9L1140.1 464.6L1140.4 469.1L1140.6 499.9L1140.9 544.7L1141.2 551.2L1141.4 517.4L1141.7 494.4L1142 498.1L1142.2 506.3L1142.5 504.7L1142.8 491.6L1143.1 478.6L1143.3 484.3L1143.6 499.4L1143.9 482.6L1144.1 429.4L1144.4 399.8L1144.7 427.1L1144.9 468.8L1145.2 491L1145.5 503.4L1145.8 512.3L1146 531.8L1146.3 583L1146.6 619.5L1146.8 581.8L1147.1 516.2L1147.4 490L1147.6 480.7L1147.9 458.1L1148.2 426.4L1148.5 405.8L1148.7 428.3L1149 469.3L1149.3 479L1149.5 494.4L1149.8 545L1150.1 574.2L1150.3 561L1150.6 543.3L1150.9 524.6L1151.2 492.1L1151.4 461.7L1151.7 451.7L1152 459.7L1152.2 481.6L1152.5 522.1L1152.8 558.7L1153.1 553.3L1153.3 522.3L1153.6 509.6L1153.9 514.2L1154.1 508.1L1154.4 490.8L1154.7 469.8L1154.9 449.8L1155.2 473.7L1155.5 548.9L1155.8 589.8L1156 556.7L1156.3 511.8L1156.6 496.5L1156.8 489.7L1157.1 479.7L1157.4 478.1L1157.6 481.6L1157.9 485.2L1158.2 492.2L1158.5 502.3L1158.7 513.6L1159 516.6L1159.3 506.6L1159.5 506.7L1159.8 531.3L1160.1 548.8L1160.3 530.1L1160.6 500.5L1160.9 490.9L1161.2 492L1161.4 488.6L1161.7 481.2L1162 474.5L1162.2 473.5L1162.5 487.6L1162.8 523.3L1163 556.6L1163.3 549.4L1163.6 514.9L1163.9 504.3L1164.1 525.6L1164.4 539.5L1164.7 522.2L1164.9 490.9L1165.2 473.1L1165.5 468.4L1165.7 469.8L1166 499.4L1166.3 553.1L1166.6 578L1166.8 562.1L1167.1 544L1167.4 532.2L1167.6 508.8L1167.9 484.6L1168.2 485.5L1168.4 511.9L1168.7 544L1169 563.4L1169.3 557.1L1169.5 535.9L1169.8 524.9L1170.1 508.7L1170.3 469.7L1170.6 438.7L1170.9 433.5L1171.1 446.3L1171.4 474.5L1171.7 505.5L1172 526.2L1172.2 536.3L1172.5 544.2L1172.8 548.8L1173 537.3L1173.3 529.3L1173.6 538.1L1173.8 523.4L1174.1 477.4L1174.4 458.1L1174.7 471.3L1174.9 456.8L1175.2 435.4L1175.5 479.5L1175.7 547.2L1176 557.6L1176.3 537.5L1176.5 529.4L1176.8 511.8L1177.1 476.3L1177.4 456.4L1177.6 478.8L1177.9 537.3L1178.2 593L1178.4 605.7L1178.7 568.9L1179 518.9L1179.2 495.1L1179.5 488.9L1179.8 474.7L1180.1 469.3L1180.3 492.3L1180.6 508.8L1180.9 496.5L1181.1 495.7L1181.4 528.4L1181.7 558.9L1181.9 548.9L1182.2 508.6L1182.5 483.9L1182.8 489.5L1183 501.6L1183.3 510.8L1183.6 516.6L1183.8 509.9L1184.1 499.1L1184.4 492.4L1184.7 489.9L1184.9 506.1L1185.2 532L1185.5 539.3L1185.7 525.1L1186 500.9L1186.3 481.9L1186.5 474.2L1186.8 474L1187.1 486.2L1187.4 503.2L1187.6 510.2L1187.9 516.4L1188.2 530.5L1188.4 536.7L1188.7 522.9L1189 503.6L1189.2 500.4L1189.5 510.2L1189.8 509.4L1190.1 488.1L1190.3 469.8L1190.6 483.3L1190.9 511.2L1191.1 514.7L1191.4 506.2L1191.7 520.8L1191.9 543.8L1192.2 540.2L1192.5 510.4L1192.8 483.3L1193 483.6L1193.3 500.3L1193.6 505.2L1193.8 497.1L1194.1 496L1194.4 508.7L1194.6 517.2L1194.9 513L1195.2 505.5L1195.5 496.2L1195.7 485.3L1196 481.4L1196.3 488.8L1196.5 504.5L1196.8 521.3L1197.1 525.3L1197.3 525.3L1197.6 543.1L1197.9 567.3L1198.2 578L1198.4 562.7L1198.7 512.5L1199 461.8L1199.2 457.1L1199.5 486.3L1199.8 503.5L1200 503.4L1200.3 516.4L1200.6 528.5L1200.9 508.8L1201.1 487.6L1201.4 493.9L1201.7 508.8L1201.9 525.2L1202.2 540.8L1202.5 531.1L1202.7 501.3L1203 483.7L1203.3 487.6L1203.6 505.7L1203.8 529L1204.1 543.2L1204.4 531.4L1204.6 492.7L1204.9 456.6L1205.2 439.4L1205.4 422.4L1205.7 413.2L1206 439.3L1206.3 485.8L1206.5 524.2L1206.8 568.9L1207.1 618.9L1207.3 615L1207.6 559.6L1207.9 524.2L1208.1 509.4L1208.4 477.6L1208.7 444.4L1209 441.4L1209.2 476.2L1209.5 523.5L1209.8 556.9L1210 579.1L1210.3 588.5L1210.6 588.9L1210.8 582.6L1211.1 530.2L1211.4 445.9L1211.7 409.8L1211.9 416.1L1212.2 418.5L1212.5 449.5L1212.7 526L1213 590.4L1213.3 601.7L1213.5 583.8L1213.8 566.2L1214.1 534.5L1214.4 479.9L1214.6 439.4L1214.9 440.9L1215.2 468.3L1215.4 494.5L1215.7 510.5L1216 522.9L1216.2 543.4L1216.5 562.5L1216.8 552.6L1217.1 509.6L1217.3 467.3L1217.6 462.7L1217.9 477L1218.1 467L1218.4 458.5L1218.7 495.8L1219 543.3L1219.2 559.1L1219.5 565.1L1219.8 571.3L1220 549.5L1220.3 509.5L1220.6 481.7L1220.8 452.4L1221.1 417.7L1221.4 424.5L1221.7 482.8L1221.9 542.5L1222.2 583.3L1222.5 598.2L1222.7 563.8L1223 519.4L1223.3 517.4L1223.5 520.7L1223.8 486.1L1224.1 434.2L1224.4 388.5L1224.6 370.1L1224.9 417.6L1225.2 505.4L1225.4 551.2L1225.7 555.1L1226 588.6L1226.2 641.3L1226.5 633.4L1226.8 556.7L1227.1 491.8L1227.3 464.6L1227.6 437.3L1227.9 435.5L1228.1 479.9L1228.4 508.4L1228.7 499.8L1228.9 507.6L1229.2 551.9L1229.5 592.4L1229.8 583.3L1230 528.3L1230.3 476.4L1230.6 456.6L1230.8 461.5L1231.1 482.1L1231.4 500.8L1231.6 496.3L1231.9 497.9L1232.2 534.7L1232.5 555.9L1232.7 532.3L1233 515.3L1233.3 520L1233.5 501L1233.8 446.8L1234.1 409.6L1234.3 420.4L1234.6 434.8L1234.9 419.2L1235.2 415.6L1235.4 461.9L1235.7 523.4L1236 557.4L1236.2 562.4L1236.5 550.5L1236.8 534.3L1237 511.2L1237.3 475.3L1237.6 448.7L1237.9 455.9L1238.1 472.7L1238.4 473.2L1238.7 505.4L1238.9 580.2L1239.2 613.6L1239.5 585.8L1239.7 547.1L1240 514L1240.3 481.4L1240.6 446.1L1240.8 431.2L1241.1 458L1241.4 492.9L1241.6 524.3L1241.9 566.7L1242.2 578.3L1242.4 546L1242.7 521L1243 505.1L1243.3 477.4L1243.5 467.3L1243.8 497.6L1244.1 532.2L1244.3 531.2L1244.6 514.1L1244.9 502.2L1245.1 459L1245.4 388.1L1245.7 372L1246 428L1246.2 491.2L1246.5 540.3L1246.8 586L1247 609.6L1247.3 583.2L1247.6 527.7L1247.8 493.2L1248.1 472.1L1248.4 430.1L1248.7 406.4L1248.9 448L1249.2 515.9L1249.5 546.5L1249.7 522.6L1250 492.7L1250.3 521.6L1250.6 581.6L1250.8 597.3L1251.1 562.9L1251.4 511.8L1251.6 467.8L1251.9 445.5L1252.2 443.4L1252.4 455.7L1252.7 474.8L1253 489L1253.3 501.6L1253.5 520.3L1253.8 550.8L1254.1 578.3L1254.3 562L1254.6 502.9L1254.9 464.3L1255.1 482L1255.4 520.2L1255.7 527.2L1256 480.3L1256.2 423.6L1256.5 429L1256.8 481.1L1257 513.3L1257.3 512.8L1257.6 494.5L1257.8 475.2L1258.1 480L1258.4 496.7L1258.7 503.4L1258.9 525L1259.2 554.8L1259.5 533.5L1259.7 482.2L1260 494.7L1260.3 553L1260.5 547.5L1260.8 487.1L1261.1 468.5L1261.4 501.2L1261.6 525.1L1261.9 513.5L1262.2 496.7L1262.4 507.7L1262.7 522.7L1263 504.4L1263.2 458.5L1263.5 415.3L1263.8 398.9L1264.1 422.6L1264.3 500.9L1264.6 609.3L1264.9 655.2L1265.1 595.3L1265.4 507.9L1265.7 472.9L1265.9 491.9L1266.2 526L1266.5 527.7L1266.8 494.3L1267 467.9L1267.3 473.1L1267.6 511.5L1267.8 548L1268.1 519.4L1268.4 449.1L1268.6 446.5L1268.9 523.8L1269.2 570.9L1269.5 553.4L1269.7 530.4L1270 516.2L1270.3 497.4L1270.5 468.2L1270.8 427L1271.1 411.7L1271.3 441.6L1271.6 473.6L1271.9 483.6L1272.2 485.8L1272.4 486.9L1272.7 498.7L1273 531.6L1273.2 552L1273.5 524.4L1273.8 480.2L1274 465.9L1274.3 480.1L1274.6 513.2L1274.9 546.7L1275.1 540L1275.4 501.5L1275.7 483.3L1275.9 506.3L1276.2 545.1L1276.5 554.6L1276.7 514.3L1277 463.1L1277.3 455.8L1277.6 472.5L1277.8 467.8L1278.1 477.6L1278.4 523.9L1278.6 547L1278.9 533.5L1279.2 535.4L1279.4 554.5L1279.7 543.1L1280 494L1280.3 446.6L1280.5 435.4L1280.8 471.6L1281.1 520.8L1281.3 539.8L1281.6 537.5L1281.9 520.7L1282.2 490L1282.4 484.2L1282.7 502.5L1283 496.8L1283.2 470.3L1283.5 465.4L1283.8 498.7L1284 543.5L1284.3 559.7L1284.6 538.5L1284.9 510.1L1285.1 509.5L1285.4 524.2L1285.7 519L1285.9 509L1286.2 509.9L1286.5 494.3L1286.7 469.7L1287 467.4L1287.3 468.4L1287.6 463.8L1287.8 497.7L1288.1 558.9L1288.4 570.5L1288.6 530.3L1288.9 501.9L1289.2 508.4L1289.4 528.8L1289.7 542L1290 540.8L1290.3 509.4L1290.5 445.7L1290.8 419.6L1291.1 484.5L1291.3 567.9L1291.6 580.2L1291.9 541L1292.1 520.9L1292.4 534.1L1292.7 527.8L1293 481.6L1293.2 447.5L1293.5 458.8L1293.8 482.4L1294 486.9L1294.3 493.6L1294.6 525.9L1294.8 563.5L1295.1 587.5L1295.4 593.8L1295.7 545.1L1295.9 443.2L1296.2 391.3L1296.5 429.8L1296.7 464.8L1297 461.5L1297.3 471.6L1297.5 496L1297.8 515.6L1298.1 529.1L1298.4 516.8L1298.6 490.8L1298.9 506.2L1299.2 567L1299.4 601.7L1299.7 572.9L1300 545.3L1300.2 538.5L1300.5 486.1L1300.8 425.3L1301.1 432.6L1301.3 450.1L1301.6 437.3L1301.9 459.6L1302.1 518.1L1302.4 541.6L1302.7 537.1L1302.9 557L1303.2 580.4L1303.5 571L1303.8 554.6L1304 540.9L1304.3 502.7L1304.6 456L1304.8 444.8L1305.1 464.7L1305.4 472.5L1305.6 472.4L1305.9 515.2L1306.2 589L1306.5 619.5L1306.7 587.4L1307 539L1307.3 503.5L1307.5 473.2L1307.8 459.6L1308.1 482.7L1308.3 506.1L1308.6 504L1308.9 513.8L1309.2 533.5L1309.4 538.1L1309.7 556.5L1310 595.3L1310.2 609.6L1310.5 576.7L1310.8 536.3L1311 535.1L1311.3 527.1L1311.6 452.1L1311.9 388L1312.1 424.1L1312.4 497.1L1312.7 527.5L1312.9 531.1L1313.2 528.1L1313.5 522.4" stroke="#000" stroke-width="1.05" stroke-linejoin="miter" stroke-miterlimit="3"/>
<path d="M341.4 510.3L342 510.2L342.5 509.9L343.1 509.6L343.6 509.5L344.2 509.3L344.7 509.2L345.2 508.9L345.8 508.6L346.3 508.4L346.9 508.3L347.4 508.1L347.9 507.7L348.5 507.4L349 507.1L349.6 506.9L350.1 506.9L350.6 506.8L351.2 506.7L351.7 506.5L352.3 506.3L352.8 506L353.3 505.8L353.9 505.7L354.4 505.6L355 505.7L355.5 505.8L356 505.7L356.6 505.5L357.1 505.1L357.7 504.8L358.2 504.7L358.7 504.7L359.3 504.9L359.8 505.4L360.4 505.9L360.9 506.2L361.4 506.3L362 506.2L362.5 505.9L363.1 505.8L363.6 505.8L364.1 505.8L364.7 506L365.2 506.3L365.8 506.6L366.3 507.1L366.8 507.5L367.4 507.7L367.9 507.9L368.5 507.9L369 507.8L369.5 507.7L370.1 507.6L370.6 507.7L371.2 507.8L371.7 508L372.2 508.2L372.8 508.3L373.3 508.4L373.9 508.5L374.4 508.8L374.9 509L375.5 509L376 508.9L376.6 508.9L377.1 508.9L377.6 509L378.2 509L378.7 508.9L379.3 508.6L379.8 508.2L380.3 507.8L380.9 507.4L381.4 507.2L382 507.2L382.5 507.4L383 507.5L383.6 507.7L384.1 508L384.7 508.2L385.2 508.3L385.7 508.3L386.3 508L386.8 507.6L387.4 507.2L387.9 506.9L388.4 506.6L389 506.4L389.5 506.1L390.1 505.8L390.6 505.7L391.1 505.9L391.7 506.4L392.2 506.9L392.8 507.1L393.3 507.1L393.8 506.8L394.4 506.5L394.9 506.1L395.5 505.5L396 504.7L396.5 504.1L397.1 503.7L397.6 503.7L398.2 504.2L398.7 504.8L399.2 505.5L399.8 506L400.3 506.2L400.9 506L401.4 505.7L401.9 505.4L402.5 505.3L403 505.4L403.6 505.5L404.1 505.6L404.6 505.8L405.2 506.1L405.7 506.4L406.3 506.7L406.8 506.8L407.4 506.7L407.9 506.5L408.4 506.2L409 506.1L409.5 506L410.1 506L410.6 506.2L411.1 506.5L411.7 506.9L412.2 507.2L412.8 507.3L413.3 507.3L413.8 507.2L414.4 507L414.9 506.9L415.5 506.8L416 506.9L416.5 506.9L417.1 507L417.6 507.1L418.2 507L418.7 506.9L419.2 506.7L419.8 506.6L420.3 506.5L420.9 506.4L421.4 506.4L421.9 506.3L422.5 506.2L423 506L423.6 505.7L424.1 505.4L424.6 505.3L425.2 505.4L425.7 505.7L426.3 506.1L426.8 506.5L427.3 506.6L427.9 506.5L428.4 506.2L429 505.8L429.5 505.4L430 505L430.6 504.8L431.1 504.8L431.7 504.8L432.2 505L432.7 505.2L433.3 505.7L433.8 506.4L434.4 507.2L434.9 507.9L435.4 508.4L436 508.4L436.5 508.1L437.1 507.5L437.6 506.8L438.1 506.1L438.7 505.5L439.2 505.2L439.8 505L440.3 504.8L440.8 504.5L441.4 504L441.9 503.8L442.5 503.9L443 504.6L443.5 505.6L444.1 506.8L444.6 507.7L445.2 508.2L445.7 508.2L446.2 507.8L446.8 507.2L447.3 506.4L447.9 505.6L448.4 505L448.9 504.6L449.5 504.4L450 504.4L450.6 504.3L451.1 504.1L451.6 503.9L452.2 503.8L452.7 503.8L453.3 504.2L453.8 504.9L454.3 505.5L454.9 506.1L455.4 506.7L456 507.2L456.5 507.9L457 508.6L457.6 509.3L458.1 509.9L458.7 510.3L459.2 510.4L459.7 510.4L460.3 510.1L460.8 509.8L461.4 509.7L461.9 509.6L462.4 509.7L463 509.5L463.5 508.9L464.1 508L464.6 506.9L465.1 506L465.7 505.3L466.2 505L466.8 504.9L467.3 505.1L467.8 505.5L468.4 506L468.9 506.5L469.5 506.9L470 507.3L470.5 507.5L471.1 507.6L471.6 507.4L472.2 507.2L472.7 506.9L473.3 506.7L473.8 506.6L474.3 506.6L474.9 506.9L475.4 507.3L476 507.9L476.5 508.5L477 508.9L477.6 509L478.1 508.8L478.7 508.6L479.2 508.6L479.7 508.7L480.3 508.7L480.8 508.5L481.4 508.2L481.9 507.8L482.4 507.5L483 507.1L483.5 506.6L484.1 506.1L484.6 505.8L485.1 505.9L485.7 506.2L486.2 506.7L486.8 507.2L487.3 507.6L487.8 507.7L488.4 507.7L488.9 507.6L489.5 507.5L490 507.2L490.5 506.7L491.1 506L491.6 505.5L492.2 505.3L492.7 505.5L493.2 505.7L493.8 505.9L494.3 506L494.9 506L495.4 506.1L495.9 506.2L496.5 506.4L497 506.5L497.6 506.7L498.1 506.8L498.6 506.9L499.2 507.3L499.7 507.9L500.3 508.4L500.8 508.7L501.3 508.7L501.9 508.5L502.4 508.2L503 508L503.5 507.9L504 507.7L504.6 507.4L505.1 507.3L505.7 507.4L506.2 507.8L506.7 508.3L507.3 508.5L507.8 508.3L508.4 507.9L508.9 507.3L509.4 506.9L510 506.6L510.5 506.4L511.1 506.4L511.6 506.5L512.1 506.8L512.7 507L513.2 507.1L513.8 506.9L514.3 506.6L514.8 506.4L515.4 506.4L515.9 506.4L516.5 506.4L517 506.3L517.5 506.2L518.1 506.1L518.6 506.1L519.2 506.1L519.7 506L520.2 506L520.8 506L521.3 505.9L521.9 505.8L522.4 505.8L522.9 505.9L523.5 505.9L524 505.9L524.6 505.8L525.1 505.7L525.6 505.6L526.2 505.6L526.7 505.7L527.3 506L527.8 506.5L528.3 506.9L528.9 507.2L529.4 507.3L530 507.4L530.5 507.5L531 507.6L531.6 507.6L532.1 507.5L532.7 507.3L533.2 507.1L533.7 506.8L534.3 506.5L534.8 506L535.4 505.5L535.9 505L536.5 504.6L537 504.3L537.5 504.3L538.1 504.5L538.6 504.9L539.2 505.5L539.7 506.1L540.2 506.8L540.8 507.4L541.3 508L541.9 508.4L542.4 508.3L542.9 507.9L543.5 507.2L544 506.7L544.6 506.4L545.1 506.4L545.6 506.3L546.2 506.3L546.7 506.1L547.3 505.9L547.8 505.6L548.3 505.2L548.9 504.9L549.4 504.7L550 505L550.5 505.4L551 505.9L551.6 506.2L552.1 506.3L552.7 506.3L553.2 506.2L553.7 506.1L554.3 505.9L554.8 505.6L555.4 505.3L555.9 505L556.4 504.8L557 504.9L557.5 505.1L558.1 505.3L558.6 505.3L559.1 505.3L559.7 505.3L560.2 505.3L560.8 505.5L561.3 505.6L561.8 505.7L562.4 505.7L562.9 505.7L563.5 505.8L564 506.1L564.5 506.4L565.1 506.7L565.6 506.9L566.2 506.9L566.7 506.8L567.2 506.7L567.8 506.6L568.3 506.5L568.9 506.4L569.4 506.4L569.9 506.5L570.5 506.5L571 506.5L571.6 506.5L572.1 506.5L572.6 506.6L573.2 507L573.7 507.4L574.3 507.8L574.8 508.1L575.3 508.2L575.9 508.2L576.4 508.2L577 508L577.5 507.6L578 507L578.6 506.4L579.1 505.9L579.7 505.7L580.2 505.7L580.7 505.7L581.3 505.6L581.8 505.6L582.4 505.7L582.9 505.8L583.4 506.1L584 506.5L584.5 506.9L585.1 507.2L585.6 507.4L586.1 507.5L586.7 507.6L587.2 507.5L587.8 507.4L588.3 507.2L588.8 506.9L589.4 506.5L589.9 506.1L590.5 505.7L591 505.4L591.5 505.1L592.1 505L592.6 504.9L593.2 505L593.7 505.3L594.2 505.8L594.8 506.5L595.3 507.4L595.9 508.3L596.4 508.7L596.9 508.6L597.5 507.8L598 506.8L598.6 505.9L599.1 505.5L599.6 505.3L600.2 505.3L600.7 505.2L601.3 505.2L601.8 505.3L602.4 505.4L602.9 505.4L603.4 505.2L604 505.1L604.5 505L605.1 505.2L605.6 505.6L606.1 506L606.7 506.5L607.2 506.9L607.8 507.1L608.3 507L608.8 506.7L609.4 506.5L609.9 506.4L610.5 506.5L611 506.8L611.5 507.4L612.1 508L612.6 508.6L613.2 509L613.7 509.3L614.2 509.4L614.8 509.4L615.3 509.3L615.9 509.3L616.4 509.4L616.9 509.6L617.5 509.7L618 509.6L618.6 509.3L619.1 509L619.6 509L620.2 509.1L620.7 509.2L621.3 509.1L621.8 508.9L622.3 508.7L622.9 508.7L623.4 508.6L624 508.4L624.5 508.2L625 508L625.6 507.8L626.1 507.8L626.7 507.8L627.2 507.7L627.7 507.6L628.3 507.5L628.8 507.5L629.4 507.5L629.9 507.4L630.4 507.1L631 506.8L631.5 506.5L632.1 506.4L632.6 506.4L633.1 506.4L633.7 506.6L634.2 507L634.8 507.6L635.3 508L635.8 508.2L636.4 507.9L636.9 507.5L637.5 507.1L638 506.8L638.5 506.5L639.1 506.1L639.6 505.6L640.2 505.2L640.7 504.7L641.2 504.3L641.8 503.9L642.3 503.5L642.9 503.4L643.4 503.6L643.9 504.1L644.5 504.7L645 505.2L645.6 505.7L646.1 505.9L646.6 506.1L647.2 506.2L647.7 506.3L648.3 506.4L648.8 506.5L649.3 506.5L649.9 506.5L650.4 506.3L651 506L651.5 505.7L652 505.5L652.6 505.3L653.1 505.4L653.7 505.7L654.2 506.3L654.7 507.2L655.3 508L655.8 508.4L656.4 508.3L656.9 508L657.4 507.5L658 507.2L658.5 507.1L659.1 507L659.6 507L660.1 507.1L660.7 507.2L661.2 507.4L661.8 507.6L662.3 507.6L662.8 507.4L663.4 506.9L663.9 506.5L664.5 506.3L665 506.6L665.5 507.3L666.1 507.9L666.6 508.3L667.2 508.5L667.7 508.4L668.3 508.4L668.8 508.3L669.3 508.2L669.9 508L670.4 507.9L671 507.7L671.5 507.5L672 507.3L672.6 507.1L673.1 507L673.7 507L674.2 507.1L674.7 507.3L675.3 507.7L675.8 508.1L676.4 508.6L676.9 509L677.4 509.3L678 509.3L678.5 509L679.1 508.6L679.6 508L680.1 507.4L680.7 506.8L681.2 506.5L681.8 506.5L682.3 506.8L682.8 507.2L683.4 507.6L683.9 507.9L684.5 508L685 508L685.5 507.8L686.1 507.4L686.6 507.2L687.2 507L687.7 507L688.2 507.1L688.8 507.1L689.3 506.8L689.9 506.3L690.4 505.7L690.9 505L691.5 504.7L692 504.7L692.6 505L693.1 505.4L693.6 505.7L694.2 505.8L694.7 505.7L695.3 505.4L695.8 505.2L696.3 505.2L696.9 505.4L697.4 505.8L698 506.1L698.5 506.2L699 506L699.6 505.6L700.1 505.1L700.7 504.8L701.2 504.9L701.7 505.4L702.3 505.9L702.8 506.2L703.4 506.2L703.9 506.1L704.4 506.1L705 506.2L705.5 506.4L706.1 506.7L706.6 507L707.1 507.3L707.7 507.5L708.2 507.5L708.8 507.4L709.3 507.1L709.8 506.8L710.4 506.6L710.9 506.4L711.5 506.4L712 506.6L712.5 506.9L713.1 507.4L713.6 508L714.2 508.5L714.7 508.8L715.2 508.9L715.8 508.9L716.3 508.8L716.9 508.6L717.4 508.2L717.9 507.7L718.5 507.2L719 506.7L719.6 506.3L720.1 505.9L720.6 505.5L721.2 505L721.7 504.6L722.3 504.3L722.8 504.3L723.3 504.3L723.9 504.4L724.4 504.5L725 504.7L725.5 505.1L726 505.6L726.6 506.3L727.1 506.9L727.7 507.4L728.2 507.8L728.7 508L729.3 508.2L729.8 508.1L730.4 507.9L730.9 507.6L731.5 507.3L732 507L732.5 507.1L733.1 507.3L733.6 507.6L734.2 507.8L734.7 507.8L735.2 507.9L735.8 508.1L736.3 508.4L736.9 508.6L737.4 508.5L737.9 508.1L738.5 507.5L739 507L739.6 506.6L740.1 506.4L740.6 506.2L741.2 506L741.7 506L742.3 505.9L742.8 506L743.3 506L743.9 506.2L744.4 506.3L745 506.3L745.5 506.2L746 506L746.6 505.7L747.1 505.6L747.7 505.5L748.2 505.6L748.7 505.6L749.3 505.7L749.8 505.9L750.4 506L750.9 506.2L751.4 506.4L752 506.7L752.5 506.8L753.1 506.6L753.6 506.1L754.1 505.4L754.7 504.7L755.2 504.3L755.8 504.1L756.3 504.1L756.8 504.4L757.4 504.8L757.9 505.2L758.5 505.5L759 505.7L759.5 505.8L760.1 505.8L760.6 506L761.2 506.5L761.7 507.1L762.2 507.5L762.8 507.5L763.3 507.3L763.9 507L764.4 507.1L764.9 507.3L765.5 507.6L766 507.7L766.6 507.6L767.1 507.3L767.6 506.8L768.2 506.3L768.7 505.9L769.3 505.8L769.8 506.1L770.3 506.8L770.9 507.5L771.4 507.9L772 507.9L772.5 507.6L773 507.3L773.6 507.3L774.1 507.6L774.7 507.9L775.2 508.1L775.7 508.1L776.3 508.2L776.8 508.3L777.4 508.5L777.9 508.7L778.4 508.6L779 508.4L779.5 507.9L780.1 507.5L780.6 507L781.1 506.6L781.7 506.4L782.2 506.3L782.8 506.4L783.3 506.5L783.8 506.5L784.4 506.4L784.9 506.2L785.5 506.1L786 506.2L786.5 506.5L787.1 506.8L787.6 506.9L788.2 506.7L788.7 506.3L789.2 505.9L789.8 505.5L790.3 505.1L790.9 504.8L791.4 504.6L791.9 504.3L792.5 504L793 503.5L793.6 503.2L794.1 503L794.6 503.4L795.2 504.1L795.7 505L796.3 505.7L796.8 506L797.4 506.2L797.9 506.2L798.4 506.4L799 506.7L799.5 507L800.1 507.3L800.6 507.5L801.1 507.7L801.7 507.9L802.2 508.1L802.8 508.2L803.3 508.2L803.8 508.1L804.4 507.9L804.9 507.7L805.5 507.6L806 507.6L806.5 507.6L807.1 507.6L807.6 507.5L808.2 507.4L808.7 507.5L809.2 507.6L809.8 507.9L810.3 508L810.9 507.9L811.4 507.8L811.9 507.7L812.5 507.7L813 507.6L813.6 507.5L814.1 507.2L814.6 507L815.2 506.7L815.7 506.5L816.3 506.3L816.8 506L817.3 505.7L817.9 505.4L818.4 505.2L819 505.2L819.5 505.2L820 505.3L820.6 505.6L821.1 505.9L821.7 506.3L822.2 506.7L822.7 506.9L823.3 507.1L823.8 507.3L824.4 507.5L824.9 507.7L825.4 507.7L826 507.5L826.5 507.2L827.1 507L827.6 507L828.1 507.2L828.7 507.4L829.2 507.7L829.8 507.9L830.3 508.1L830.8 508.1L831.4 508.1L831.9 508L832.5 507.9L833 508L833.5 508.2L834.1 508.6L834.6 509L835.2 509.2L835.7 509.2L836.2 509.3L836.8 509.4L837.3 509.5L837.9 509.6L838.4 509.5L838.9 509.3L839.5 509.1L840 508.9L840.6 508.7L841.1 508.5L841.6 508.5L842.2 508.5L842.7 508.8L843.3 509.3L843.8 509.7L844.3 509.7L844.9 509.3L845.4 508.5L846 507.8L846.5 507.3L847 507L847.6 506.9L848.1 506.8L848.7 506.6L849.2 506.5L849.7 506.6L850.3 506.9L850.8 507.4L851.4 507.9L851.9 508.2L852.4 508.5L853 508.6L853.5 508.8L854.1 509.2L854.6 509.7L855.1 510.1L855.7 510.2L856.2 509.9L856.8 509.4L857.3 508.8L857.8 508.3L858.4 507.8L858.9 507.4L859.5 507L860 506.6L860.6 506.4L861.1 506.4L861.6 506.6L862.2 506.7L862.7 506.7L863.3 506.6L863.8 506.6L864.3 506.7L864.9 506.8L865.4 506.9L866 506.9L866.5 506.8L867 507L867.6 507.3L868.1 507.7L868.7 508L869.2 508L869.7 507.6L870.3 507.1L870.8 506.4L871.4 505.8L871.9 505.4L872.4 505.5L873 506L873.5 506.6L874.1 507.2L874.6 507.3L875.1 507L875.7 506.5L876.2 506.1L876.8 505.9L877.3 505.9L877.8 506L878.4 506.2L878.9 506.5L879.5 506.7L880 506.7L880.5 506.4L881.1 505.8L881.6 505.2L882.2 504.6L882.7 504.2L883.2 504.2L883.8 504.4L884.3 504.8L884.9 505.4L885.4 506.1L885.9 506.9L886.5 507.7L887 508.4L887.6 508.7L888.1 508.7L888.6 508.5L889.2 507.9L889.7 507.1L890.3 506.3L890.8 505.8L891.3 505.7L891.9 505.9L892.4 506.1L893 506.3L893.5 506.2L894 506.1L894.6 506.1L895.1 506L895.7 505.8L896.2 505.6L896.7 505.3L897.3 505.2L897.8 505.3L898.4 505.6L898.9 506L899.4 506.4L900 506.7L900.5 506.9L901.1 506.9L901.6 507L902.1 507.1L902.7 507.2L903.2 507.1L903.8 506.8L904.3 506.5L904.8 506.4L905.4 506.4L905.9 506.6L906.5 506.5L907 506L907.5 505.3L908.1 504.6L908.6 504.2L909.2 504.3L909.7 504.7L910.2 505.3L910.8 505.9L911.3 506.4L911.9 506.7L912.4 506.9L912.9 507.2L913.5 507.5L914 507.7L914.6 507.6L915.1 507.2L915.6 506.6L916.2 505.9L916.7 505.3L917.3 504.6L917.8 504L918.3 503.5L918.9 503.3L919.4 503.4L920 503.8L920.5 504.4L921 505.1L921.6 505.8L922.1 506.5L922.7 507L923.2 507.2L923.7 507.1L924.3 506.6L924.8 506.1L925.4 505.6L925.9 505.2L926.5 505.2L927 505.4L927.5 505.8L928.1 506.1L928.6 506.2L929.2 506.1L929.7 506L930.2 506L930.8 506L931.3 506.1L931.9 506.2L932.4 506.3L932.9 506.4L933.5 506.6L934 506.9L934.6 507.3L935.1 507.7L935.6 508.1L936.2 508.1L936.7 507.9L937.3 507.5L937.8 507.4L938.3 507.7L938.9 508.2L939.4 508.8L940 509.2L940.5 509.2L941 508.7L941.6 507.9L942.1 507.2L942.7 506.9L943.2 506.9L943.7 507.1L944.3 507.2L944.8 507L945.4 506.8L945.9 506.7L946.4 507L947 507.4L947.5 507.6L948.1 507.7L948.6 507.7L949.1 507.7L949.7 507.7L950.2 507.7L950.8 507.6L951.3 507.4L951.8 507.2L952.4 507L952.9 506.9L953.5 507L954 507.3L954.5 507.8L955.1 508.3L955.6 508.9L956.2 509.5L956.7 509.7L957.2 509.5L957.8 508.9L958.3 507.9L958.9 507L959.4 506.1L959.9 505.4L960.5 504.9L961 504.6L961.6 504.3L962.1 504.1L962.6 503.8L963.2 503.5L963.7 503.2L964.3 503.1L964.8 503.1L965.3 503.5L965.9 504.2L966.4 505L967 505.6L967.5 506.1L968 506.3L968.6 506.5L969.1 506.8L969.7 507.2L970.2 507.4L970.7 507.6L971.3 507.6L971.8 507.5L972.4 507.3L972.9 506.8L973.4 506.2L974 505.7L974.5 505.4L975.1 505.5L975.6 505.8L976.1 506.1L976.7 506.2L977.2 506L977.8 505.4L978.3 504.7L978.8 504.2L979.4 504L979.9 504.1L980.5 504.5L981 505.1L981.5 505.6L982.1 506.1L982.6 506.5L983.2 506.9L983.7 507.2L984.2 507.5L984.8 507.7L985.3 507.7L985.9 507.6L986.4 507.2L986.9 506.6L987.5 506L988 505.5L988.6 505.5L989.1 506L989.6 506.6L990.2 507.1L990.7 507.2L991.3 507.1L991.8 507.1L992.4 507.3L992.9 507.5L993.4 507.7L994 507.6L994.5 507.4L995.1 507.2L995.6 507.2L996.1 507.3L996.7 507.5L997.2 507.7L997.8 507.9L998.3 507.9L998.8 507.8L999.4 507.5L999.9 507.2L1000.5 506.9L1001 506.8L1001.5 507L1002.1 507.3L1002.6 507.3L1003.2 507.1L1003.7 506.8L1004.2 506.6L1004.8 506.7L1005.3 507L1005.9 507.3L1006.4 507.5L1006.9 507.6L1007.5 507.9L1008 508.4L1008.6 508.9L1009.1 509.3L1009.6 509.3L1010.2 508.9L1010.7 508.4L1011.3 507.9L1011.8 507.6L1012.3 507.4L1012.9 507.3L1013.4 507.2L1014 507.2L1014.5 507.3L1015 507.3L1015.6 507.4L1016.1 507.5L1016.7 507.6L1017.2 507.8L1017.7 508L1018.3 508.3L1018.8 508.5L1019.4 508.4L1019.9 508.1L1020.4 507.4L1021 506.8L1021.5 506.5L1022.1 506.7L1022.6 507.4L1023.1 508.3L1023.7 509.1L1024.2 509.6L1024.8 509.8L1025.3 509.6L1025.8 509.3L1026.4 508.9L1026.9 508.5L1027.5 508.2L1028 508L1028.5 507.9L1029.1 507.8L1029.6 507.5L1030.2 506.8L1030.7 505.9L1031.2 504.8L1031.8 504.1L1032.3 503.8L1032.9 504.2L1033.4 504.9L1033.9 505.6L1034.5 506.3L1035 506.7L1035.6 506.7L1036.1 506.5L1036.6 506.1L1037.2 505.7L1037.7 505.6L1038.3 505.9" stroke="#cccc10" stroke-width="2.3"/>
<path d="M1038.3 505.9L1038.8 506.6L1039.3 507.5L1039.9 508.4L1040.4 509L1041 509.2L1041.5 509L1042 508.5L1042.6 508L1043.1 507.7L1043.7 507.5L1044.2 507.5L1044.7 507.4L1045.3 507.3L1045.8 507.1L1046.4 507.2L1046.9 507.2L1047.4 507L1048 506.4L1048.5 505.7L1049.1 505.3L1049.6 505.4L1050.1 506L1050.7 506.7L1051.2 507.3L1051.8 507.6L1052.3 507.5L1052.8 507.1L1053.4 506.5L1053.9 506.1L1054.5 505.9L1055 506.2L1055.6 507L1056.1 508.3L1056.6 509.8L1057.2 511L1057.7 511.3L1058.3 510.4L1058.8 508.4L1059.3 506.2L1059.9 504.6L1060.4 503.9L1061 504.3L1061.5 505.5L1062 506.4L1062.6 506.5L1063.1 505.5L1063.7 503.7L1064.2 501.9L1064.7 500.8L1065.3 500.8L1065.8 501.8L1066.4 503.3L1066.9 505L1067.4 506.1L1068 506.7L1068.5 506.7L1069.1 506.2L1069.6 505.7L1070.1 505.3L1070.7 505.2L1071.2 505.4L1071.8 505.8L1072.3 506.3L1072.8 506.8L1073.4 507.1L1073.9 506.9L1074.5 506.4L1075 505.6L1075.5 504.9L1076.1 504.5L1076.6 504.5L1077.2 505L1077.7 505.6L1078.2 506.2L1078.8 506.5L1079.3 506.7L1079.9 506.9L1080.4 507.2L1080.9 508L1081.5 509L1082 509.8L1082.6 509.8L1083.1 508.6L1083.6 506.8L1084.2 505.1L1084.7 504.3L1085.3 504.7L1085.8 506.2L1086.3 507.7L1086.9 508.6L1087.4 508.7L1088 508.2L1088.5 507.1L1089 506.1L1089.6 505.3L1090.1 505.1L1090.7 505.6L1091.2 506.9L1091.7 508.3L1092.3 509.1L1092.8 508.8L1093.4 507.3L1093.9 505.5L1094.4 504.1L1095 504.1L1095.5 505.4L1096.1 507.2L1096.6 508.7L1097.1 509.8L1097.7 509.3L1098.2 507.3L1098.8 504.4L1099.3 502.4L1099.8 502.1L1100.4 504.9L1100.9 509.5L1101.5 514.8L1102 519.3L1102.5 519.1L1103.1 514.2L1103.6 507L1104.2 499.8L1104.7 495L1105.2 495.5L1105.8 500.6L1106.3 507.5L1106.9 513.5L1107.4 516.1L1107.9 514.6L1108.5 510L1109 505L1109.6 501.1L1110.1 498.5L1110.6 498.2L1111.2 500.2L1111.7 503.8L1112.3 507.7L1112.8 510L1113.3 509.9L1113.9 507.5L1114.4 504.4L1115 502.4L1115.5 502.8L1116 505.3L1116.6 508.8L1117.1 510.7L1117.7 510.2L1118.2 507L1118.7 503L1119.3 500.3L1119.8 500.1L1120.4 502.5L1120.9 506.4L1121.5 509.9L1122 511.8L1122.5 511.6L1123.1 509.4L1123.6 506.3L1124.2 503.5L1124.7 501.7L1125.2 501.6L1125.8 502.9L1126.3 504.9L1126.9 507.2L1127.4 509.1L1127.9 510.3L1128.5 510.4L1129 509.3L1129.6 507.2L1130.1 504.6L1130.6 502.4L1131.2 501.5L1131.7 502L1132.3 503.9L1132.8 506.1L1133.3 507.8L1133.9 508.4L1134.4 507.8L1135 506.6L1135.5 505.2L1136 504.3L1136.6 504.7L1137.1 505.9L1137.7 507.5L1138.2 508.8L1138.7 509.2L1139.3 508.7L1139.8 507.6L1140.4 506.1L1140.9 505.1L1141.4 505.1L1142 505.7L1142.5 506.3L1143.1 506.6L1143.6 506.2L1144.1 505.2L1144.7 504.7L1145.2 504.6L1145.8 504.9L1146.3 504.5L1146.8 504.1L1147.4 503.6L1147.9 504.4L1148.5 507.1L1149 510.5L1149.5 513.5L1150.1 513.5L1150.6 509.9L1151.2 504.5L1151.7 500.2L1152.2 500L1152.8 504.2L1153.3 510.9L1153.9 516.2L1154.4 516.7L1154.9 512.2L1155.5 505.1L1156 499.5L1156.6 498.6L1157.1 503.1L1157.6 509.7L1158.2 513.5L1158.7 512L1159.3 506.2L1159.8 499.3L1160.3 495.1L1160.9 495.3L1161.4 499.3L1162 505.2L1162.5 509.9L1163 512.7L1163.6 513.1L1164.1 512L1164.7 509.5L1165.2 506.9L1165.7 504.3L1166.3 502.9L1166.8 503.3L1167.4 504.3L1167.9 505.5L1168.4 506.3L1169 507L1169.5 507.4L1170.1 507.3L1170.6 507.7L1171.1 508.2L1171.7 508.7L1172.2 509.4L1172.8 509.7L1173.3 509.7L1173.8 509L1174.4 507.4L1174.9 504.7L1175.5 502.7L1176 502.4L1176.5 504.5L1177.1 508.4L1177.6 511.9L1178.2 513L1178.7 510.3L1179.2 504.8L1179.8 499.5L1180.3 497.5L1180.9 499.2L1181.4 504.1L1181.9 509.8L1182.5 513.8L1183 514.8L1183.6 513.4L1184.1 510.3L1184.7 506.5L1185.2 502.8L1185.7 500.3L1186.3 499.9L1186.8 501L1187.4 503L1187.9 505.2L1188.4 507.2L1189 508.4L1189.5 508.8L1190.1 508.4L1190.6 507.6L1191.1 506.5L1191.7 505.6L1192.2 504.7L1192.8 504L1193.3 503.6L1193.8 503.5L1194.4 503.8L1194.9 504.9L1195.5 506.4L1196 507.6L1196.5 508.2L1197.1 508L1197.6 507L1198.2 505.8L1198.7 504.8L1199.2 504.1L1199.8 504.3L1200.3 504.9L1200.9 506.4L1201.4 508.3L1201.9 510.1L1202.5 511.3L1203 511.4L1203.6 510.4L1204.1 508.6L1204.6 506L1205.2 503.4L1205.7 501.8L1206.3 502.2L1206.8 504.7L1207.3 508.7L1207.9 512.7L1208.4 514.6L1209 513.8L1209.5 510.4L1210 505.2L1210.6 500.3L1211.1 497.9L1211.7 498.7L1212.2 501.9L1212.7 505.8L1213.3 508.7L1213.8 509.9L1214.4 509L1214.9 507L1215.4 504.8L1216 503.5L1216.5 503.4L1217.1 504.5L1217.6 506.4L1218.1 508.5L1218.7 509.7L1219.2 509.4L1219.8 507.6L1220.3 505.5L1220.8 504.2L1221.4 504.6L1221.9 506.9L1222.5 509.3L1223 510.5L1223.5 509.9L1224.1 507.9L1224.6 505.3L1225.2 503L1225.7 502.2L1226.2 504L1226.8 508L1227.3 512.8L1227.9 516.5L1228.4 517L1228.9 513.7L1229.5 507.4L1230 500.9L1230.6 497.9L1231.1 499.5L1231.6 504.9L1232.2 511.5L1232.7 516.1L1233.3 516.7L1233.8 513.4L1234.3 507.9L1234.9 502.4L1235.4 499.8L1236 500.2L1236.5 503.3L1237 507.9L1237.6 511.8L1238.1 514L1238.7 513.5L1239.2 510.4L1239.7 505.6L1240.3 500.3L1240.8 497.2L1241.4 496.9L1241.9 500L1242.4 505L1243 510L1243.5 512.8L1244.1 511.9L1244.6 508.6L1245.1 504.6L1245.7 501.6L1246.2 501.3L1246.8 502.9L1247.3 505.3L1247.8 507L1248.4 508L1248.9 508.8L1249.5 509.4L1250 509.7L1250.6 509L1251.1 507.3L1251.6 505.3L1252.2 504.2L1252.7 504.3L1253.3 505.8L1253.8 508.1L1254.3 509.8L1254.9 510.5L1255.4 510L1256 508.2L1256.5 505.5L1257 503.5L1257.6 502.2L1258.1 502.3L1258.7 503.8L1259.2 506.9L1259.7 509.7L1260.3 511.2L1260.8 511L1261.4 509L1261.9 505.8L1262.4 503.7L1263 503.3L1263.5 504.6L1264.1 506.3L1264.6 507.1L1265.1 506.6L1265.7 505L1266.2 503.4L1266.8 503.2L1267.3 504.2L1267.8 506.3L1268.4 507.8L1268.9 507.9L1269.5 506.2L1270 503.7L1270.5 502L1271.1 501.6L1271.6 502.9L1272.2 505.4L1272.7 507.8L1273.2 509.2L1273.8 509L1274.3 508.3L1274.9 507.2L1275.4 506.3L1275.9 505.8L1276.5 505.3L1277 504.1L1277.6 503.2L1278.1 503.3L1278.6 504.5L1279.2 506.5L1279.7 508.3L1280.3 508.7L1280.8 508L1281.3 507L1281.9 506.2L1282.4 507L1283 507.5L1283.5 507.6L1284 506.8L1284.6 505.1L1285.1 504.1L1285.7 503.7L1286.2 504.3L1286.7 505.8L1287.3 507.7L1287.8 509.5L1288.4 510.8L1288.9 511L1289.4 509.7L1290 507.9L1290.5 506L1291.1 504.8L1291.6 505.3L1292.1 507.2L1292.7 509.5L1293.2 510.1L1293.8 508.7L1294.3 506L1294.8 502.5L1295.4 500.5L1295.9 501.7L1296.5 506.1L1297 511.7L1297.5 515.8L1298.1 514.8L1298.6 509.8L1299.2 504.1L1299.7 501.8L1300.2 504.2L1300.8 509.8L1301.3 514.3L1301.9 514L1302.4 506.9L1302.9 498.2L1303.5 492.1L1304 492.8L1304.6 501.1L1305.1 512.4L1305.6 520.8L1306.2 522L1306.7 515.5L1307.3 505.2L1307.8 497.9L1308.3 497.1L1308.9 502.7L1309.4 509.3L1310 513.4L1310.5 511.4L1311 506.1L1311.6 502.5L1312.1 503.2L1312.7 506.3L1313.2 509.4" stroke="#cccc10" stroke-width="1.9"/>
<path d="M341.4 646.6L343.1 646.6L344.7 646.6L346.3 646.6L347.9 646.6L349.6 646.6L351.2 646.6L352.8 646.6L354.4 646.6L356 646.6L357.7 646.6L359.3 646.6L360.9 646.6L362.5 646.6L364.1 646.6L365.8 646.6L367.4 646.6L369 646.6L370.6 646.6L372.2 646.6L373.9 646.6L375.5 646.6L377.1 646.6L378.7 646.6L380.3 646.6L382 646.6L383.6 646.6L385.2 646.1L386.8 646.1L388.4 646.1L390.1 646.1L391.7 646.1L393.3 646.1L394.9 646.1L396.5 646.1L398.2 646.1L399.8 646.1L401.4 646.1L403 646.1L404.6 646.1L406.3 646.1L407.9 646.1L409.5 646.1L411.1 646.1L412.8 646.1L414.4 646.1L416 646.1L417.6 646.1L419.2 646.1L420.9 646.1L422.5 646.1L424.1 646.1L425.7 646.1L427.3 646.1L429 646.1L430.6 646.1L432.2 646.1L433.8 646.1L435.4 646.1L437.1 646.1L438.7 646.1L440.3 646.1L441.9 646.1L443.5 646.1L445.2 646.1L446.8 646.1L448.4 646.1L450 646.1L451.6 646.1L453.3 646.1L454.9 646.1L456.5 646.1L458.1 646.1L459.7 646.1L461.4 646.1L463 646.1L464.6 646.1L466.2 646.1L467.8 646.1L469.5 645.5L471.1 645.5L472.7 645.5L474.3 645.5L476 645.5L477.6 645.5L479.2 645.5L480.8 645.5L482.4 645.5L484.1 645.5L485.7 645.5L487.3 645.5L488.9 645.5L490.5 645.5L492.2 645.5L493.8 645.5L495.4 645.5L497 645.5L498.6 645.5L500.3 645.5L501.9 645.5L503.5 645.5L505.1 645.5L506.7 645.5L508.4 645.5L510 645.5L511.6 645.5L513.2 645.5L514.8 645.5L516.5 645.5L518.1 645.5L519.7 645.5L521.3 645.5L522.9 645.5L524.6 645.5L526.2 645.5L527.8 645.5L529.4 645.5L531 645.5L532.7 645.5L534.3 645.5L535.9 645.5L537.5 645.5L539.2 645.5L540.8 645.5L542.4 645.5L544 645.5L545.6 645.5L547.3 645.5L548.9 645.5L550.5 645.5L552.1 645.5L553.7 645L555.4 645L557 645L558.6 645L560.2 645L561.8 645L563.5 645L565.1 645L566.7 645L568.3 645L569.9 645L571.6 645L573.2 645L574.8 645L576.4 645L578 645L579.7 645L581.3 645L582.9 645L584.5 645L586.1 645L587.8 645L589.4 645L591 645L592.6 645L594.2 645L595.9 645L597.5 645L599.1 645L600.7 645L602.4 645L604 645L605.6 645L607.2 645L608.8 645L610.5 645L612.1 645L613.7 645L615.3 645L616.9 645L618.6 645L620.2 645L621.8 645L623.4 645L625 645L626.7 645L628.3 645L629.9 645L631.5 645L633.1 645L634.8 645L636.4 645L638 644.5L639.6 644.5L641.2 644.5L642.9 644.5L644.5 644.5L646.1 644.5L647.7 644.5L649.3 644.5L651 644.5L652.6 644.5L654.2 644.5L655.8 644.5L657.4 644.5L659.1 644.5L660.7 644.5L662.3 644.5L663.9 644.5L665.5 644.5L667.2 644.5L668.8 644.5L670.4 644.5L672 644.5L673.7 644.5L675.3 644.5L676.9 644.5L678.5 644.5L680.1 644.5L681.8 644.5L683.4 644.5L685 644.5L686.6 644.5L688.2 644.5L689.9 644.5L691.5 644.5L693.1 644.5L694.7 644.5L696.3 644.5L698 644.5L699.6 644.5L701.2 644.5L702.8 644.5L704.4 644.5L706.1 644.5L707.7 644.5L709.3 644.5L710.9 644.5L712.5 644.5L714.2 644.5L715.8 644.5L717.4 644.5L719 644.5L720.6 644.5L722.3 643.9L723.9 643.9L725.5 643.9L727.1 643.9L728.7 643.9L730.4 643.9L732 643.9L733.6 643.9L735.2 643.9L736.9 643.9L738.5 643.9L740.1 643.9L741.7 643.9L743.3 643.9L745 643.9L746.6 643.9L748.2 643.9L749.8 643.9L751.4 643.9L753.1 643.9L754.7 643.9L756.3 643.9L757.9 643.9L759.5 643.9L761.2 643.9L762.8 643.9L764.4 643.9L766 643.9L767.6 643.9L769.3 643.9L770.9 643.9L772.5 643.9L774.1 643.9L775.7 643.9L777.4 643.9L779 643.9L780.6 643.9L782.2 643.9L783.8 643.9L785.5 643.9L787.1 643.9L788.7 643.9L790.3 643.9L791.9 643.9L793.6 643.9L795.2 643.9L796.8 643.9L798.4 643.9L800.1 643.9L801.7 643.9L803.3 643.9L804.9 643.9L806.5 643.4L808.2 643.4L809.8 643.4L811.4 643.4L813 643.4L814.6 643.4L816.3 643.4L817.9 643.4L819.5 643.4L821.1 643.4L822.7 643.4L824.4 643.4L826 643.4L827.6 643.4L829.2 643.4L830.8 643.4L832.5 643.4L834.1 643.4L835.7 643.4L837.3 643.4L838.9 643.4L840.6 643.4L842.2 643.4L843.8 643.4L845.4 643.4L847 643.4L848.7 643.4L850.3 643.4L851.9 643.4L853.5 643.4L855.1 643.4L856.8 643.4L858.4 643.4L860 643.4L861.6 643.4L863.3 643.4L864.9 643.4L866.5 643.4L868.1 643.4L869.7 643.4L871.4 643.4L873 643.4L874.6 643.4L876.2 643.4L877.8 643.4L879.5 643.4L881.1 643.4L882.7 643.4L884.3 643.4L885.9 643.4L887.6 643.4L889.2 643.4L890.8 643.4L892.4 642.9L894 642.9L895.7 642.9L897.3 642.9L898.9 642.9L900.5 642.9L902.1 642.9L903.8 642.9L905.4 642.9L907 642.9L908.6 642.9L910.2 642.9L911.9 642.9L913.5 642.9L915.1 642.9L916.7 642.9L918.3 642.9L920 642.9L921.6 642.9L923.2 642.9L924.8 642.9L926.5 642.9L928.1 642.9L929.7 642.9L931.3 642.9L932.9 642.9L934.6 642.9L936.2 642.9L937.8 642.9L939.4 642.9L941 642.9L942.7 642.9L944.3 642.9L945.9 642.9L947.5 642.9L949.1 642.9L950.8 642.9L952.4 642.9L954 642.9L955.6 642.9L957.2 642.9L958.9 642.9L960.5 642.9L962.1 642.9L963.7 642.9L965.3 642.9L967 642.9L968.6 642.9L970.2 642.9L971.8 642.9L973.4 642.9L975.1 642.9L976.7 642.4L978.3 642.4L979.9 642.4L981.5 642.4L983.2 642.4L984.8 642.4L986.4 642.4L988 642.4L989.6 642.4L991.3 642.4L992.9 642.4L994.5 642.4L996.1 642.4L997.8 642.4L999.4 642.4L1001 642.4L1002.6 642.4L1004.2 642.4L1005.9 642.4L1007.5 642.4L1009.1 642.4L1010.7 642.4L1012.3 642.4L1014 642.4L1015.6 642.4L1017.2 642.4L1018.8 642.4L1020.4 642.4L1022.1 642.4L1023.7 642.4L1025.3 642.4L1026.9 642.4L1028.5 642.4L1030.2 642.4L1031.8 642.4L1033.4 642.4L1035 642.4L1036.6 642.4L1038.3 642.4L1039.9 642.4L1041.5 642.4L1043.1 642.4L1044.7 642.4L1046.4 642.4L1048 642.4L1049.6 642.4L1051.2 642.4L1052.8 642.4L1054.5 642.4L1056.1 642.4L1057.7 642.4L1059.3 642.4L1061 641.8L1062.6 641.8L1064.2 641.8L1065.8 641.8L1067.4 641.8L1069.1 641.8L1070.7 641.8L1072.3 641.8L1073.9 641.8L1075.5 641.8L1077.2 641.8L1078.8 641.8L1080.4 641.8L1082 641.8L1083.6 641.8L1085.3 641.8L1086.9 641.8L1088.5 641.8L1090.1 641.8L1091.7 641.8L1093.4 641.8L1095 641.8L1096.6 641.8L1098.2 641.8L1099.8 641.8L1101.5 641.8L1103.1 641.8L1104.7 641.8L1106.3 641.8L1107.9 641.8L1109.6 641.8L1111.2 641.8L1112.8 641.8L1114.4 641.8L1116 641.8L1117.7 641.8L1119.3 641.8L1120.9 641.8L1122.5 641.8L1124.2 641.8L1125.8 641.8L1127.4 641.8L1129 641.8L1130.6 641.8L1132.3 641.8L1133.9 641.8L1135.5 641.8L1137.1 641.8L1138.7 641.8L1140.4 641.8L1142 641.8L1143.6 641.8L1145.2 641.3L1146.8 641.3L1148.5 641.3L1150.1 641.3L1151.7 641.3L1153.3 641.3L1154.9 641.3L1156.6 641.3L1158.2 641.3L1159.8 641.3L1161.4 641.3L1163 641.3L1164.7 641.3L1166.3 641.3L1167.9 641.3L1169.5 641.3L1171.1 641.3L1172.8 641.3L1174.4 641.3L1176 641.3L1177.6 641.3L1179.2 641.3L1180.9 641.3L1182.5 641.3L1184.1 641.3L1185.7 641.3L1187.4 641.3L1189 641.3L1190.6 641.3L1192.2 641.3L1193.8 641.3L1195.5 641.3L1197.1 641.3L1198.7 641.3L1200.3 641.3L1201.9 641.3L1203.6 641.3L1205.2 641.3L1206.8 641.3L1208.4 641.3L1210 641.3L1211.7 641.3L1213.3 641.3L1214.9 641.3L1216.5 641.3L1218.1 641.3L1219.8 641.3L1221.4 641.3L1223 641.3L1224.6 641.3L1226.2 641.3L1227.9 641.3L1229.5 640.8L1231.1 640.8L1232.7 640.8L1234.3 640.8L1236 640.8L1237.6 640.8L1239.2 640.8L1240.8 640.8L1242.4 640.8L1244.1 640.8L1245.7 640.8L1247.3 640.8L1248.9 640.8L1250.6 640.8L1252.2 640.8L1253.8 640.8L1255.4 640.8L1257 640.8L1258.7 640.8L1260.3 640.8L1261.9 640.8L1263.5 640.8L1265.1 640.8L1266.8 640.8L1268.4 640.8L1270 640.8L1271.6 640.8L1273.2 640.8L1274.9 640.8L1276.5 640.8L1278.1 640.8L1279.7 640.8L1281.3 640.8L1283 640.8L1284.6 640.8L1286.2 640.8L1287.8 640.8L1289.4 640.8L1291.1 640.8L1292.7 640.8L1294.3 640.8L1295.9 640.8L1297.5 640.8L1299.2 640.8L1300.8 640.8L1302.4 640.8L1304 640.8L1305.6 640.8L1307.3 640.8L1308.9 640.8L1310.5 640.8L1312.1 640.8" stroke="#ff0000" stroke-width="4.2" stroke-linecap="round"/>
</g>
<g id="noisebar">
<path d="M228.0 427.5V585.9M221.0 427.5h14M221.0 585.9h14" stroke="#bebebe" stroke-width="2" fill="none"/>
<circle cx="228.0" cy="506.7" r="4.2" fill="#000"/>
<text transform="translate(259.4 507.1) rotate(-90)" text-anchor="middle" style="font-size:24px">Typical noise level</text>
</g>
<g id="axes">
<path class="tk" d="M179.40 902.6v11.0M179.40 110.8v-11.0M195.61 902.6v5.5M195.61 110.8v-5.5M211.81 902.6v5.5M211.81 110.8v-5.5M228.01 902.6v5.5M228.01 110.8v-5.5M244.22 902.6v5.5M244.22 110.8v-5.5M260.43 902.6v5.5M260.43 110.8v-5.5M276.63 902.6v5.5M276.63 110.8v-5.5M292.83 902.6v5.5M292.83 110.8v-5.5M309.04 902.6v5.5M309.04 110.8v-5.5M325.25 902.6v5.5M325.25 110.8v-5.5M341.45 902.6v11.0M341.45 110.8v-11.0M357.65 902.6v5.5M357.65 110.8v-5.5M373.86 902.6v5.5M373.86 110.8v-5.5M390.06 902.6v5.5M390.06 110.8v-5.5M406.27 902.6v5.5M406.27 110.8v-5.5M422.48 902.6v5.5M422.48 110.8v-5.5M438.68 902.6v5.5M438.68 110.8v-5.5M454.88 902.6v5.5M454.88 110.8v-5.5M471.09 902.6v5.5M471.09 110.8v-5.5M487.29 902.6v5.5M487.29 110.8v-5.5M503.50 902.6v11.0M503.50 110.8v-11.0M519.70 902.6v5.5M519.70 110.8v-5.5M535.91 902.6v5.5M535.91 110.8v-5.5M552.12 902.6v5.5M552.12 110.8v-5.5M568.32 902.6v5.5M568.32 110.8v-5.5M584.52 902.6v5.5M584.52 110.8v-5.5M600.73 902.6v5.5M600.73 110.8v-5.5M616.93 902.6v5.5M616.93 110.8v-5.5M633.14 902.6v5.5M633.14 110.8v-5.5M649.34 902.6v5.5M649.34 110.8v-5.5M665.55 902.6v11.0M665.55 110.8v-11.0M681.75 902.6v5.5M681.75 110.8v-5.5M697.96 902.6v5.5M697.96 110.8v-5.5M714.16 902.6v5.5M714.16 110.8v-5.5M730.37 902.6v5.5M730.37 110.8v-5.5M746.57 902.6v5.5M746.57 110.8v-5.5M762.78 902.6v5.5M762.78 110.8v-5.5M778.98 902.6v5.5M778.98 110.8v-5.5M795.19 902.6v5.5M795.19 110.8v-5.5M811.39 902.6v5.5M811.39 110.8v-5.5M827.60 902.6v11.0M827.60 110.8v-11.0M843.80 902.6v5.5M843.80 110.8v-5.5M860.01 902.6v5.5M860.01 110.8v-5.5M876.21 902.6v5.5M876.21 110.8v-5.5M892.42 902.6v5.5M892.42 110.8v-5.5M908.62 902.6v5.5M908.62 110.8v-5.5M924.83 902.6v5.5M924.83 110.8v-5.5M941.03 902.6v5.5M941.03 110.8v-5.5M957.24 902.6v5.5M957.24 110.8v-5.5M973.44 902.6v5.5M973.44 110.8v-5.5M989.65 902.6v11.0M989.65 110.8v-11.0M1005.85 902.6v5.5M1005.85 110.8v-5.5M1022.06 902.6v5.5M1022.06 110.8v-5.5M1038.26 902.6v5.5M1038.26 110.8v-5.5M1054.47 902.6v5.5M1054.47 110.8v-5.5M1070.67 902.6v5.5M1070.67 110.8v-5.5M1086.88 902.6v5.5M1086.88 110.8v-5.5M1103.09 902.6v5.5M1103.09 110.8v-5.5M1119.29 902.6v5.5M1119.29 110.8v-5.5M1135.49 902.6v5.5M1135.49 110.8v-5.5M1151.70 902.6v11.0M1151.70 110.8v-11.0M1167.90 902.6v5.5M1167.90 110.8v-5.5M1184.11 902.6v5.5M1184.11 110.8v-5.5M1200.31 902.6v5.5M1200.31 110.8v-5.5M1216.52 902.6v5.5M1216.52 110.8v-5.5M1232.72 902.6v5.5M1232.72 110.8v-5.5M1248.93 902.6v5.5M1248.93 110.8v-5.5M1265.13 902.6v5.5M1265.13 110.8v-5.5M1281.34 902.6v5.5M1281.34 110.8v-5.5M1297.55 902.6v5.5M1297.55 110.8v-5.5M1313.75 902.6v11.0M1313.75 110.8v-11.0M1329.95 902.6v5.5M1329.95 110.8v-5.5M1346.16 902.6v5.5M1346.16 110.8v-5.5M1362.37 902.6v5.5M1362.37 110.8v-5.5M1378.57 902.6v5.5M1378.57 110.8v-5.5M1394.77 902.6v5.5M1394.77 110.8v-5.5M1410.98 902.6v5.5M1410.98 110.8v-5.5M1427.18 902.6v5.5M1427.18 110.8v-5.5M1443.39 902.6v5.5M1443.39 110.8v-5.5M1459.60 902.6v5.5M1459.60 110.8v-5.5M1475.80 902.6v11.0M1475.80 110.8v-11.0M179.4 902.60h-12.0M179.4 882.81h-6.0M179.4 863.01h-6.0M179.4 843.22h-6.0M179.4 823.42h-6.0M179.4 803.62h-12.0M179.4 783.83h-6.0M179.4 764.04h-6.0M179.4 744.24h-6.0M179.4 724.45h-6.0M179.4 704.65h-12.0M179.4 684.86h-6.0M179.4 665.06h-6.0M179.4 645.26h-6.0M179.4 625.47h-6.0M179.4 605.67h-12.0M179.4 585.88h-6.0M179.4 566.09h-6.0M179.4 546.29h-6.0M179.4 526.50h-6.0M179.4 506.70h-12.0M179.4 486.90h-6.0M179.4 467.11h-6.0M179.4 447.31h-6.0M179.4 427.52h-6.0M179.4 407.72h-12.0M179.4 387.93h-6.0M179.4 368.13h-6.0M179.4 348.34h-6.0M179.4 328.54h-6.0M179.4 308.75h-12.0M179.4 288.95h-6.0M179.4 269.16h-6.0M179.4 249.36h-6.0M179.4 229.57h-6.0M179.4 209.77h-12.0M179.4 189.98h-6.0M179.4 170.18h-6.0M179.4 150.39h-6.0M179.4 130.59h-6.0M179.4 110.80h-12.0M1475.8 500.10h5.5M1475.8 493.50h5.5M1475.8 486.91h5.5M1475.8 480.31h5.5M1475.8 473.71h5.5M1475.8 467.11h5.5M1475.8 460.51h5.5M1475.8 453.91h5.5M1475.8 447.32h5.5M1475.8 440.72h11.0M1475.8 434.12h5.5M1475.8 427.52h5.5M1475.8 420.92h5.5M1475.8 414.32h5.5M1475.8 407.73h5.5M1475.8 401.13h5.5M1475.8 394.53h5.5M1475.8 387.93h5.5M1475.8 381.33h5.5M1475.8 374.73h11.0M1475.8 368.14h5.5M1475.8 361.54h5.5M1475.8 354.94h5.5M1475.8 348.34h5.5M1475.8 341.74h5.5M1475.8 335.14h5.5M1475.8 328.55h5.5M1475.8 321.95h5.5M1475.8 315.35h5.5M1475.8 308.75h11.0M1475.8 302.15h5.5M1475.8 295.55h5.5M1475.8 288.96h5.5M1475.8 282.36h5.5M1475.8 275.76h5.5M1475.8 269.16h5.5M1475.8 262.56h5.5M1475.8 255.96h5.5M1475.8 249.37h5.5M1475.8 242.77h11.0M1475.8 236.17h5.5M1475.8 229.57h5.5M1475.8 222.97h5.5M1475.8 216.37h5.5M1475.8 209.78h5.5M1475.8 203.18h5.5M1475.8 196.58h5.5M1475.8 189.98h5.5M1475.8 183.38h5.5M1475.8 176.78h11.0M1475.8 170.19h5.5M1475.8 163.59h5.5M1475.8 156.99h5.5M1475.8 150.39h5.5M1475.8 143.79h5.5M1475.8 137.19h5.5M1475.8 130.59h5.5M1475.8 124.00h5.5M1475.8 117.40h5.5M1475.8 110.80h11.0M1475.8 902.60h11.0M1475.8 889.40h5.5M1475.8 876.21h5.5M1475.8 863.01h5.5M1475.8 849.81h5.5M1475.8 836.62h11.0M1475.8 823.42h5.5M1475.8 810.22h5.5M1475.8 797.03h5.5M1475.8 783.83h5.5M1475.8 770.63h11.0M1475.8 757.44h5.5M1475.8 744.24h5.5M1475.8 731.04h5.5M1475.8 717.85h5.5M1475.8 704.65h11.0M1475.8 691.45h5.5M1475.8 678.26h5.5M1475.8 665.06h5.5M1475.8 651.86h5.5M1475.8 638.67h11.0M1475.8 625.47h5.5M1475.8 612.27h5.5M1475.8 599.08h5.5M1475.8 585.88h5.5M1475.8 572.68h11.0M1475.8 559.49h5.5M1475.8 546.29h5.5M1475.8 533.09h5.5M1475.8 519.90h5.5"/>
<rect x="179.4" y="110.8" width="1296.4" height="791.8" fill="none" stroke="#000" stroke-width="2.6"/>
<text class="an" x="179.4" y="946" text-anchor="middle">−10</text>
<text class="an" x="341.4" y="946" text-anchor="middle">0</text>
<text class="an" x="503.5" y="946" text-anchor="middle">10</text>
<text class="an" x="665.5" y="946" text-anchor="middle">20</text>
<text class="an" x="827.6" y="946" text-anchor="middle">30</text>
<text class="an" x="989.6" y="946" text-anchor="middle">40</text>
<text class="an" x="1151.7" y="946" text-anchor="middle">50</text>
<text class="an" x="1313.8" y="946" text-anchor="middle">60</text>
<text class="an" x="1475.8" y="946" text-anchor="middle">70</text>
<text class="an" x="156" y="912.8" text-anchor="end">−100</text>
<text class="an" x="156" y="813.8" text-anchor="end">−75</text>
<text class="an" x="156" y="714.9" text-anchor="end">−50</text>
<text class="an" x="156" y="615.9" text-anchor="end">−25</text>
<text class="an" x="156" y="516.9" text-anchor="end">0</text>
<text class="an" x="156" y="417.9" text-anchor="end">25</text>
<text class="an" x="156" y="318.9" text-anchor="end">50</text>
<text class="an" x="156" y="220.0" text-anchor="end">75</text>
<text class="an" x="156" y="121.0" text-anchor="end">100</text>
<text class="an" x="1561.3" y="450.9" text-anchor="end">980</text>
<text class="an" x="1561.3" y="384.9" text-anchor="end">990</text>
<text class="an" x="1561.3" y="318.9" text-anchor="end">1000</text>
<text class="an" x="1561.3" y="253.0" text-anchor="end">1010</text>
<text class="an" x="1561.3" y="187.0" text-anchor="end">1020</text>
<text class="an" x="1561.3" y="121.0" text-anchor="end">1030</text>
<text class="an" x="1576" y="912.8" text-anchor="end">−1500</text>
<text class="an" x="1576" y="846.8" text-anchor="end">−1000</text>
<text class="an" x="1576" y="780.8" text-anchor="end">−500</text>
<text class="an" x="1576" y="714.9" text-anchor="end">0</text>
<text class="an" x="1576" y="648.9" text-anchor="end">500</text>
<text class="an" x="1576" y="582.9" text-anchor="end">1000</text>
</g>
<g id="labels">
<text class="lb" x="827.1" y="999" text-anchor="middle">Time [min] from 2010−06−09 23:00:00 UTC</text>
<text class="lb" transform="translate(67.3 507.0) rotate(-90)" text-anchor="middle">Obs’d Gravity [nm/s<tspan dy="-12.6" style="font-size:25.2px">2</tspan><tspan dy="12.6">]</tspan></text>
<text class="lb" transform="translate(1615 308.8) rotate(-90)" text-anchor="middle">Pressure [hPa]</text>
<text class="lb" transform="translate(1632 703.4) rotate(-90)" text-anchor="middle">Tide [nm/s<tspan dy="-12.6" style="font-size:25.2px">2</tspan><tspan dy="12.6">]</tspan></text>
<text class="b" x="575.3" y="82" style="font-size:32.25px">SCG_054 gravimeter Onsala Space Observatory, Sweden</text>
<text class="b" x="208.4" y="888.3" style="font-size:27.8px">The latest 1−hour, 1−second sampling</text>
<text class="b" x="1447.4" y="888.3" text-anchor="end" style="font-size:27.95px">End at 2010−06−09 23:59:59 UTC</text>
<text class="an" x="186.5" y="759.2" style="fill:#a6a6a6">Start:</text>
<text class="an" x="186.5" y="801.4" style="fill:#a6a6a6">23:25:00</text>
</g>
<g id="legend">
<rect x="182.9" y="28.4" width="372.5" height="152.7" fill="#fff" stroke="#000" stroke-width="0.6"/>
<path d="M220 39.1h56.4" stroke="#0000ff" stroke-width="0.7" fill="none"/>
<circle cx="248.2" cy="39.1" r="4.3" fill="#0000ff"/>
<text class="lg" x="295.5" y="47.7">Pressure</text>
<path d="M220 69.6h56.4" stroke="#00c8c8" stroke-width="0.7" fill="none"/>
<circle cx="248.2" cy="69.6" r="4.3" fill="#00c8c8"/>
<text class="lg" x="295.5" y="78.2">dP/dt range ±0.3 hPa/s</text>
<path d="M220 100.1h56.4" stroke="#000" stroke-width="3" fill="none"/>
<text class="lg" x="295.5" y="108.7">Residual</text>
<path d="M220 130.6h56.4" stroke="#bebebe" stroke-width="3" fill="none"/>
<text class="lg" x="295.5" y="139.2">10 minutes slice</text>
<path d="M220 161.1h56.4" stroke="#ff0000" stroke-width="0.7" fill="none"/>
<circle cx="248.2" cy="161.1" r="4.3" fill="#ff0000"/>
<text class="lg" x="295.5" y="169.7">Theor.Tide</text>
</g>
</svg>
</body></html>
